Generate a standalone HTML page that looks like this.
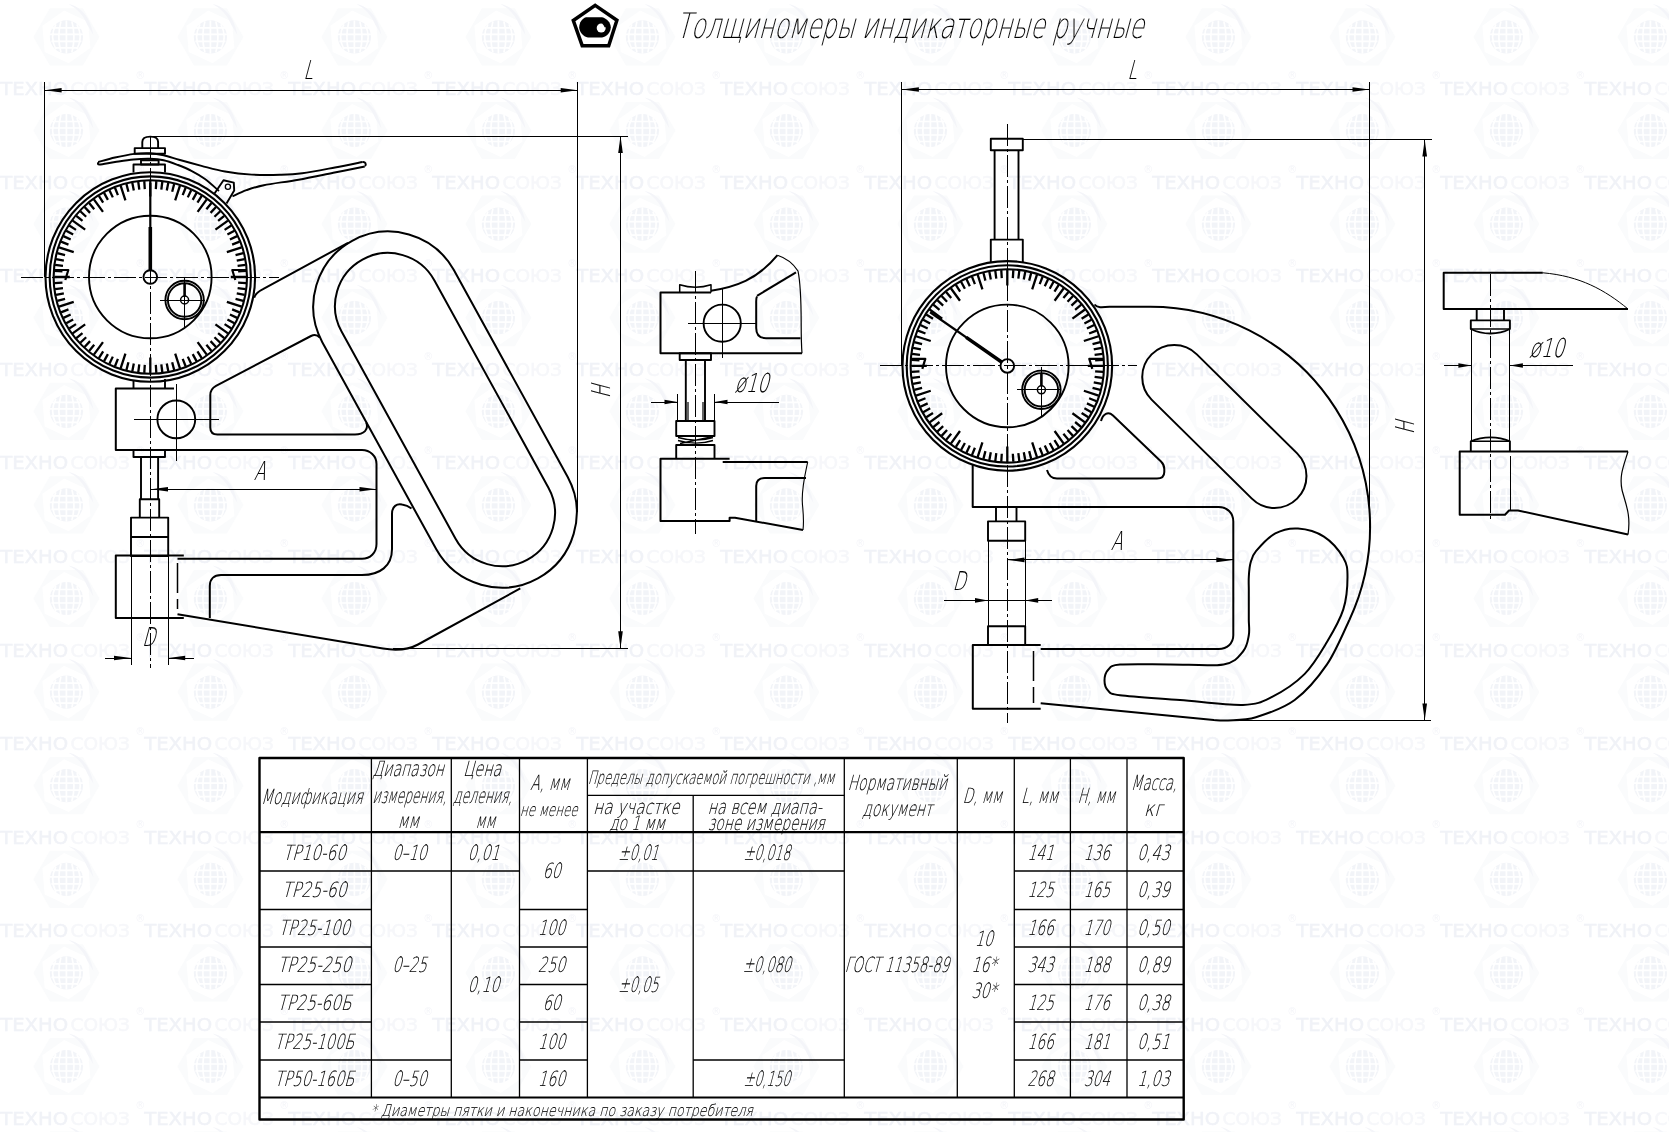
<!DOCTYPE html>
<html lang="ru"><head><meta charset="utf-8"><title>Толщиномеры индикаторные ручные</title>
<style>
html,body{margin:0;padding:0;background:#fff}
body{width:1669px;height:1132px;overflow:hidden}
svg{display:block;will-change:transform}
.dr{fill:none;stroke:#000;stroke-linecap:butt;stroke-linejoin:round}
.dr text{fill:#000;font-family:"DejaVu Sans Light","DejaVu Sans","Liberation Sans",sans-serif;font-weight:200}
.wm text{font-family:"DejaVu Sans","Liberation Sans",sans-serif;font-size:18.2px;font-weight:normal}
.wm .w1{fill:#f0f2f7;stroke:#f0f2f7;stroke-width:0.5px}
.wm .w2{fill:#f6f7fa;stroke:#f6f7fa;stroke-width:0.5px}
.wm .w3{fill:#f4f5f9;font-size:10px;font-weight:normal}
</style></head><body>
<svg width="1669" height="1132" viewBox="0 0 1669 1132">
<rect width="1669" height="1132" fill="#fff"/>
<g class="wm">
<text x="0.2" y="94.9"><tspan class="w1" textLength="68" lengthAdjust="spacingAndGlyphs">ТЕХНО</tspan><tspan class="w2" x="70.5" textLength="59.5" lengthAdjust="spacingAndGlyphs">СОЮЗ</tspan></text>
<text x="144.2" y="94.9"><tspan class="w1" textLength="68" lengthAdjust="spacingAndGlyphs">ТЕХНО</tspan><tspan class="w2" x="214.5" textLength="59.5" lengthAdjust="spacingAndGlyphs">СОЮЗ</tspan></text><text x="135.2" y="79.4" class="w3">®</text>
<text x="288.2" y="94.9"><tspan class="w1" textLength="68" lengthAdjust="spacingAndGlyphs">ТЕХНО</tspan><tspan class="w2" x="358.5" textLength="59.5" lengthAdjust="spacingAndGlyphs">СОЮЗ</tspan></text><text x="279.2" y="79.4" class="w3">®</text>
<text x="432.2" y="94.9"><tspan class="w1" textLength="68" lengthAdjust="spacingAndGlyphs">ТЕХНО</tspan><tspan class="w2" x="502.5" textLength="59.5" lengthAdjust="spacingAndGlyphs">СОЮЗ</tspan></text><text x="423.2" y="79.4" class="w3">®</text>
<text x="576.2" y="94.9"><tspan class="w1" textLength="68" lengthAdjust="spacingAndGlyphs">ТЕХНО</tspan><tspan class="w2" x="646.5" textLength="59.5" lengthAdjust="spacingAndGlyphs">СОЮЗ</tspan></text><text x="567.2" y="79.4" class="w3">®</text>
<text x="720.2" y="94.9"><tspan class="w1" textLength="68" lengthAdjust="spacingAndGlyphs">ТЕХНО</tspan><tspan class="w2" x="790.5" textLength="59.5" lengthAdjust="spacingAndGlyphs">СОЮЗ</tspan></text><text x="711.2" y="79.4" class="w3">®</text>
<text x="864.2" y="94.9"><tspan class="w1" textLength="68" lengthAdjust="spacingAndGlyphs">ТЕХНО</tspan><tspan class="w2" x="934.5" textLength="59.5" lengthAdjust="spacingAndGlyphs">СОЮЗ</tspan></text><text x="855.2" y="79.4" class="w3">®</text>
<text x="1008.2" y="94.9"><tspan class="w1" textLength="68" lengthAdjust="spacingAndGlyphs">ТЕХНО</tspan><tspan class="w2" x="1078.5" textLength="59.5" lengthAdjust="spacingAndGlyphs">СОЮЗ</tspan></text><text x="999.2" y="79.4" class="w3">®</text>
<text x="1152.2" y="94.9"><tspan class="w1" textLength="68" lengthAdjust="spacingAndGlyphs">ТЕХНО</tspan><tspan class="w2" x="1222.5" textLength="59.5" lengthAdjust="spacingAndGlyphs">СОЮЗ</tspan></text><text x="1143.2" y="79.4" class="w3">®</text>
<text x="1296.2" y="94.9"><tspan class="w1" textLength="68" lengthAdjust="spacingAndGlyphs">ТЕХНО</tspan><tspan class="w2" x="1366.5" textLength="59.5" lengthAdjust="spacingAndGlyphs">СОЮЗ</tspan></text><text x="1287.2" y="79.4" class="w3">®</text>
<text x="1440.2" y="94.9"><tspan class="w1" textLength="68" lengthAdjust="spacingAndGlyphs">ТЕХНО</tspan><tspan class="w2" x="1510.5" textLength="59.5" lengthAdjust="spacingAndGlyphs">СОЮЗ</tspan></text><text x="1431.2" y="79.4" class="w3">®</text>
<text x="1584.2" y="94.9"><tspan class="w1" textLength="68" lengthAdjust="spacingAndGlyphs">ТЕХНО</tspan><tspan class="w2" x="1654.5" textLength="59.5" lengthAdjust="spacingAndGlyphs">СОЮЗ</tspan></text><text x="1575.2" y="79.4" class="w3">®</text>
<text x="0.2" y="188.5"><tspan class="w1" textLength="68" lengthAdjust="spacingAndGlyphs">ТЕХНО</tspan><tspan class="w2" x="70.5" textLength="59.5" lengthAdjust="spacingAndGlyphs">СОЮЗ</tspan></text>
<text x="144.2" y="188.5"><tspan class="w1" textLength="68" lengthAdjust="spacingAndGlyphs">ТЕХНО</tspan><tspan class="w2" x="214.5" textLength="59.5" lengthAdjust="spacingAndGlyphs">СОЮЗ</tspan></text><text x="135.2" y="173" class="w3">®</text>
<text x="288.2" y="188.5"><tspan class="w1" textLength="68" lengthAdjust="spacingAndGlyphs">ТЕХНО</tspan><tspan class="w2" x="358.5" textLength="59.5" lengthAdjust="spacingAndGlyphs">СОЮЗ</tspan></text><text x="279.2" y="173" class="w3">®</text>
<text x="432.2" y="188.5"><tspan class="w1" textLength="68" lengthAdjust="spacingAndGlyphs">ТЕХНО</tspan><tspan class="w2" x="502.5" textLength="59.5" lengthAdjust="spacingAndGlyphs">СОЮЗ</tspan></text><text x="423.2" y="173" class="w3">®</text>
<text x="576.2" y="188.5"><tspan class="w1" textLength="68" lengthAdjust="spacingAndGlyphs">ТЕХНО</tspan><tspan class="w2" x="646.5" textLength="59.5" lengthAdjust="spacingAndGlyphs">СОЮЗ</tspan></text><text x="567.2" y="173" class="w3">®</text>
<text x="720.2" y="188.5"><tspan class="w1" textLength="68" lengthAdjust="spacingAndGlyphs">ТЕХНО</tspan><tspan class="w2" x="790.5" textLength="59.5" lengthAdjust="spacingAndGlyphs">СОЮЗ</tspan></text><text x="711.2" y="173" class="w3">®</text>
<text x="864.2" y="188.5"><tspan class="w1" textLength="68" lengthAdjust="spacingAndGlyphs">ТЕХНО</tspan><tspan class="w2" x="934.5" textLength="59.5" lengthAdjust="spacingAndGlyphs">СОЮЗ</tspan></text><text x="855.2" y="173" class="w3">®</text>
<text x="1008.2" y="188.5"><tspan class="w1" textLength="68" lengthAdjust="spacingAndGlyphs">ТЕХНО</tspan><tspan class="w2" x="1078.5" textLength="59.5" lengthAdjust="spacingAndGlyphs">СОЮЗ</tspan></text><text x="999.2" y="173" class="w3">®</text>
<text x="1152.2" y="188.5"><tspan class="w1" textLength="68" lengthAdjust="spacingAndGlyphs">ТЕХНО</tspan><tspan class="w2" x="1222.5" textLength="59.5" lengthAdjust="spacingAndGlyphs">СОЮЗ</tspan></text><text x="1143.2" y="173" class="w3">®</text>
<text x="1296.2" y="188.5"><tspan class="w1" textLength="68" lengthAdjust="spacingAndGlyphs">ТЕХНО</tspan><tspan class="w2" x="1366.5" textLength="59.5" lengthAdjust="spacingAndGlyphs">СОЮЗ</tspan></text><text x="1287.2" y="173" class="w3">®</text>
<text x="1440.2" y="188.5"><tspan class="w1" textLength="68" lengthAdjust="spacingAndGlyphs">ТЕХНО</tspan><tspan class="w2" x="1510.5" textLength="59.5" lengthAdjust="spacingAndGlyphs">СОЮЗ</tspan></text><text x="1431.2" y="173" class="w3">®</text>
<text x="1584.2" y="188.5"><tspan class="w1" textLength="68" lengthAdjust="spacingAndGlyphs">ТЕХНО</tspan><tspan class="w2" x="1654.5" textLength="59.5" lengthAdjust="spacingAndGlyphs">СОЮЗ</tspan></text><text x="1575.2" y="173" class="w3">®</text>
<text x="0.2" y="282.1"><tspan class="w1" textLength="68" lengthAdjust="spacingAndGlyphs">ТЕХНО</tspan><tspan class="w2" x="70.5" textLength="59.5" lengthAdjust="spacingAndGlyphs">СОЮЗ</tspan></text>
<text x="144.2" y="282.1"><tspan class="w1" textLength="68" lengthAdjust="spacingAndGlyphs">ТЕХНО</tspan><tspan class="w2" x="214.5" textLength="59.5" lengthAdjust="spacingAndGlyphs">СОЮЗ</tspan></text><text x="135.2" y="266.6" class="w3">®</text>
<text x="288.2" y="282.1"><tspan class="w1" textLength="68" lengthAdjust="spacingAndGlyphs">ТЕХНО</tspan><tspan class="w2" x="358.5" textLength="59.5" lengthAdjust="spacingAndGlyphs">СОЮЗ</tspan></text><text x="279.2" y="266.6" class="w3">®</text>
<text x="432.2" y="282.1"><tspan class="w1" textLength="68" lengthAdjust="spacingAndGlyphs">ТЕХНО</tspan><tspan class="w2" x="502.5" textLength="59.5" lengthAdjust="spacingAndGlyphs">СОЮЗ</tspan></text><text x="423.2" y="266.6" class="w3">®</text>
<text x="576.2" y="282.1"><tspan class="w1" textLength="68" lengthAdjust="spacingAndGlyphs">ТЕХНО</tspan><tspan class="w2" x="646.5" textLength="59.5" lengthAdjust="spacingAndGlyphs">СОЮЗ</tspan></text><text x="567.2" y="266.6" class="w3">®</text>
<text x="720.2" y="282.1"><tspan class="w1" textLength="68" lengthAdjust="spacingAndGlyphs">ТЕХНО</tspan><tspan class="w2" x="790.5" textLength="59.5" lengthAdjust="spacingAndGlyphs">СОЮЗ</tspan></text><text x="711.2" y="266.6" class="w3">®</text>
<text x="864.2" y="282.1"><tspan class="w1" textLength="68" lengthAdjust="spacingAndGlyphs">ТЕХНО</tspan><tspan class="w2" x="934.5" textLength="59.5" lengthAdjust="spacingAndGlyphs">СОЮЗ</tspan></text><text x="855.2" y="266.6" class="w3">®</text>
<text x="1008.2" y="282.1"><tspan class="w1" textLength="68" lengthAdjust="spacingAndGlyphs">ТЕХНО</tspan><tspan class="w2" x="1078.5" textLength="59.5" lengthAdjust="spacingAndGlyphs">СОЮЗ</tspan></text><text x="999.2" y="266.6" class="w3">®</text>
<text x="1152.2" y="282.1"><tspan class="w1" textLength="68" lengthAdjust="spacingAndGlyphs">ТЕХНО</tspan><tspan class="w2" x="1222.5" textLength="59.5" lengthAdjust="spacingAndGlyphs">СОЮЗ</tspan></text><text x="1143.2" y="266.6" class="w3">®</text>
<text x="1296.2" y="282.1"><tspan class="w1" textLength="68" lengthAdjust="spacingAndGlyphs">ТЕХНО</tspan><tspan class="w2" x="1366.5" textLength="59.5" lengthAdjust="spacingAndGlyphs">СОЮЗ</tspan></text><text x="1287.2" y="266.6" class="w3">®</text>
<text x="1440.2" y="282.1"><tspan class="w1" textLength="68" lengthAdjust="spacingAndGlyphs">ТЕХНО</tspan><tspan class="w2" x="1510.5" textLength="59.5" lengthAdjust="spacingAndGlyphs">СОЮЗ</tspan></text><text x="1431.2" y="266.6" class="w3">®</text>
<text x="1584.2" y="282.1"><tspan class="w1" textLength="68" lengthAdjust="spacingAndGlyphs">ТЕХНО</tspan><tspan class="w2" x="1654.5" textLength="59.5" lengthAdjust="spacingAndGlyphs">СОЮЗ</tspan></text><text x="1575.2" y="266.6" class="w3">®</text>
<text x="0.2" y="375.7"><tspan class="w1" textLength="68" lengthAdjust="spacingAndGlyphs">ТЕХНО</tspan><tspan class="w2" x="70.5" textLength="59.5" lengthAdjust="spacingAndGlyphs">СОЮЗ</tspan></text>
<text x="144.2" y="375.7"><tspan class="w1" textLength="68" lengthAdjust="spacingAndGlyphs">ТЕХНО</tspan><tspan class="w2" x="214.5" textLength="59.5" lengthAdjust="spacingAndGlyphs">СОЮЗ</tspan></text><text x="135.2" y="360.2" class="w3">®</text>
<text x="288.2" y="375.7"><tspan class="w1" textLength="68" lengthAdjust="spacingAndGlyphs">ТЕХНО</tspan><tspan class="w2" x="358.5" textLength="59.5" lengthAdjust="spacingAndGlyphs">СОЮЗ</tspan></text><text x="279.2" y="360.2" class="w3">®</text>
<text x="432.2" y="375.7"><tspan class="w1" textLength="68" lengthAdjust="spacingAndGlyphs">ТЕХНО</tspan><tspan class="w2" x="502.5" textLength="59.5" lengthAdjust="spacingAndGlyphs">СОЮЗ</tspan></text><text x="423.2" y="360.2" class="w3">®</text>
<text x="576.2" y="375.7"><tspan class="w1" textLength="68" lengthAdjust="spacingAndGlyphs">ТЕХНО</tspan><tspan class="w2" x="646.5" textLength="59.5" lengthAdjust="spacingAndGlyphs">СОЮЗ</tspan></text><text x="567.2" y="360.2" class="w3">®</text>
<text x="720.2" y="375.7"><tspan class="w1" textLength="68" lengthAdjust="spacingAndGlyphs">ТЕХНО</tspan><tspan class="w2" x="790.5" textLength="59.5" lengthAdjust="spacingAndGlyphs">СОЮЗ</tspan></text><text x="711.2" y="360.2" class="w3">®</text>
<text x="864.2" y="375.7"><tspan class="w1" textLength="68" lengthAdjust="spacingAndGlyphs">ТЕХНО</tspan><tspan class="w2" x="934.5" textLength="59.5" lengthAdjust="spacingAndGlyphs">СОЮЗ</tspan></text><text x="855.2" y="360.2" class="w3">®</text>
<text x="1008.2" y="375.7"><tspan class="w1" textLength="68" lengthAdjust="spacingAndGlyphs">ТЕХНО</tspan><tspan class="w2" x="1078.5" textLength="59.5" lengthAdjust="spacingAndGlyphs">СОЮЗ</tspan></text><text x="999.2" y="360.2" class="w3">®</text>
<text x="1152.2" y="375.7"><tspan class="w1" textLength="68" lengthAdjust="spacingAndGlyphs">ТЕХНО</tspan><tspan class="w2" x="1222.5" textLength="59.5" lengthAdjust="spacingAndGlyphs">СОЮЗ</tspan></text><text x="1143.2" y="360.2" class="w3">®</text>
<text x="1296.2" y="375.7"><tspan class="w1" textLength="68" lengthAdjust="spacingAndGlyphs">ТЕХНО</tspan><tspan class="w2" x="1366.5" textLength="59.5" lengthAdjust="spacingAndGlyphs">СОЮЗ</tspan></text><text x="1287.2" y="360.2" class="w3">®</text>
<text x="1440.2" y="375.7"><tspan class="w1" textLength="68" lengthAdjust="spacingAndGlyphs">ТЕХНО</tspan><tspan class="w2" x="1510.5" textLength="59.5" lengthAdjust="spacingAndGlyphs">СОЮЗ</tspan></text><text x="1431.2" y="360.2" class="w3">®</text>
<text x="1584.2" y="375.7"><tspan class="w1" textLength="68" lengthAdjust="spacingAndGlyphs">ТЕХНО</tspan><tspan class="w2" x="1654.5" textLength="59.5" lengthAdjust="spacingAndGlyphs">СОЮЗ</tspan></text><text x="1575.2" y="360.2" class="w3">®</text>
<text x="0.2" y="469.3"><tspan class="w1" textLength="68" lengthAdjust="spacingAndGlyphs">ТЕХНО</tspan><tspan class="w2" x="70.5" textLength="59.5" lengthAdjust="spacingAndGlyphs">СОЮЗ</tspan></text>
<text x="144.2" y="469.3"><tspan class="w1" textLength="68" lengthAdjust="spacingAndGlyphs">ТЕХНО</tspan><tspan class="w2" x="214.5" textLength="59.5" lengthAdjust="spacingAndGlyphs">СОЮЗ</tspan></text><text x="135.2" y="453.8" class="w3">®</text>
<text x="288.2" y="469.3"><tspan class="w1" textLength="68" lengthAdjust="spacingAndGlyphs">ТЕХНО</tspan><tspan class="w2" x="358.5" textLength="59.5" lengthAdjust="spacingAndGlyphs">СОЮЗ</tspan></text><text x="279.2" y="453.8" class="w3">®</text>
<text x="432.2" y="469.3"><tspan class="w1" textLength="68" lengthAdjust="spacingAndGlyphs">ТЕХНО</tspan><tspan class="w2" x="502.5" textLength="59.5" lengthAdjust="spacingAndGlyphs">СОЮЗ</tspan></text><text x="423.2" y="453.8" class="w3">®</text>
<text x="576.2" y="469.3"><tspan class="w1" textLength="68" lengthAdjust="spacingAndGlyphs">ТЕХНО</tspan><tspan class="w2" x="646.5" textLength="59.5" lengthAdjust="spacingAndGlyphs">СОЮЗ</tspan></text><text x="567.2" y="453.8" class="w3">®</text>
<text x="720.2" y="469.3"><tspan class="w1" textLength="68" lengthAdjust="spacingAndGlyphs">ТЕХНО</tspan><tspan class="w2" x="790.5" textLength="59.5" lengthAdjust="spacingAndGlyphs">СОЮЗ</tspan></text><text x="711.2" y="453.8" class="w3">®</text>
<text x="864.2" y="469.3"><tspan class="w1" textLength="68" lengthAdjust="spacingAndGlyphs">ТЕХНО</tspan><tspan class="w2" x="934.5" textLength="59.5" lengthAdjust="spacingAndGlyphs">СОЮЗ</tspan></text><text x="855.2" y="453.8" class="w3">®</text>
<text x="1008.2" y="469.3"><tspan class="w1" textLength="68" lengthAdjust="spacingAndGlyphs">ТЕХНО</tspan><tspan class="w2" x="1078.5" textLength="59.5" lengthAdjust="spacingAndGlyphs">СОЮЗ</tspan></text><text x="999.2" y="453.8" class="w3">®</text>
<text x="1152.2" y="469.3"><tspan class="w1" textLength="68" lengthAdjust="spacingAndGlyphs">ТЕХНО</tspan><tspan class="w2" x="1222.5" textLength="59.5" lengthAdjust="spacingAndGlyphs">СОЮЗ</tspan></text><text x="1143.2" y="453.8" class="w3">®</text>
<text x="1296.2" y="469.3"><tspan class="w1" textLength="68" lengthAdjust="spacingAndGlyphs">ТЕХНО</tspan><tspan class="w2" x="1366.5" textLength="59.5" lengthAdjust="spacingAndGlyphs">СОЮЗ</tspan></text><text x="1287.2" y="453.8" class="w3">®</text>
<text x="1440.2" y="469.3"><tspan class="w1" textLength="68" lengthAdjust="spacingAndGlyphs">ТЕХНО</tspan><tspan class="w2" x="1510.5" textLength="59.5" lengthAdjust="spacingAndGlyphs">СОЮЗ</tspan></text><text x="1431.2" y="453.8" class="w3">®</text>
<text x="1584.2" y="469.3"><tspan class="w1" textLength="68" lengthAdjust="spacingAndGlyphs">ТЕХНО</tspan><tspan class="w2" x="1654.5" textLength="59.5" lengthAdjust="spacingAndGlyphs">СОЮЗ</tspan></text><text x="1575.2" y="453.8" class="w3">®</text>
<text x="0.2" y="562.9"><tspan class="w1" textLength="68" lengthAdjust="spacingAndGlyphs">ТЕХНО</tspan><tspan class="w2" x="70.5" textLength="59.5" lengthAdjust="spacingAndGlyphs">СОЮЗ</tspan></text>
<text x="144.2" y="562.9"><tspan class="w1" textLength="68" lengthAdjust="spacingAndGlyphs">ТЕХНО</tspan><tspan class="w2" x="214.5" textLength="59.5" lengthAdjust="spacingAndGlyphs">СОЮЗ</tspan></text><text x="135.2" y="547.4" class="w3">®</text>
<text x="288.2" y="562.9"><tspan class="w1" textLength="68" lengthAdjust="spacingAndGlyphs">ТЕХНО</tspan><tspan class="w2" x="358.5" textLength="59.5" lengthAdjust="spacingAndGlyphs">СОЮЗ</tspan></text><text x="279.2" y="547.4" class="w3">®</text>
<text x="432.2" y="562.9"><tspan class="w1" textLength="68" lengthAdjust="spacingAndGlyphs">ТЕХНО</tspan><tspan class="w2" x="502.5" textLength="59.5" lengthAdjust="spacingAndGlyphs">СОЮЗ</tspan></text><text x="423.2" y="547.4" class="w3">®</text>
<text x="576.2" y="562.9"><tspan class="w1" textLength="68" lengthAdjust="spacingAndGlyphs">ТЕХНО</tspan><tspan class="w2" x="646.5" textLength="59.5" lengthAdjust="spacingAndGlyphs">СОЮЗ</tspan></text><text x="567.2" y="547.4" class="w3">®</text>
<text x="720.2" y="562.9"><tspan class="w1" textLength="68" lengthAdjust="spacingAndGlyphs">ТЕХНО</tspan><tspan class="w2" x="790.5" textLength="59.5" lengthAdjust="spacingAndGlyphs">СОЮЗ</tspan></text><text x="711.2" y="547.4" class="w3">®</text>
<text x="864.2" y="562.9"><tspan class="w1" textLength="68" lengthAdjust="spacingAndGlyphs">ТЕХНО</tspan><tspan class="w2" x="934.5" textLength="59.5" lengthAdjust="spacingAndGlyphs">СОЮЗ</tspan></text><text x="855.2" y="547.4" class="w3">®</text>
<text x="1008.2" y="562.9"><tspan class="w1" textLength="68" lengthAdjust="spacingAndGlyphs">ТЕХНО</tspan><tspan class="w2" x="1078.5" textLength="59.5" lengthAdjust="spacingAndGlyphs">СОЮЗ</tspan></text><text x="999.2" y="547.4" class="w3">®</text>
<text x="1152.2" y="562.9"><tspan class="w1" textLength="68" lengthAdjust="spacingAndGlyphs">ТЕХНО</tspan><tspan class="w2" x="1222.5" textLength="59.5" lengthAdjust="spacingAndGlyphs">СОЮЗ</tspan></text><text x="1143.2" y="547.4" class="w3">®</text>
<text x="1296.2" y="562.9"><tspan class="w1" textLength="68" lengthAdjust="spacingAndGlyphs">ТЕХНО</tspan><tspan class="w2" x="1366.5" textLength="59.5" lengthAdjust="spacingAndGlyphs">СОЮЗ</tspan></text><text x="1287.2" y="547.4" class="w3">®</text>
<text x="1440.2" y="562.9"><tspan class="w1" textLength="68" lengthAdjust="spacingAndGlyphs">ТЕХНО</tspan><tspan class="w2" x="1510.5" textLength="59.5" lengthAdjust="spacingAndGlyphs">СОЮЗ</tspan></text><text x="1431.2" y="547.4" class="w3">®</text>
<text x="1584.2" y="562.9"><tspan class="w1" textLength="68" lengthAdjust="spacingAndGlyphs">ТЕХНО</tspan><tspan class="w2" x="1654.5" textLength="59.5" lengthAdjust="spacingAndGlyphs">СОЮЗ</tspan></text><text x="1575.2" y="547.4" class="w3">®</text>
<text x="0.2" y="656.5"><tspan class="w1" textLength="68" lengthAdjust="spacingAndGlyphs">ТЕХНО</tspan><tspan class="w2" x="70.5" textLength="59.5" lengthAdjust="spacingAndGlyphs">СОЮЗ</tspan></text>
<text x="144.2" y="656.5"><tspan class="w1" textLength="68" lengthAdjust="spacingAndGlyphs">ТЕХНО</tspan><tspan class="w2" x="214.5" textLength="59.5" lengthAdjust="spacingAndGlyphs">СОЮЗ</tspan></text><text x="135.2" y="641" class="w3">®</text>
<text x="288.2" y="656.5"><tspan class="w1" textLength="68" lengthAdjust="spacingAndGlyphs">ТЕХНО</tspan><tspan class="w2" x="358.5" textLength="59.5" lengthAdjust="spacingAndGlyphs">СОЮЗ</tspan></text><text x="279.2" y="641" class="w3">®</text>
<text x="432.2" y="656.5"><tspan class="w1" textLength="68" lengthAdjust="spacingAndGlyphs">ТЕХНО</tspan><tspan class="w2" x="502.5" textLength="59.5" lengthAdjust="spacingAndGlyphs">СОЮЗ</tspan></text><text x="423.2" y="641" class="w3">®</text>
<text x="576.2" y="656.5"><tspan class="w1" textLength="68" lengthAdjust="spacingAndGlyphs">ТЕХНО</tspan><tspan class="w2" x="646.5" textLength="59.5" lengthAdjust="spacingAndGlyphs">СОЮЗ</tspan></text><text x="567.2" y="641" class="w3">®</text>
<text x="720.2" y="656.5"><tspan class="w1" textLength="68" lengthAdjust="spacingAndGlyphs">ТЕХНО</tspan><tspan class="w2" x="790.5" textLength="59.5" lengthAdjust="spacingAndGlyphs">СОЮЗ</tspan></text><text x="711.2" y="641" class="w3">®</text>
<text x="864.2" y="656.5"><tspan class="w1" textLength="68" lengthAdjust="spacingAndGlyphs">ТЕХНО</tspan><tspan class="w2" x="934.5" textLength="59.5" lengthAdjust="spacingAndGlyphs">СОЮЗ</tspan></text><text x="855.2" y="641" class="w3">®</text>
<text x="1008.2" y="656.5"><tspan class="w1" textLength="68" lengthAdjust="spacingAndGlyphs">ТЕХНО</tspan><tspan class="w2" x="1078.5" textLength="59.5" lengthAdjust="spacingAndGlyphs">СОЮЗ</tspan></text><text x="999.2" y="641" class="w3">®</text>
<text x="1152.2" y="656.5"><tspan class="w1" textLength="68" lengthAdjust="spacingAndGlyphs">ТЕХНО</tspan><tspan class="w2" x="1222.5" textLength="59.5" lengthAdjust="spacingAndGlyphs">СОЮЗ</tspan></text><text x="1143.2" y="641" class="w3">®</text>
<text x="1296.2" y="656.5"><tspan class="w1" textLength="68" lengthAdjust="spacingAndGlyphs">ТЕХНО</tspan><tspan class="w2" x="1366.5" textLength="59.5" lengthAdjust="spacingAndGlyphs">СОЮЗ</tspan></text><text x="1287.2" y="641" class="w3">®</text>
<text x="1440.2" y="656.5"><tspan class="w1" textLength="68" lengthAdjust="spacingAndGlyphs">ТЕХНО</tspan><tspan class="w2" x="1510.5" textLength="59.5" lengthAdjust="spacingAndGlyphs">СОЮЗ</tspan></text><text x="1431.2" y="641" class="w3">®</text>
<text x="1584.2" y="656.5"><tspan class="w1" textLength="68" lengthAdjust="spacingAndGlyphs">ТЕХНО</tspan><tspan class="w2" x="1654.5" textLength="59.5" lengthAdjust="spacingAndGlyphs">СОЮЗ</tspan></text><text x="1575.2" y="641" class="w3">®</text>
<text x="0.2" y="750.1"><tspan class="w1" textLength="68" lengthAdjust="spacingAndGlyphs">ТЕХНО</tspan><tspan class="w2" x="70.5" textLength="59.5" lengthAdjust="spacingAndGlyphs">СОЮЗ</tspan></text>
<text x="144.2" y="750.1"><tspan class="w1" textLength="68" lengthAdjust="spacingAndGlyphs">ТЕХНО</tspan><tspan class="w2" x="214.5" textLength="59.5" lengthAdjust="spacingAndGlyphs">СОЮЗ</tspan></text><text x="135.2" y="734.6" class="w3">®</text>
<text x="288.2" y="750.1"><tspan class="w1" textLength="68" lengthAdjust="spacingAndGlyphs">ТЕХНО</tspan><tspan class="w2" x="358.5" textLength="59.5" lengthAdjust="spacingAndGlyphs">СОЮЗ</tspan></text><text x="279.2" y="734.6" class="w3">®</text>
<text x="432.2" y="750.1"><tspan class="w1" textLength="68" lengthAdjust="spacingAndGlyphs">ТЕХНО</tspan><tspan class="w2" x="502.5" textLength="59.5" lengthAdjust="spacingAndGlyphs">СОЮЗ</tspan></text><text x="423.2" y="734.6" class="w3">®</text>
<text x="576.2" y="750.1"><tspan class="w1" textLength="68" lengthAdjust="spacingAndGlyphs">ТЕХНО</tspan><tspan class="w2" x="646.5" textLength="59.5" lengthAdjust="spacingAndGlyphs">СОЮЗ</tspan></text><text x="567.2" y="734.6" class="w3">®</text>
<text x="720.2" y="750.1"><tspan class="w1" textLength="68" lengthAdjust="spacingAndGlyphs">ТЕХНО</tspan><tspan class="w2" x="790.5" textLength="59.5" lengthAdjust="spacingAndGlyphs">СОЮЗ</tspan></text><text x="711.2" y="734.6" class="w3">®</text>
<text x="864.2" y="750.1"><tspan class="w1" textLength="68" lengthAdjust="spacingAndGlyphs">ТЕХНО</tspan><tspan class="w2" x="934.5" textLength="59.5" lengthAdjust="spacingAndGlyphs">СОЮЗ</tspan></text><text x="855.2" y="734.6" class="w3">®</text>
<text x="1008.2" y="750.1"><tspan class="w1" textLength="68" lengthAdjust="spacingAndGlyphs">ТЕХНО</tspan><tspan class="w2" x="1078.5" textLength="59.5" lengthAdjust="spacingAndGlyphs">СОЮЗ</tspan></text><text x="999.2" y="734.6" class="w3">®</text>
<text x="1152.2" y="750.1"><tspan class="w1" textLength="68" lengthAdjust="spacingAndGlyphs">ТЕХНО</tspan><tspan class="w2" x="1222.5" textLength="59.5" lengthAdjust="spacingAndGlyphs">СОЮЗ</tspan></text><text x="1143.2" y="734.6" class="w3">®</text>
<text x="1296.2" y="750.1"><tspan class="w1" textLength="68" lengthAdjust="spacingAndGlyphs">ТЕХНО</tspan><tspan class="w2" x="1366.5" textLength="59.5" lengthAdjust="spacingAndGlyphs">СОЮЗ</tspan></text><text x="1287.2" y="734.6" class="w3">®</text>
<text x="1440.2" y="750.1"><tspan class="w1" textLength="68" lengthAdjust="spacingAndGlyphs">ТЕХНО</tspan><tspan class="w2" x="1510.5" textLength="59.5" lengthAdjust="spacingAndGlyphs">СОЮЗ</tspan></text><text x="1431.2" y="734.6" class="w3">®</text>
<text x="1584.2" y="750.1"><tspan class="w1" textLength="68" lengthAdjust="spacingAndGlyphs">ТЕХНО</tspan><tspan class="w2" x="1654.5" textLength="59.5" lengthAdjust="spacingAndGlyphs">СОЮЗ</tspan></text><text x="1575.2" y="734.6" class="w3">®</text>
<text x="0.2" y="843.7"><tspan class="w1" textLength="68" lengthAdjust="spacingAndGlyphs">ТЕХНО</tspan><tspan class="w2" x="70.5" textLength="59.5" lengthAdjust="spacingAndGlyphs">СОЮЗ</tspan></text>
<text x="144.2" y="843.7"><tspan class="w1" textLength="68" lengthAdjust="spacingAndGlyphs">ТЕХНО</tspan><tspan class="w2" x="214.5" textLength="59.5" lengthAdjust="spacingAndGlyphs">СОЮЗ</tspan></text><text x="135.2" y="828.2" class="w3">®</text>
<text x="288.2" y="843.7"><tspan class="w1" textLength="68" lengthAdjust="spacingAndGlyphs">ТЕХНО</tspan><tspan class="w2" x="358.5" textLength="59.5" lengthAdjust="spacingAndGlyphs">СОЮЗ</tspan></text><text x="279.2" y="828.2" class="w3">®</text>
<text x="432.2" y="843.7"><tspan class="w1" textLength="68" lengthAdjust="spacingAndGlyphs">ТЕХНО</tspan><tspan class="w2" x="502.5" textLength="59.5" lengthAdjust="spacingAndGlyphs">СОЮЗ</tspan></text><text x="423.2" y="828.2" class="w3">®</text>
<text x="576.2" y="843.7"><tspan class="w1" textLength="68" lengthAdjust="spacingAndGlyphs">ТЕХНО</tspan><tspan class="w2" x="646.5" textLength="59.5" lengthAdjust="spacingAndGlyphs">СОЮЗ</tspan></text><text x="567.2" y="828.2" class="w3">®</text>
<text x="720.2" y="843.7"><tspan class="w1" textLength="68" lengthAdjust="spacingAndGlyphs">ТЕХНО</tspan><tspan class="w2" x="790.5" textLength="59.5" lengthAdjust="spacingAndGlyphs">СОЮЗ</tspan></text><text x="711.2" y="828.2" class="w3">®</text>
<text x="864.2" y="843.7"><tspan class="w1" textLength="68" lengthAdjust="spacingAndGlyphs">ТЕХНО</tspan><tspan class="w2" x="934.5" textLength="59.5" lengthAdjust="spacingAndGlyphs">СОЮЗ</tspan></text><text x="855.2" y="828.2" class="w3">®</text>
<text x="1008.2" y="843.7"><tspan class="w1" textLength="68" lengthAdjust="spacingAndGlyphs">ТЕХНО</tspan><tspan class="w2" x="1078.5" textLength="59.5" lengthAdjust="spacingAndGlyphs">СОЮЗ</tspan></text><text x="999.2" y="828.2" class="w3">®</text>
<text x="1152.2" y="843.7"><tspan class="w1" textLength="68" lengthAdjust="spacingAndGlyphs">ТЕХНО</tspan><tspan class="w2" x="1222.5" textLength="59.5" lengthAdjust="spacingAndGlyphs">СОЮЗ</tspan></text><text x="1143.2" y="828.2" class="w3">®</text>
<text x="1296.2" y="843.7"><tspan class="w1" textLength="68" lengthAdjust="spacingAndGlyphs">ТЕХНО</tspan><tspan class="w2" x="1366.5" textLength="59.5" lengthAdjust="spacingAndGlyphs">СОЮЗ</tspan></text><text x="1287.2" y="828.2" class="w3">®</text>
<text x="1440.2" y="843.7"><tspan class="w1" textLength="68" lengthAdjust="spacingAndGlyphs">ТЕХНО</tspan><tspan class="w2" x="1510.5" textLength="59.5" lengthAdjust="spacingAndGlyphs">СОЮЗ</tspan></text><text x="1431.2" y="828.2" class="w3">®</text>
<text x="1584.2" y="843.7"><tspan class="w1" textLength="68" lengthAdjust="spacingAndGlyphs">ТЕХНО</tspan><tspan class="w2" x="1654.5" textLength="59.5" lengthAdjust="spacingAndGlyphs">СОЮЗ</tspan></text><text x="1575.2" y="828.2" class="w3">®</text>
<text x="0.2" y="937.3"><tspan class="w1" textLength="68" lengthAdjust="spacingAndGlyphs">ТЕХНО</tspan><tspan class="w2" x="70.5" textLength="59.5" lengthAdjust="spacingAndGlyphs">СОЮЗ</tspan></text>
<text x="144.2" y="937.3"><tspan class="w1" textLength="68" lengthAdjust="spacingAndGlyphs">ТЕХНО</tspan><tspan class="w2" x="214.5" textLength="59.5" lengthAdjust="spacingAndGlyphs">СОЮЗ</tspan></text><text x="135.2" y="921.8" class="w3">®</text>
<text x="288.2" y="937.3"><tspan class="w1" textLength="68" lengthAdjust="spacingAndGlyphs">ТЕХНО</tspan><tspan class="w2" x="358.5" textLength="59.5" lengthAdjust="spacingAndGlyphs">СОЮЗ</tspan></text><text x="279.2" y="921.8" class="w3">®</text>
<text x="432.2" y="937.3"><tspan class="w1" textLength="68" lengthAdjust="spacingAndGlyphs">ТЕХНО</tspan><tspan class="w2" x="502.5" textLength="59.5" lengthAdjust="spacingAndGlyphs">СОЮЗ</tspan></text><text x="423.2" y="921.8" class="w3">®</text>
<text x="576.2" y="937.3"><tspan class="w1" textLength="68" lengthAdjust="spacingAndGlyphs">ТЕХНО</tspan><tspan class="w2" x="646.5" textLength="59.5" lengthAdjust="spacingAndGlyphs">СОЮЗ</tspan></text><text x="567.2" y="921.8" class="w3">®</text>
<text x="720.2" y="937.3"><tspan class="w1" textLength="68" lengthAdjust="spacingAndGlyphs">ТЕХНО</tspan><tspan class="w2" x="790.5" textLength="59.5" lengthAdjust="spacingAndGlyphs">СОЮЗ</tspan></text><text x="711.2" y="921.8" class="w3">®</text>
<text x="864.2" y="937.3"><tspan class="w1" textLength="68" lengthAdjust="spacingAndGlyphs">ТЕХНО</tspan><tspan class="w2" x="934.5" textLength="59.5" lengthAdjust="spacingAndGlyphs">СОЮЗ</tspan></text><text x="855.2" y="921.8" class="w3">®</text>
<text x="1008.2" y="937.3"><tspan class="w1" textLength="68" lengthAdjust="spacingAndGlyphs">ТЕХНО</tspan><tspan class="w2" x="1078.5" textLength="59.5" lengthAdjust="spacingAndGlyphs">СОЮЗ</tspan></text><text x="999.2" y="921.8" class="w3">®</text>
<text x="1152.2" y="937.3"><tspan class="w1" textLength="68" lengthAdjust="spacingAndGlyphs">ТЕХНО</tspan><tspan class="w2" x="1222.5" textLength="59.5" lengthAdjust="spacingAndGlyphs">СОЮЗ</tspan></text><text x="1143.2" y="921.8" class="w3">®</text>
<text x="1296.2" y="937.3"><tspan class="w1" textLength="68" lengthAdjust="spacingAndGlyphs">ТЕХНО</tspan><tspan class="w2" x="1366.5" textLength="59.5" lengthAdjust="spacingAndGlyphs">СОЮЗ</tspan></text><text x="1287.2" y="921.8" class="w3">®</text>
<text x="1440.2" y="937.3"><tspan class="w1" textLength="68" lengthAdjust="spacingAndGlyphs">ТЕХНО</tspan><tspan class="w2" x="1510.5" textLength="59.5" lengthAdjust="spacingAndGlyphs">СОЮЗ</tspan></text><text x="1431.2" y="921.8" class="w3">®</text>
<text x="1584.2" y="937.3"><tspan class="w1" textLength="68" lengthAdjust="spacingAndGlyphs">ТЕХНО</tspan><tspan class="w2" x="1654.5" textLength="59.5" lengthAdjust="spacingAndGlyphs">СОЮЗ</tspan></text><text x="1575.2" y="921.8" class="w3">®</text>
<text x="0.2" y="1030.9"><tspan class="w1" textLength="68" lengthAdjust="spacingAndGlyphs">ТЕХНО</tspan><tspan class="w2" x="70.5" textLength="59.5" lengthAdjust="spacingAndGlyphs">СОЮЗ</tspan></text>
<text x="144.2" y="1030.9"><tspan class="w1" textLength="68" lengthAdjust="spacingAndGlyphs">ТЕХНО</tspan><tspan class="w2" x="214.5" textLength="59.5" lengthAdjust="spacingAndGlyphs">СОЮЗ</tspan></text><text x="135.2" y="1015.4" class="w3">®</text>
<text x="288.2" y="1030.9"><tspan class="w1" textLength="68" lengthAdjust="spacingAndGlyphs">ТЕХНО</tspan><tspan class="w2" x="358.5" textLength="59.5" lengthAdjust="spacingAndGlyphs">СОЮЗ</tspan></text><text x="279.2" y="1015.4" class="w3">®</text>
<text x="432.2" y="1030.9"><tspan class="w1" textLength="68" lengthAdjust="spacingAndGlyphs">ТЕХНО</tspan><tspan class="w2" x="502.5" textLength="59.5" lengthAdjust="spacingAndGlyphs">СОЮЗ</tspan></text><text x="423.2" y="1015.4" class="w3">®</text>
<text x="576.2" y="1030.9"><tspan class="w1" textLength="68" lengthAdjust="spacingAndGlyphs">ТЕХНО</tspan><tspan class="w2" x="646.5" textLength="59.5" lengthAdjust="spacingAndGlyphs">СОЮЗ</tspan></text><text x="567.2" y="1015.4" class="w3">®</text>
<text x="720.2" y="1030.9"><tspan class="w1" textLength="68" lengthAdjust="spacingAndGlyphs">ТЕХНО</tspan><tspan class="w2" x="790.5" textLength="59.5" lengthAdjust="spacingAndGlyphs">СОЮЗ</tspan></text><text x="711.2" y="1015.4" class="w3">®</text>
<text x="864.2" y="1030.9"><tspan class="w1" textLength="68" lengthAdjust="spacingAndGlyphs">ТЕХНО</tspan><tspan class="w2" x="934.5" textLength="59.5" lengthAdjust="spacingAndGlyphs">СОЮЗ</tspan></text><text x="855.2" y="1015.4" class="w3">®</text>
<text x="1008.2" y="1030.9"><tspan class="w1" textLength="68" lengthAdjust="spacingAndGlyphs">ТЕХНО</tspan><tspan class="w2" x="1078.5" textLength="59.5" lengthAdjust="spacingAndGlyphs">СОЮЗ</tspan></text><text x="999.2" y="1015.4" class="w3">®</text>
<text x="1152.2" y="1030.9"><tspan class="w1" textLength="68" lengthAdjust="spacingAndGlyphs">ТЕХНО</tspan><tspan class="w2" x="1222.5" textLength="59.5" lengthAdjust="spacingAndGlyphs">СОЮЗ</tspan></text><text x="1143.2" y="1015.4" class="w3">®</text>
<text x="1296.2" y="1030.9"><tspan class="w1" textLength="68" lengthAdjust="spacingAndGlyphs">ТЕХНО</tspan><tspan class="w2" x="1366.5" textLength="59.5" lengthAdjust="spacingAndGlyphs">СОЮЗ</tspan></text><text x="1287.2" y="1015.4" class="w3">®</text>
<text x="1440.2" y="1030.9"><tspan class="w1" textLength="68" lengthAdjust="spacingAndGlyphs">ТЕХНО</tspan><tspan class="w2" x="1510.5" textLength="59.5" lengthAdjust="spacingAndGlyphs">СОЮЗ</tspan></text><text x="1431.2" y="1015.4" class="w3">®</text>
<text x="1584.2" y="1030.9"><tspan class="w1" textLength="68" lengthAdjust="spacingAndGlyphs">ТЕХНО</tspan><tspan class="w2" x="1654.5" textLength="59.5" lengthAdjust="spacingAndGlyphs">СОЮЗ</tspan></text><text x="1575.2" y="1015.4" class="w3">®</text>
<text x="0.2" y="1124.5"><tspan class="w1" textLength="68" lengthAdjust="spacingAndGlyphs">ТЕХНО</tspan><tspan class="w2" x="70.5" textLength="59.5" lengthAdjust="spacingAndGlyphs">СОЮЗ</tspan></text>
<text x="144.2" y="1124.5"><tspan class="w1" textLength="68" lengthAdjust="spacingAndGlyphs">ТЕХНО</tspan><tspan class="w2" x="214.5" textLength="59.5" lengthAdjust="spacingAndGlyphs">СОЮЗ</tspan></text><text x="135.2" y="1109" class="w3">®</text>
<text x="288.2" y="1124.5"><tspan class="w1" textLength="68" lengthAdjust="spacingAndGlyphs">ТЕХНО</tspan><tspan class="w2" x="358.5" textLength="59.5" lengthAdjust="spacingAndGlyphs">СОЮЗ</tspan></text><text x="279.2" y="1109" class="w3">®</text>
<text x="432.2" y="1124.5"><tspan class="w1" textLength="68" lengthAdjust="spacingAndGlyphs">ТЕХНО</tspan><tspan class="w2" x="502.5" textLength="59.5" lengthAdjust="spacingAndGlyphs">СОЮЗ</tspan></text><text x="423.2" y="1109" class="w3">®</text>
<text x="576.2" y="1124.5"><tspan class="w1" textLength="68" lengthAdjust="spacingAndGlyphs">ТЕХНО</tspan><tspan class="w2" x="646.5" textLength="59.5" lengthAdjust="spacingAndGlyphs">СОЮЗ</tspan></text><text x="567.2" y="1109" class="w3">®</text>
<text x="720.2" y="1124.5"><tspan class="w1" textLength="68" lengthAdjust="spacingAndGlyphs">ТЕХНО</tspan><tspan class="w2" x="790.5" textLength="59.5" lengthAdjust="spacingAndGlyphs">СОЮЗ</tspan></text><text x="711.2" y="1109" class="w3">®</text>
<text x="864.2" y="1124.5"><tspan class="w1" textLength="68" lengthAdjust="spacingAndGlyphs">ТЕХНО</tspan><tspan class="w2" x="934.5" textLength="59.5" lengthAdjust="spacingAndGlyphs">СОЮЗ</tspan></text><text x="855.2" y="1109" class="w3">®</text>
<text x="1008.2" y="1124.5"><tspan class="w1" textLength="68" lengthAdjust="spacingAndGlyphs">ТЕХНО</tspan><tspan class="w2" x="1078.5" textLength="59.5" lengthAdjust="spacingAndGlyphs">СОЮЗ</tspan></text><text x="999.2" y="1109" class="w3">®</text>
<text x="1152.2" y="1124.5"><tspan class="w1" textLength="68" lengthAdjust="spacingAndGlyphs">ТЕХНО</tspan><tspan class="w2" x="1222.5" textLength="59.5" lengthAdjust="spacingAndGlyphs">СОЮЗ</tspan></text><text x="1143.2" y="1109" class="w3">®</text>
<text x="1296.2" y="1124.5"><tspan class="w1" textLength="68" lengthAdjust="spacingAndGlyphs">ТЕХНО</tspan><tspan class="w2" x="1366.5" textLength="59.5" lengthAdjust="spacingAndGlyphs">СОЮЗ</tspan></text><text x="1287.2" y="1109" class="w3">®</text>
<text x="1440.2" y="1124.5"><tspan class="w1" textLength="68" lengthAdjust="spacingAndGlyphs">ТЕХНО</tspan><tspan class="w2" x="1510.5" textLength="59.5" lengthAdjust="spacingAndGlyphs">СОЮЗ</tspan></text><text x="1431.2" y="1109" class="w3">®</text>
<text x="1584.2" y="1124.5"><tspan class="w1" textLength="68" lengthAdjust="spacingAndGlyphs">ТЕХНО</tspan><tspan class="w2" x="1654.5" textLength="59.5" lengthAdjust="spacingAndGlyphs">СОЮЗ</tspan></text><text x="1575.2" y="1109" class="w3">®</text>
<g transform="translate(66.4 36.9)"><path d="M33 0L16.5 28.58L-16.5 28.58L-33 0L-16.5 -28.58L16.5 -28.58ZM24.02 11.2L2.31 26.4L-21.71 15.2L-24.02 -11.2L-2.31 -26.4L21.71 -15.2Z" fill="#fafbfc" fill-rule="evenodd" stroke="none"/><path d="M2 -33C14 -31 24 -20 27 -2L21 -12C17 -22 10 -29 2 -33Z" fill="#f4f5f9" stroke="none"/><circle r="16.6" fill="#f2f4f8" stroke="none"/><path d="M-16.5 -2.5H16.5M-15 -9H15M-15 4.5H15M-11 11H11M0 -16.5V16.5M-5.5 -15.5C-8 -6 -8 6 -5.5 15.5M5.5 -15.5C8 -6 8 6 5.5 15.5M-10.5 -12.5C-15 -4 -15 4 -10.5 12.5M10.5 -12.5C15 -4 15 4 10.5 12.5" stroke="#fff" stroke-width="1.7" fill="none"/></g>
<g transform="translate(210.4 36.9)"><path d="M33 0L16.5 28.58L-16.5 28.58L-33 0L-16.5 -28.58L16.5 -28.58ZM24.02 11.2L2.31 26.4L-21.71 15.2L-24.02 -11.2L-2.31 -26.4L21.71 -15.2Z" fill="#fafbfc" fill-rule="evenodd" stroke="none"/><path d="M2 -33C14 -31 24 -20 27 -2L21 -12C17 -22 10 -29 2 -33Z" fill="#f4f5f9" stroke="none"/><circle r="16.6" fill="#f2f4f8" stroke="none"/><path d="M-16.5 -2.5H16.5M-15 -9H15M-15 4.5H15M-11 11H11M0 -16.5V16.5M-5.5 -15.5C-8 -6 -8 6 -5.5 15.5M5.5 -15.5C8 -6 8 6 5.5 15.5M-10.5 -12.5C-15 -4 -15 4 -10.5 12.5M10.5 -12.5C15 -4 15 4 10.5 12.5" stroke="#fff" stroke-width="1.7" fill="none"/></g>
<g transform="translate(354.4 36.9)"><path d="M33 0L16.5 28.58L-16.5 28.58L-33 0L-16.5 -28.58L16.5 -28.58ZM24.02 11.2L2.31 26.4L-21.71 15.2L-24.02 -11.2L-2.31 -26.4L21.71 -15.2Z" fill="#fafbfc" fill-rule="evenodd" stroke="none"/><path d="M2 -33C14 -31 24 -20 27 -2L21 -12C17 -22 10 -29 2 -33Z" fill="#f4f5f9" stroke="none"/><circle r="16.6" fill="#f2f4f8" stroke="none"/><path d="M-16.5 -2.5H16.5M-15 -9H15M-15 4.5H15M-11 11H11M0 -16.5V16.5M-5.5 -15.5C-8 -6 -8 6 -5.5 15.5M5.5 -15.5C8 -6 8 6 5.5 15.5M-10.5 -12.5C-15 -4 -15 4 -10.5 12.5M10.5 -12.5C15 -4 15 4 10.5 12.5" stroke="#fff" stroke-width="1.7" fill="none"/></g>
<g transform="translate(498.4 36.9)"><path d="M33 0L16.5 28.58L-16.5 28.58L-33 0L-16.5 -28.58L16.5 -28.58ZM24.02 11.2L2.31 26.4L-21.71 15.2L-24.02 -11.2L-2.31 -26.4L21.71 -15.2Z" fill="#fafbfc" fill-rule="evenodd" stroke="none"/><path d="M2 -33C14 -31 24 -20 27 -2L21 -12C17 -22 10 -29 2 -33Z" fill="#f4f5f9" stroke="none"/><circle r="16.6" fill="#f2f4f8" stroke="none"/><path d="M-16.5 -2.5H16.5M-15 -9H15M-15 4.5H15M-11 11H11M0 -16.5V16.5M-5.5 -15.5C-8 -6 -8 6 -5.5 15.5M5.5 -15.5C8 -6 8 6 5.5 15.5M-10.5 -12.5C-15 -4 -15 4 -10.5 12.5M10.5 -12.5C15 -4 15 4 10.5 12.5" stroke="#fff" stroke-width="1.7" fill="none"/></g>
<g transform="translate(642.4 36.9)"><path d="M33 0L16.5 28.58L-16.5 28.58L-33 0L-16.5 -28.58L16.5 -28.58ZM24.02 11.2L2.31 26.4L-21.71 15.2L-24.02 -11.2L-2.31 -26.4L21.71 -15.2Z" fill="#fafbfc" fill-rule="evenodd" stroke="none"/><path d="M2 -33C14 -31 24 -20 27 -2L21 -12C17 -22 10 -29 2 -33Z" fill="#f4f5f9" stroke="none"/><circle r="16.6" fill="#f2f4f8" stroke="none"/><path d="M-16.5 -2.5H16.5M-15 -9H15M-15 4.5H15M-11 11H11M0 -16.5V16.5M-5.5 -15.5C-8 -6 -8 6 -5.5 15.5M5.5 -15.5C8 -6 8 6 5.5 15.5M-10.5 -12.5C-15 -4 -15 4 -10.5 12.5M10.5 -12.5C15 -4 15 4 10.5 12.5" stroke="#fff" stroke-width="1.7" fill="none"/></g>
<g transform="translate(786.4 36.9)"><path d="M33 0L16.5 28.58L-16.5 28.58L-33 0L-16.5 -28.58L16.5 -28.58ZM24.02 11.2L2.31 26.4L-21.71 15.2L-24.02 -11.2L-2.31 -26.4L21.71 -15.2Z" fill="#fafbfc" fill-rule="evenodd" stroke="none"/><path d="M2 -33C14 -31 24 -20 27 -2L21 -12C17 -22 10 -29 2 -33Z" fill="#f4f5f9" stroke="none"/><circle r="16.6" fill="#f2f4f8" stroke="none"/><path d="M-16.5 -2.5H16.5M-15 -9H15M-15 4.5H15M-11 11H11M0 -16.5V16.5M-5.5 -15.5C-8 -6 -8 6 -5.5 15.5M5.5 -15.5C8 -6 8 6 5.5 15.5M-10.5 -12.5C-15 -4 -15 4 -10.5 12.5M10.5 -12.5C15 -4 15 4 10.5 12.5" stroke="#fff" stroke-width="1.7" fill="none"/></g>
<g transform="translate(930.4 36.9)"><path d="M33 0L16.5 28.58L-16.5 28.58L-33 0L-16.5 -28.58L16.5 -28.58ZM24.02 11.2L2.31 26.4L-21.71 15.2L-24.02 -11.2L-2.31 -26.4L21.71 -15.2Z" fill="#fafbfc" fill-rule="evenodd" stroke="none"/><path d="M2 -33C14 -31 24 -20 27 -2L21 -12C17 -22 10 -29 2 -33Z" fill="#f4f5f9" stroke="none"/><circle r="16.6" fill="#f2f4f8" stroke="none"/><path d="M-16.5 -2.5H16.5M-15 -9H15M-15 4.5H15M-11 11H11M0 -16.5V16.5M-5.5 -15.5C-8 -6 -8 6 -5.5 15.5M5.5 -15.5C8 -6 8 6 5.5 15.5M-10.5 -12.5C-15 -4 -15 4 -10.5 12.5M10.5 -12.5C15 -4 15 4 10.5 12.5" stroke="#fff" stroke-width="1.7" fill="none"/></g>
<g transform="translate(1074.4 36.9)"><path d="M33 0L16.5 28.58L-16.5 28.58L-33 0L-16.5 -28.58L16.5 -28.58ZM24.02 11.2L2.31 26.4L-21.71 15.2L-24.02 -11.2L-2.31 -26.4L21.71 -15.2Z" fill="#fafbfc" fill-rule="evenodd" stroke="none"/><path d="M2 -33C14 -31 24 -20 27 -2L21 -12C17 -22 10 -29 2 -33Z" fill="#f4f5f9" stroke="none"/><circle r="16.6" fill="#f2f4f8" stroke="none"/><path d="M-16.5 -2.5H16.5M-15 -9H15M-15 4.5H15M-11 11H11M0 -16.5V16.5M-5.5 -15.5C-8 -6 -8 6 -5.5 15.5M5.5 -15.5C8 -6 8 6 5.5 15.5M-10.5 -12.5C-15 -4 -15 4 -10.5 12.5M10.5 -12.5C15 -4 15 4 10.5 12.5" stroke="#fff" stroke-width="1.7" fill="none"/></g>
<g transform="translate(1218.4 36.9)"><path d="M33 0L16.5 28.58L-16.5 28.58L-33 0L-16.5 -28.58L16.5 -28.58ZM24.02 11.2L2.31 26.4L-21.71 15.2L-24.02 -11.2L-2.31 -26.4L21.71 -15.2Z" fill="#fafbfc" fill-rule="evenodd" stroke="none"/><path d="M2 -33C14 -31 24 -20 27 -2L21 -12C17 -22 10 -29 2 -33Z" fill="#f4f5f9" stroke="none"/><circle r="16.6" fill="#f2f4f8" stroke="none"/><path d="M-16.5 -2.5H16.5M-15 -9H15M-15 4.5H15M-11 11H11M0 -16.5V16.5M-5.5 -15.5C-8 -6 -8 6 -5.5 15.5M5.5 -15.5C8 -6 8 6 5.5 15.5M-10.5 -12.5C-15 -4 -15 4 -10.5 12.5M10.5 -12.5C15 -4 15 4 10.5 12.5" stroke="#fff" stroke-width="1.7" fill="none"/></g>
<g transform="translate(1362.4 36.9)"><path d="M33 0L16.5 28.58L-16.5 28.58L-33 0L-16.5 -28.58L16.5 -28.58ZM24.02 11.2L2.31 26.4L-21.71 15.2L-24.02 -11.2L-2.31 -26.4L21.71 -15.2Z" fill="#fafbfc" fill-rule="evenodd" stroke="none"/><path d="M2 -33C14 -31 24 -20 27 -2L21 -12C17 -22 10 -29 2 -33Z" fill="#f4f5f9" stroke="none"/><circle r="16.6" fill="#f2f4f8" stroke="none"/><path d="M-16.5 -2.5H16.5M-15 -9H15M-15 4.5H15M-11 11H11M0 -16.5V16.5M-5.5 -15.5C-8 -6 -8 6 -5.5 15.5M5.5 -15.5C8 -6 8 6 5.5 15.5M-10.5 -12.5C-15 -4 -15 4 -10.5 12.5M10.5 -12.5C15 -4 15 4 10.5 12.5" stroke="#fff" stroke-width="1.7" fill="none"/></g>
<g transform="translate(1506.4 36.9)"><path d="M33 0L16.5 28.58L-16.5 28.58L-33 0L-16.5 -28.58L16.5 -28.58ZM24.02 11.2L2.31 26.4L-21.71 15.2L-24.02 -11.2L-2.31 -26.4L21.71 -15.2Z" fill="#fafbfc" fill-rule="evenodd" stroke="none"/><path d="M2 -33C14 -31 24 -20 27 -2L21 -12C17 -22 10 -29 2 -33Z" fill="#f4f5f9" stroke="none"/><circle r="16.6" fill="#f2f4f8" stroke="none"/><path d="M-16.5 -2.5H16.5M-15 -9H15M-15 4.5H15M-11 11H11M0 -16.5V16.5M-5.5 -15.5C-8 -6 -8 6 -5.5 15.5M5.5 -15.5C8 -6 8 6 5.5 15.5M-10.5 -12.5C-15 -4 -15 4 -10.5 12.5M10.5 -12.5C15 -4 15 4 10.5 12.5" stroke="#fff" stroke-width="1.7" fill="none"/></g>
<g transform="translate(1650.4 36.9)"><path d="M33 0L16.5 28.58L-16.5 28.58L-33 0L-16.5 -28.58L16.5 -28.58ZM24.02 11.2L2.31 26.4L-21.71 15.2L-24.02 -11.2L-2.31 -26.4L21.71 -15.2Z" fill="#fafbfc" fill-rule="evenodd" stroke="none"/><path d="M2 -33C14 -31 24 -20 27 -2L21 -12C17 -22 10 -29 2 -33Z" fill="#f4f5f9" stroke="none"/><circle r="16.6" fill="#f2f4f8" stroke="none"/><path d="M-16.5 -2.5H16.5M-15 -9H15M-15 4.5H15M-11 11H11M0 -16.5V16.5M-5.5 -15.5C-8 -6 -8 6 -5.5 15.5M5.5 -15.5C8 -6 8 6 5.5 15.5M-10.5 -12.5C-15 -4 -15 4 -10.5 12.5M10.5 -12.5C15 -4 15 4 10.5 12.5" stroke="#fff" stroke-width="1.7" fill="none"/></g>
<g transform="translate(66.4 130.5)"><path d="M33 0L16.5 28.58L-16.5 28.58L-33 0L-16.5 -28.58L16.5 -28.58ZM24.02 11.2L2.31 26.4L-21.71 15.2L-24.02 -11.2L-2.31 -26.4L21.71 -15.2Z" fill="#fafbfc" fill-rule="evenodd" stroke="none"/><path d="M2 -33C14 -31 24 -20 27 -2L21 -12C17 -22 10 -29 2 -33Z" fill="#f4f5f9" stroke="none"/><circle r="16.6" fill="#f2f4f8" stroke="none"/><path d="M-16.5 -2.5H16.5M-15 -9H15M-15 4.5H15M-11 11H11M0 -16.5V16.5M-5.5 -15.5C-8 -6 -8 6 -5.5 15.5M5.5 -15.5C8 -6 8 6 5.5 15.5M-10.5 -12.5C-15 -4 -15 4 -10.5 12.5M10.5 -12.5C15 -4 15 4 10.5 12.5" stroke="#fff" stroke-width="1.7" fill="none"/></g>
<g transform="translate(210.4 130.5)"><path d="M33 0L16.5 28.58L-16.5 28.58L-33 0L-16.5 -28.58L16.5 -28.58ZM24.02 11.2L2.31 26.4L-21.71 15.2L-24.02 -11.2L-2.31 -26.4L21.71 -15.2Z" fill="#fafbfc" fill-rule="evenodd" stroke="none"/><path d="M2 -33C14 -31 24 -20 27 -2L21 -12C17 -22 10 -29 2 -33Z" fill="#f4f5f9" stroke="none"/><circle r="16.6" fill="#f2f4f8" stroke="none"/><path d="M-16.5 -2.5H16.5M-15 -9H15M-15 4.5H15M-11 11H11M0 -16.5V16.5M-5.5 -15.5C-8 -6 -8 6 -5.5 15.5M5.5 -15.5C8 -6 8 6 5.5 15.5M-10.5 -12.5C-15 -4 -15 4 -10.5 12.5M10.5 -12.5C15 -4 15 4 10.5 12.5" stroke="#fff" stroke-width="1.7" fill="none"/></g>
<g transform="translate(354.4 130.5)"><path d="M33 0L16.5 28.58L-16.5 28.58L-33 0L-16.5 -28.58L16.5 -28.58ZM24.02 11.2L2.31 26.4L-21.71 15.2L-24.02 -11.2L-2.31 -26.4L21.71 -15.2Z" fill="#fafbfc" fill-rule="evenodd" stroke="none"/><path d="M2 -33C14 -31 24 -20 27 -2L21 -12C17 -22 10 -29 2 -33Z" fill="#f4f5f9" stroke="none"/><circle r="16.6" fill="#f2f4f8" stroke="none"/><path d="M-16.5 -2.5H16.5M-15 -9H15M-15 4.5H15M-11 11H11M0 -16.5V16.5M-5.5 -15.5C-8 -6 -8 6 -5.5 15.5M5.5 -15.5C8 -6 8 6 5.5 15.5M-10.5 -12.5C-15 -4 -15 4 -10.5 12.5M10.5 -12.5C15 -4 15 4 10.5 12.5" stroke="#fff" stroke-width="1.7" fill="none"/></g>
<g transform="translate(498.4 130.5)"><path d="M33 0L16.5 28.58L-16.5 28.58L-33 0L-16.5 -28.58L16.5 -28.58ZM24.02 11.2L2.31 26.4L-21.71 15.2L-24.02 -11.2L-2.31 -26.4L21.71 -15.2Z" fill="#fafbfc" fill-rule="evenodd" stroke="none"/><path d="M2 -33C14 -31 24 -20 27 -2L21 -12C17 -22 10 -29 2 -33Z" fill="#f4f5f9" stroke="none"/><circle r="16.6" fill="#f2f4f8" stroke="none"/><path d="M-16.5 -2.5H16.5M-15 -9H15M-15 4.5H15M-11 11H11M0 -16.5V16.5M-5.5 -15.5C-8 -6 -8 6 -5.5 15.5M5.5 -15.5C8 -6 8 6 5.5 15.5M-10.5 -12.5C-15 -4 -15 4 -10.5 12.5M10.5 -12.5C15 -4 15 4 10.5 12.5" stroke="#fff" stroke-width="1.7" fill="none"/></g>
<g transform="translate(642.4 130.5)"><path d="M33 0L16.5 28.58L-16.5 28.58L-33 0L-16.5 -28.58L16.5 -28.58ZM24.02 11.2L2.31 26.4L-21.71 15.2L-24.02 -11.2L-2.31 -26.4L21.71 -15.2Z" fill="#fafbfc" fill-rule="evenodd" stroke="none"/><path d="M2 -33C14 -31 24 -20 27 -2L21 -12C17 -22 10 -29 2 -33Z" fill="#f4f5f9" stroke="none"/><circle r="16.6" fill="#f2f4f8" stroke="none"/><path d="M-16.5 -2.5H16.5M-15 -9H15M-15 4.5H15M-11 11H11M0 -16.5V16.5M-5.5 -15.5C-8 -6 -8 6 -5.5 15.5M5.5 -15.5C8 -6 8 6 5.5 15.5M-10.5 -12.5C-15 -4 -15 4 -10.5 12.5M10.5 -12.5C15 -4 15 4 10.5 12.5" stroke="#fff" stroke-width="1.7" fill="none"/></g>
<g transform="translate(786.4 130.5)"><path d="M33 0L16.5 28.58L-16.5 28.58L-33 0L-16.5 -28.58L16.5 -28.58ZM24.02 11.2L2.31 26.4L-21.71 15.2L-24.02 -11.2L-2.31 -26.4L21.71 -15.2Z" fill="#fafbfc" fill-rule="evenodd" stroke="none"/><path d="M2 -33C14 -31 24 -20 27 -2L21 -12C17 -22 10 -29 2 -33Z" fill="#f4f5f9" stroke="none"/><circle r="16.6" fill="#f2f4f8" stroke="none"/><path d="M-16.5 -2.5H16.5M-15 -9H15M-15 4.5H15M-11 11H11M0 -16.5V16.5M-5.5 -15.5C-8 -6 -8 6 -5.5 15.5M5.5 -15.5C8 -6 8 6 5.5 15.5M-10.5 -12.5C-15 -4 -15 4 -10.5 12.5M10.5 -12.5C15 -4 15 4 10.5 12.5" stroke="#fff" stroke-width="1.7" fill="none"/></g>
<g transform="translate(930.4 130.5)"><path d="M33 0L16.5 28.58L-16.5 28.58L-33 0L-16.5 -28.58L16.5 -28.58ZM24.02 11.2L2.31 26.4L-21.71 15.2L-24.02 -11.2L-2.31 -26.4L21.71 -15.2Z" fill="#fafbfc" fill-rule="evenodd" stroke="none"/><path d="M2 -33C14 -31 24 -20 27 -2L21 -12C17 -22 10 -29 2 -33Z" fill="#f4f5f9" stroke="none"/><circle r="16.6" fill="#f2f4f8" stroke="none"/><path d="M-16.5 -2.5H16.5M-15 -9H15M-15 4.5H15M-11 11H11M0 -16.5V16.5M-5.5 -15.5C-8 -6 -8 6 -5.5 15.5M5.5 -15.5C8 -6 8 6 5.5 15.5M-10.5 -12.5C-15 -4 -15 4 -10.5 12.5M10.5 -12.5C15 -4 15 4 10.5 12.5" stroke="#fff" stroke-width="1.7" fill="none"/></g>
<g transform="translate(1074.4 130.5)"><path d="M33 0L16.5 28.58L-16.5 28.58L-33 0L-16.5 -28.58L16.5 -28.58ZM24.02 11.2L2.31 26.4L-21.71 15.2L-24.02 -11.2L-2.31 -26.4L21.71 -15.2Z" fill="#fafbfc" fill-rule="evenodd" stroke="none"/><path d="M2 -33C14 -31 24 -20 27 -2L21 -12C17 -22 10 -29 2 -33Z" fill="#f4f5f9" stroke="none"/><circle r="16.6" fill="#f2f4f8" stroke="none"/><path d="M-16.5 -2.5H16.5M-15 -9H15M-15 4.5H15M-11 11H11M0 -16.5V16.5M-5.5 -15.5C-8 -6 -8 6 -5.5 15.5M5.5 -15.5C8 -6 8 6 5.5 15.5M-10.5 -12.5C-15 -4 -15 4 -10.5 12.5M10.5 -12.5C15 -4 15 4 10.5 12.5" stroke="#fff" stroke-width="1.7" fill="none"/></g>
<g transform="translate(1218.4 130.5)"><path d="M33 0L16.5 28.58L-16.5 28.58L-33 0L-16.5 -28.58L16.5 -28.58ZM24.02 11.2L2.31 26.4L-21.71 15.2L-24.02 -11.2L-2.31 -26.4L21.71 -15.2Z" fill="#fafbfc" fill-rule="evenodd" stroke="none"/><path d="M2 -33C14 -31 24 -20 27 -2L21 -12C17 -22 10 -29 2 -33Z" fill="#f4f5f9" stroke="none"/><circle r="16.6" fill="#f2f4f8" stroke="none"/><path d="M-16.5 -2.5H16.5M-15 -9H15M-15 4.5H15M-11 11H11M0 -16.5V16.5M-5.5 -15.5C-8 -6 -8 6 -5.5 15.5M5.5 -15.5C8 -6 8 6 5.5 15.5M-10.5 -12.5C-15 -4 -15 4 -10.5 12.5M10.5 -12.5C15 -4 15 4 10.5 12.5" stroke="#fff" stroke-width="1.7" fill="none"/></g>
<g transform="translate(1362.4 130.5)"><path d="M33 0L16.5 28.58L-16.5 28.58L-33 0L-16.5 -28.58L16.5 -28.58ZM24.02 11.2L2.31 26.4L-21.71 15.2L-24.02 -11.2L-2.31 -26.4L21.71 -15.2Z" fill="#fafbfc" fill-rule="evenodd" stroke="none"/><path d="M2 -33C14 -31 24 -20 27 -2L21 -12C17 -22 10 -29 2 -33Z" fill="#f4f5f9" stroke="none"/><circle r="16.6" fill="#f2f4f8" stroke="none"/><path d="M-16.5 -2.5H16.5M-15 -9H15M-15 4.5H15M-11 11H11M0 -16.5V16.5M-5.5 -15.5C-8 -6 -8 6 -5.5 15.5M5.5 -15.5C8 -6 8 6 5.5 15.5M-10.5 -12.5C-15 -4 -15 4 -10.5 12.5M10.5 -12.5C15 -4 15 4 10.5 12.5" stroke="#fff" stroke-width="1.7" fill="none"/></g>
<g transform="translate(1506.4 130.5)"><path d="M33 0L16.5 28.58L-16.5 28.58L-33 0L-16.5 -28.58L16.5 -28.58ZM24.02 11.2L2.31 26.4L-21.71 15.2L-24.02 -11.2L-2.31 -26.4L21.71 -15.2Z" fill="#fafbfc" fill-rule="evenodd" stroke="none"/><path d="M2 -33C14 -31 24 -20 27 -2L21 -12C17 -22 10 -29 2 -33Z" fill="#f4f5f9" stroke="none"/><circle r="16.6" fill="#f2f4f8" stroke="none"/><path d="M-16.5 -2.5H16.5M-15 -9H15M-15 4.5H15M-11 11H11M0 -16.5V16.5M-5.5 -15.5C-8 -6 -8 6 -5.5 15.5M5.5 -15.5C8 -6 8 6 5.5 15.5M-10.5 -12.5C-15 -4 -15 4 -10.5 12.5M10.5 -12.5C15 -4 15 4 10.5 12.5" stroke="#fff" stroke-width="1.7" fill="none"/></g>
<g transform="translate(1650.4 130.5)"><path d="M33 0L16.5 28.58L-16.5 28.58L-33 0L-16.5 -28.58L16.5 -28.58ZM24.02 11.2L2.31 26.4L-21.71 15.2L-24.02 -11.2L-2.31 -26.4L21.71 -15.2Z" fill="#fafbfc" fill-rule="evenodd" stroke="none"/><path d="M2 -33C14 -31 24 -20 27 -2L21 -12C17 -22 10 -29 2 -33Z" fill="#f4f5f9" stroke="none"/><circle r="16.6" fill="#f2f4f8" stroke="none"/><path d="M-16.5 -2.5H16.5M-15 -9H15M-15 4.5H15M-11 11H11M0 -16.5V16.5M-5.5 -15.5C-8 -6 -8 6 -5.5 15.5M5.5 -15.5C8 -6 8 6 5.5 15.5M-10.5 -12.5C-15 -4 -15 4 -10.5 12.5M10.5 -12.5C15 -4 15 4 10.5 12.5" stroke="#fff" stroke-width="1.7" fill="none"/></g>
<g transform="translate(66.4 224.1)"><path d="M33 0L16.5 28.58L-16.5 28.58L-33 0L-16.5 -28.58L16.5 -28.58ZM24.02 11.2L2.31 26.4L-21.71 15.2L-24.02 -11.2L-2.31 -26.4L21.71 -15.2Z" fill="#fafbfc" fill-rule="evenodd" stroke="none"/><path d="M2 -33C14 -31 24 -20 27 -2L21 -12C17 -22 10 -29 2 -33Z" fill="#f4f5f9" stroke="none"/><circle r="16.6" fill="#f2f4f8" stroke="none"/><path d="M-16.5 -2.5H16.5M-15 -9H15M-15 4.5H15M-11 11H11M0 -16.5V16.5M-5.5 -15.5C-8 -6 -8 6 -5.5 15.5M5.5 -15.5C8 -6 8 6 5.5 15.5M-10.5 -12.5C-15 -4 -15 4 -10.5 12.5M10.5 -12.5C15 -4 15 4 10.5 12.5" stroke="#fff" stroke-width="1.7" fill="none"/></g>
<g transform="translate(210.4 224.1)"><path d="M33 0L16.5 28.58L-16.5 28.58L-33 0L-16.5 -28.58L16.5 -28.58ZM24.02 11.2L2.31 26.4L-21.71 15.2L-24.02 -11.2L-2.31 -26.4L21.71 -15.2Z" fill="#fafbfc" fill-rule="evenodd" stroke="none"/><path d="M2 -33C14 -31 24 -20 27 -2L21 -12C17 -22 10 -29 2 -33Z" fill="#f4f5f9" stroke="none"/><circle r="16.6" fill="#f2f4f8" stroke="none"/><path d="M-16.5 -2.5H16.5M-15 -9H15M-15 4.5H15M-11 11H11M0 -16.5V16.5M-5.5 -15.5C-8 -6 -8 6 -5.5 15.5M5.5 -15.5C8 -6 8 6 5.5 15.5M-10.5 -12.5C-15 -4 -15 4 -10.5 12.5M10.5 -12.5C15 -4 15 4 10.5 12.5" stroke="#fff" stroke-width="1.7" fill="none"/></g>
<g transform="translate(354.4 224.1)"><path d="M33 0L16.5 28.58L-16.5 28.58L-33 0L-16.5 -28.58L16.5 -28.58ZM24.02 11.2L2.31 26.4L-21.71 15.2L-24.02 -11.2L-2.31 -26.4L21.71 -15.2Z" fill="#fafbfc" fill-rule="evenodd" stroke="none"/><path d="M2 -33C14 -31 24 -20 27 -2L21 -12C17 -22 10 -29 2 -33Z" fill="#f4f5f9" stroke="none"/><circle r="16.6" fill="#f2f4f8" stroke="none"/><path d="M-16.5 -2.5H16.5M-15 -9H15M-15 4.5H15M-11 11H11M0 -16.5V16.5M-5.5 -15.5C-8 -6 -8 6 -5.5 15.5M5.5 -15.5C8 -6 8 6 5.5 15.5M-10.5 -12.5C-15 -4 -15 4 -10.5 12.5M10.5 -12.5C15 -4 15 4 10.5 12.5" stroke="#fff" stroke-width="1.7" fill="none"/></g>
<g transform="translate(498.4 224.1)"><path d="M33 0L16.5 28.58L-16.5 28.58L-33 0L-16.5 -28.58L16.5 -28.58ZM24.02 11.2L2.31 26.4L-21.71 15.2L-24.02 -11.2L-2.31 -26.4L21.71 -15.2Z" fill="#fafbfc" fill-rule="evenodd" stroke="none"/><path d="M2 -33C14 -31 24 -20 27 -2L21 -12C17 -22 10 -29 2 -33Z" fill="#f4f5f9" stroke="none"/><circle r="16.6" fill="#f2f4f8" stroke="none"/><path d="M-16.5 -2.5H16.5M-15 -9H15M-15 4.5H15M-11 11H11M0 -16.5V16.5M-5.5 -15.5C-8 -6 -8 6 -5.5 15.5M5.5 -15.5C8 -6 8 6 5.5 15.5M-10.5 -12.5C-15 -4 -15 4 -10.5 12.5M10.5 -12.5C15 -4 15 4 10.5 12.5" stroke="#fff" stroke-width="1.7" fill="none"/></g>
<g transform="translate(642.4 224.1)"><path d="M33 0L16.5 28.58L-16.5 28.58L-33 0L-16.5 -28.58L16.5 -28.58ZM24.02 11.2L2.31 26.4L-21.71 15.2L-24.02 -11.2L-2.31 -26.4L21.71 -15.2Z" fill="#fafbfc" fill-rule="evenodd" stroke="none"/><path d="M2 -33C14 -31 24 -20 27 -2L21 -12C17 -22 10 -29 2 -33Z" fill="#f4f5f9" stroke="none"/><circle r="16.6" fill="#f2f4f8" stroke="none"/><path d="M-16.5 -2.5H16.5M-15 -9H15M-15 4.5H15M-11 11H11M0 -16.5V16.5M-5.5 -15.5C-8 -6 -8 6 -5.5 15.5M5.5 -15.5C8 -6 8 6 5.5 15.5M-10.5 -12.5C-15 -4 -15 4 -10.5 12.5M10.5 -12.5C15 -4 15 4 10.5 12.5" stroke="#fff" stroke-width="1.7" fill="none"/></g>
<g transform="translate(786.4 224.1)"><path d="M33 0L16.5 28.58L-16.5 28.58L-33 0L-16.5 -28.58L16.5 -28.58ZM24.02 11.2L2.31 26.4L-21.71 15.2L-24.02 -11.2L-2.31 -26.4L21.71 -15.2Z" fill="#fafbfc" fill-rule="evenodd" stroke="none"/><path d="M2 -33C14 -31 24 -20 27 -2L21 -12C17 -22 10 -29 2 -33Z" fill="#f4f5f9" stroke="none"/><circle r="16.6" fill="#f2f4f8" stroke="none"/><path d="M-16.5 -2.5H16.5M-15 -9H15M-15 4.5H15M-11 11H11M0 -16.5V16.5M-5.5 -15.5C-8 -6 -8 6 -5.5 15.5M5.5 -15.5C8 -6 8 6 5.5 15.5M-10.5 -12.5C-15 -4 -15 4 -10.5 12.5M10.5 -12.5C15 -4 15 4 10.5 12.5" stroke="#fff" stroke-width="1.7" fill="none"/></g>
<g transform="translate(930.4 224.1)"><path d="M33 0L16.5 28.58L-16.5 28.58L-33 0L-16.5 -28.58L16.5 -28.58ZM24.02 11.2L2.31 26.4L-21.71 15.2L-24.02 -11.2L-2.31 -26.4L21.71 -15.2Z" fill="#fafbfc" fill-rule="evenodd" stroke="none"/><path d="M2 -33C14 -31 24 -20 27 -2L21 -12C17 -22 10 -29 2 -33Z" fill="#f4f5f9" stroke="none"/><circle r="16.6" fill="#f2f4f8" stroke="none"/><path d="M-16.5 -2.5H16.5M-15 -9H15M-15 4.5H15M-11 11H11M0 -16.5V16.5M-5.5 -15.5C-8 -6 -8 6 -5.5 15.5M5.5 -15.5C8 -6 8 6 5.5 15.5M-10.5 -12.5C-15 -4 -15 4 -10.5 12.5M10.5 -12.5C15 -4 15 4 10.5 12.5" stroke="#fff" stroke-width="1.7" fill="none"/></g>
<g transform="translate(1074.4 224.1)"><path d="M33 0L16.5 28.58L-16.5 28.58L-33 0L-16.5 -28.58L16.5 -28.58ZM24.02 11.2L2.31 26.4L-21.71 15.2L-24.02 -11.2L-2.31 -26.4L21.71 -15.2Z" fill="#fafbfc" fill-rule="evenodd" stroke="none"/><path d="M2 -33C14 -31 24 -20 27 -2L21 -12C17 -22 10 -29 2 -33Z" fill="#f4f5f9" stroke="none"/><circle r="16.6" fill="#f2f4f8" stroke="none"/><path d="M-16.5 -2.5H16.5M-15 -9H15M-15 4.5H15M-11 11H11M0 -16.5V16.5M-5.5 -15.5C-8 -6 -8 6 -5.5 15.5M5.5 -15.5C8 -6 8 6 5.5 15.5M-10.5 -12.5C-15 -4 -15 4 -10.5 12.5M10.5 -12.5C15 -4 15 4 10.5 12.5" stroke="#fff" stroke-width="1.7" fill="none"/></g>
<g transform="translate(1218.4 224.1)"><path d="M33 0L16.5 28.58L-16.5 28.58L-33 0L-16.5 -28.58L16.5 -28.58ZM24.02 11.2L2.31 26.4L-21.71 15.2L-24.02 -11.2L-2.31 -26.4L21.71 -15.2Z" fill="#fafbfc" fill-rule="evenodd" stroke="none"/><path d="M2 -33C14 -31 24 -20 27 -2L21 -12C17 -22 10 -29 2 -33Z" fill="#f4f5f9" stroke="none"/><circle r="16.6" fill="#f2f4f8" stroke="none"/><path d="M-16.5 -2.5H16.5M-15 -9H15M-15 4.5H15M-11 11H11M0 -16.5V16.5M-5.5 -15.5C-8 -6 -8 6 -5.5 15.5M5.5 -15.5C8 -6 8 6 5.5 15.5M-10.5 -12.5C-15 -4 -15 4 -10.5 12.5M10.5 -12.5C15 -4 15 4 10.5 12.5" stroke="#fff" stroke-width="1.7" fill="none"/></g>
<g transform="translate(1362.4 224.1)"><path d="M33 0L16.5 28.58L-16.5 28.58L-33 0L-16.5 -28.58L16.5 -28.58ZM24.02 11.2L2.31 26.4L-21.71 15.2L-24.02 -11.2L-2.31 -26.4L21.71 -15.2Z" fill="#fafbfc" fill-rule="evenodd" stroke="none"/><path d="M2 -33C14 -31 24 -20 27 -2L21 -12C17 -22 10 -29 2 -33Z" fill="#f4f5f9" stroke="none"/><circle r="16.6" fill="#f2f4f8" stroke="none"/><path d="M-16.5 -2.5H16.5M-15 -9H15M-15 4.5H15M-11 11H11M0 -16.5V16.5M-5.5 -15.5C-8 -6 -8 6 -5.5 15.5M5.5 -15.5C8 -6 8 6 5.5 15.5M-10.5 -12.5C-15 -4 -15 4 -10.5 12.5M10.5 -12.5C15 -4 15 4 10.5 12.5" stroke="#fff" stroke-width="1.7" fill="none"/></g>
<g transform="translate(1506.4 224.1)"><path d="M33 0L16.5 28.58L-16.5 28.58L-33 0L-16.5 -28.58L16.5 -28.58ZM24.02 11.2L2.31 26.4L-21.71 15.2L-24.02 -11.2L-2.31 -26.4L21.71 -15.2Z" fill="#fafbfc" fill-rule="evenodd" stroke="none"/><path d="M2 -33C14 -31 24 -20 27 -2L21 -12C17 -22 10 -29 2 -33Z" fill="#f4f5f9" stroke="none"/><circle r="16.6" fill="#f2f4f8" stroke="none"/><path d="M-16.5 -2.5H16.5M-15 -9H15M-15 4.5H15M-11 11H11M0 -16.5V16.5M-5.5 -15.5C-8 -6 -8 6 -5.5 15.5M5.5 -15.5C8 -6 8 6 5.5 15.5M-10.5 -12.5C-15 -4 -15 4 -10.5 12.5M10.5 -12.5C15 -4 15 4 10.5 12.5" stroke="#fff" stroke-width="1.7" fill="none"/></g>
<g transform="translate(1650.4 224.1)"><path d="M33 0L16.5 28.58L-16.5 28.58L-33 0L-16.5 -28.58L16.5 -28.58ZM24.02 11.2L2.31 26.4L-21.71 15.2L-24.02 -11.2L-2.31 -26.4L21.71 -15.2Z" fill="#fafbfc" fill-rule="evenodd" stroke="none"/><path d="M2 -33C14 -31 24 -20 27 -2L21 -12C17 -22 10 -29 2 -33Z" fill="#f4f5f9" stroke="none"/><circle r="16.6" fill="#f2f4f8" stroke="none"/><path d="M-16.5 -2.5H16.5M-15 -9H15M-15 4.5H15M-11 11H11M0 -16.5V16.5M-5.5 -15.5C-8 -6 -8 6 -5.5 15.5M5.5 -15.5C8 -6 8 6 5.5 15.5M-10.5 -12.5C-15 -4 -15 4 -10.5 12.5M10.5 -12.5C15 -4 15 4 10.5 12.5" stroke="#fff" stroke-width="1.7" fill="none"/></g>
<g transform="translate(66.4 317.7)"><path d="M33 0L16.5 28.58L-16.5 28.58L-33 0L-16.5 -28.58L16.5 -28.58ZM24.02 11.2L2.31 26.4L-21.71 15.2L-24.02 -11.2L-2.31 -26.4L21.71 -15.2Z" fill="#fafbfc" fill-rule="evenodd" stroke="none"/><path d="M2 -33C14 -31 24 -20 27 -2L21 -12C17 -22 10 -29 2 -33Z" fill="#f4f5f9" stroke="none"/><circle r="16.6" fill="#f2f4f8" stroke="none"/><path d="M-16.5 -2.5H16.5M-15 -9H15M-15 4.5H15M-11 11H11M0 -16.5V16.5M-5.5 -15.5C-8 -6 -8 6 -5.5 15.5M5.5 -15.5C8 -6 8 6 5.5 15.5M-10.5 -12.5C-15 -4 -15 4 -10.5 12.5M10.5 -12.5C15 -4 15 4 10.5 12.5" stroke="#fff" stroke-width="1.7" fill="none"/></g>
<g transform="translate(210.4 317.7)"><path d="M33 0L16.5 28.58L-16.5 28.58L-33 0L-16.5 -28.58L16.5 -28.58ZM24.02 11.2L2.31 26.4L-21.71 15.2L-24.02 -11.2L-2.31 -26.4L21.71 -15.2Z" fill="#fafbfc" fill-rule="evenodd" stroke="none"/><path d="M2 -33C14 -31 24 -20 27 -2L21 -12C17 -22 10 -29 2 -33Z" fill="#f4f5f9" stroke="none"/><circle r="16.6" fill="#f2f4f8" stroke="none"/><path d="M-16.5 -2.5H16.5M-15 -9H15M-15 4.5H15M-11 11H11M0 -16.5V16.5M-5.5 -15.5C-8 -6 -8 6 -5.5 15.5M5.5 -15.5C8 -6 8 6 5.5 15.5M-10.5 -12.5C-15 -4 -15 4 -10.5 12.5M10.5 -12.5C15 -4 15 4 10.5 12.5" stroke="#fff" stroke-width="1.7" fill="none"/></g>
<g transform="translate(354.4 317.7)"><path d="M33 0L16.5 28.58L-16.5 28.58L-33 0L-16.5 -28.58L16.5 -28.58ZM24.02 11.2L2.31 26.4L-21.71 15.2L-24.02 -11.2L-2.31 -26.4L21.71 -15.2Z" fill="#fafbfc" fill-rule="evenodd" stroke="none"/><path d="M2 -33C14 -31 24 -20 27 -2L21 -12C17 -22 10 -29 2 -33Z" fill="#f4f5f9" stroke="none"/><circle r="16.6" fill="#f2f4f8" stroke="none"/><path d="M-16.5 -2.5H16.5M-15 -9H15M-15 4.5H15M-11 11H11M0 -16.5V16.5M-5.5 -15.5C-8 -6 -8 6 -5.5 15.5M5.5 -15.5C8 -6 8 6 5.5 15.5M-10.5 -12.5C-15 -4 -15 4 -10.5 12.5M10.5 -12.5C15 -4 15 4 10.5 12.5" stroke="#fff" stroke-width="1.7" fill="none"/></g>
<g transform="translate(498.4 317.7)"><path d="M33 0L16.5 28.58L-16.5 28.58L-33 0L-16.5 -28.58L16.5 -28.58ZM24.02 11.2L2.31 26.4L-21.71 15.2L-24.02 -11.2L-2.31 -26.4L21.71 -15.2Z" fill="#fafbfc" fill-rule="evenodd" stroke="none"/><path d="M2 -33C14 -31 24 -20 27 -2L21 -12C17 -22 10 -29 2 -33Z" fill="#f4f5f9" stroke="none"/><circle r="16.6" fill="#f2f4f8" stroke="none"/><path d="M-16.5 -2.5H16.5M-15 -9H15M-15 4.5H15M-11 11H11M0 -16.5V16.5M-5.5 -15.5C-8 -6 -8 6 -5.5 15.5M5.5 -15.5C8 -6 8 6 5.5 15.5M-10.5 -12.5C-15 -4 -15 4 -10.5 12.5M10.5 -12.5C15 -4 15 4 10.5 12.5" stroke="#fff" stroke-width="1.7" fill="none"/></g>
<g transform="translate(642.4 317.7)"><path d="M33 0L16.5 28.58L-16.5 28.58L-33 0L-16.5 -28.58L16.5 -28.58ZM24.02 11.2L2.31 26.4L-21.71 15.2L-24.02 -11.2L-2.31 -26.4L21.71 -15.2Z" fill="#fafbfc" fill-rule="evenodd" stroke="none"/><path d="M2 -33C14 -31 24 -20 27 -2L21 -12C17 -22 10 -29 2 -33Z" fill="#f4f5f9" stroke="none"/><circle r="16.6" fill="#f2f4f8" stroke="none"/><path d="M-16.5 -2.5H16.5M-15 -9H15M-15 4.5H15M-11 11H11M0 -16.5V16.5M-5.5 -15.5C-8 -6 -8 6 -5.5 15.5M5.5 -15.5C8 -6 8 6 5.5 15.5M-10.5 -12.5C-15 -4 -15 4 -10.5 12.5M10.5 -12.5C15 -4 15 4 10.5 12.5" stroke="#fff" stroke-width="1.7" fill="none"/></g>
<g transform="translate(786.4 317.7)"><path d="M33 0L16.5 28.58L-16.5 28.58L-33 0L-16.5 -28.58L16.5 -28.58ZM24.02 11.2L2.31 26.4L-21.71 15.2L-24.02 -11.2L-2.31 -26.4L21.71 -15.2Z" fill="#fafbfc" fill-rule="evenodd" stroke="none"/><path d="M2 -33C14 -31 24 -20 27 -2L21 -12C17 -22 10 -29 2 -33Z" fill="#f4f5f9" stroke="none"/><circle r="16.6" fill="#f2f4f8" stroke="none"/><path d="M-16.5 -2.5H16.5M-15 -9H15M-15 4.5H15M-11 11H11M0 -16.5V16.5M-5.5 -15.5C-8 -6 -8 6 -5.5 15.5M5.5 -15.5C8 -6 8 6 5.5 15.5M-10.5 -12.5C-15 -4 -15 4 -10.5 12.5M10.5 -12.5C15 -4 15 4 10.5 12.5" stroke="#fff" stroke-width="1.7" fill="none"/></g>
<g transform="translate(930.4 317.7)"><path d="M33 0L16.5 28.58L-16.5 28.58L-33 0L-16.5 -28.58L16.5 -28.58ZM24.02 11.2L2.31 26.4L-21.71 15.2L-24.02 -11.2L-2.31 -26.4L21.71 -15.2Z" fill="#fafbfc" fill-rule="evenodd" stroke="none"/><path d="M2 -33C14 -31 24 -20 27 -2L21 -12C17 -22 10 -29 2 -33Z" fill="#f4f5f9" stroke="none"/><circle r="16.6" fill="#f2f4f8" stroke="none"/><path d="M-16.5 -2.5H16.5M-15 -9H15M-15 4.5H15M-11 11H11M0 -16.5V16.5M-5.5 -15.5C-8 -6 -8 6 -5.5 15.5M5.5 -15.5C8 -6 8 6 5.5 15.5M-10.5 -12.5C-15 -4 -15 4 -10.5 12.5M10.5 -12.5C15 -4 15 4 10.5 12.5" stroke="#fff" stroke-width="1.7" fill="none"/></g>
<g transform="translate(1074.4 317.7)"><path d="M33 0L16.5 28.58L-16.5 28.58L-33 0L-16.5 -28.58L16.5 -28.58ZM24.02 11.2L2.31 26.4L-21.71 15.2L-24.02 -11.2L-2.31 -26.4L21.71 -15.2Z" fill="#fafbfc" fill-rule="evenodd" stroke="none"/><path d="M2 -33C14 -31 24 -20 27 -2L21 -12C17 -22 10 -29 2 -33Z" fill="#f4f5f9" stroke="none"/><circle r="16.6" fill="#f2f4f8" stroke="none"/><path d="M-16.5 -2.5H16.5M-15 -9H15M-15 4.5H15M-11 11H11M0 -16.5V16.5M-5.5 -15.5C-8 -6 -8 6 -5.5 15.5M5.5 -15.5C8 -6 8 6 5.5 15.5M-10.5 -12.5C-15 -4 -15 4 -10.5 12.5M10.5 -12.5C15 -4 15 4 10.5 12.5" stroke="#fff" stroke-width="1.7" fill="none"/></g>
<g transform="translate(1218.4 317.7)"><path d="M33 0L16.5 28.58L-16.5 28.58L-33 0L-16.5 -28.58L16.5 -28.58ZM24.02 11.2L2.31 26.4L-21.71 15.2L-24.02 -11.2L-2.31 -26.4L21.71 -15.2Z" fill="#fafbfc" fill-rule="evenodd" stroke="none"/><path d="M2 -33C14 -31 24 -20 27 -2L21 -12C17 -22 10 -29 2 -33Z" fill="#f4f5f9" stroke="none"/><circle r="16.6" fill="#f2f4f8" stroke="none"/><path d="M-16.5 -2.5H16.5M-15 -9H15M-15 4.5H15M-11 11H11M0 -16.5V16.5M-5.5 -15.5C-8 -6 -8 6 -5.5 15.5M5.5 -15.5C8 -6 8 6 5.5 15.5M-10.5 -12.5C-15 -4 -15 4 -10.5 12.5M10.5 -12.5C15 -4 15 4 10.5 12.5" stroke="#fff" stroke-width="1.7" fill="none"/></g>
<g transform="translate(1362.4 317.7)"><path d="M33 0L16.5 28.58L-16.5 28.58L-33 0L-16.5 -28.58L16.5 -28.58ZM24.02 11.2L2.31 26.4L-21.71 15.2L-24.02 -11.2L-2.31 -26.4L21.71 -15.2Z" fill="#fafbfc" fill-rule="evenodd" stroke="none"/><path d="M2 -33C14 -31 24 -20 27 -2L21 -12C17 -22 10 -29 2 -33Z" fill="#f4f5f9" stroke="none"/><circle r="16.6" fill="#f2f4f8" stroke="none"/><path d="M-16.5 -2.5H16.5M-15 -9H15M-15 4.5H15M-11 11H11M0 -16.5V16.5M-5.5 -15.5C-8 -6 -8 6 -5.5 15.5M5.5 -15.5C8 -6 8 6 5.5 15.5M-10.5 -12.5C-15 -4 -15 4 -10.5 12.5M10.5 -12.5C15 -4 15 4 10.5 12.5" stroke="#fff" stroke-width="1.7" fill="none"/></g>
<g transform="translate(1506.4 317.7)"><path d="M33 0L16.5 28.58L-16.5 28.58L-33 0L-16.5 -28.58L16.5 -28.58ZM24.02 11.2L2.31 26.4L-21.71 15.2L-24.02 -11.2L-2.31 -26.4L21.71 -15.2Z" fill="#fafbfc" fill-rule="evenodd" stroke="none"/><path d="M2 -33C14 -31 24 -20 27 -2L21 -12C17 -22 10 -29 2 -33Z" fill="#f4f5f9" stroke="none"/><circle r="16.6" fill="#f2f4f8" stroke="none"/><path d="M-16.5 -2.5H16.5M-15 -9H15M-15 4.5H15M-11 11H11M0 -16.5V16.5M-5.5 -15.5C-8 -6 -8 6 -5.5 15.5M5.5 -15.5C8 -6 8 6 5.5 15.5M-10.5 -12.5C-15 -4 -15 4 -10.5 12.5M10.5 -12.5C15 -4 15 4 10.5 12.5" stroke="#fff" stroke-width="1.7" fill="none"/></g>
<g transform="translate(1650.4 317.7)"><path d="M33 0L16.5 28.58L-16.5 28.58L-33 0L-16.5 -28.58L16.5 -28.58ZM24.02 11.2L2.31 26.4L-21.71 15.2L-24.02 -11.2L-2.31 -26.4L21.71 -15.2Z" fill="#fafbfc" fill-rule="evenodd" stroke="none"/><path d="M2 -33C14 -31 24 -20 27 -2L21 -12C17 -22 10 -29 2 -33Z" fill="#f4f5f9" stroke="none"/><circle r="16.6" fill="#f2f4f8" stroke="none"/><path d="M-16.5 -2.5H16.5M-15 -9H15M-15 4.5H15M-11 11H11M0 -16.5V16.5M-5.5 -15.5C-8 -6 -8 6 -5.5 15.5M5.5 -15.5C8 -6 8 6 5.5 15.5M-10.5 -12.5C-15 -4 -15 4 -10.5 12.5M10.5 -12.5C15 -4 15 4 10.5 12.5" stroke="#fff" stroke-width="1.7" fill="none"/></g>
<g transform="translate(66.4 411.3)"><path d="M33 0L16.5 28.58L-16.5 28.58L-33 0L-16.5 -28.58L16.5 -28.58ZM24.02 11.2L2.31 26.4L-21.71 15.2L-24.02 -11.2L-2.31 -26.4L21.71 -15.2Z" fill="#fafbfc" fill-rule="evenodd" stroke="none"/><path d="M2 -33C14 -31 24 -20 27 -2L21 -12C17 -22 10 -29 2 -33Z" fill="#f4f5f9" stroke="none"/><circle r="16.6" fill="#f2f4f8" stroke="none"/><path d="M-16.5 -2.5H16.5M-15 -9H15M-15 4.5H15M-11 11H11M0 -16.5V16.5M-5.5 -15.5C-8 -6 -8 6 -5.5 15.5M5.5 -15.5C8 -6 8 6 5.5 15.5M-10.5 -12.5C-15 -4 -15 4 -10.5 12.5M10.5 -12.5C15 -4 15 4 10.5 12.5" stroke="#fff" stroke-width="1.7" fill="none"/></g>
<g transform="translate(210.4 411.3)"><path d="M33 0L16.5 28.58L-16.5 28.58L-33 0L-16.5 -28.58L16.5 -28.58ZM24.02 11.2L2.31 26.4L-21.71 15.2L-24.02 -11.2L-2.31 -26.4L21.71 -15.2Z" fill="#fafbfc" fill-rule="evenodd" stroke="none"/><path d="M2 -33C14 -31 24 -20 27 -2L21 -12C17 -22 10 -29 2 -33Z" fill="#f4f5f9" stroke="none"/><circle r="16.6" fill="#f2f4f8" stroke="none"/><path d="M-16.5 -2.5H16.5M-15 -9H15M-15 4.5H15M-11 11H11M0 -16.5V16.5M-5.5 -15.5C-8 -6 -8 6 -5.5 15.5M5.5 -15.5C8 -6 8 6 5.5 15.5M-10.5 -12.5C-15 -4 -15 4 -10.5 12.5M10.5 -12.5C15 -4 15 4 10.5 12.5" stroke="#fff" stroke-width="1.7" fill="none"/></g>
<g transform="translate(354.4 411.3)"><path d="M33 0L16.5 28.58L-16.5 28.58L-33 0L-16.5 -28.58L16.5 -28.58ZM24.02 11.2L2.31 26.4L-21.71 15.2L-24.02 -11.2L-2.31 -26.4L21.71 -15.2Z" fill="#fafbfc" fill-rule="evenodd" stroke="none"/><path d="M2 -33C14 -31 24 -20 27 -2L21 -12C17 -22 10 -29 2 -33Z" fill="#f4f5f9" stroke="none"/><circle r="16.6" fill="#f2f4f8" stroke="none"/><path d="M-16.5 -2.5H16.5M-15 -9H15M-15 4.5H15M-11 11H11M0 -16.5V16.5M-5.5 -15.5C-8 -6 -8 6 -5.5 15.5M5.5 -15.5C8 -6 8 6 5.5 15.5M-10.5 -12.5C-15 -4 -15 4 -10.5 12.5M10.5 -12.5C15 -4 15 4 10.5 12.5" stroke="#fff" stroke-width="1.7" fill="none"/></g>
<g transform="translate(498.4 411.3)"><path d="M33 0L16.5 28.58L-16.5 28.58L-33 0L-16.5 -28.58L16.5 -28.58ZM24.02 11.2L2.31 26.4L-21.71 15.2L-24.02 -11.2L-2.31 -26.4L21.71 -15.2Z" fill="#fafbfc" fill-rule="evenodd" stroke="none"/><path d="M2 -33C14 -31 24 -20 27 -2L21 -12C17 -22 10 -29 2 -33Z" fill="#f4f5f9" stroke="none"/><circle r="16.6" fill="#f2f4f8" stroke="none"/><path d="M-16.5 -2.5H16.5M-15 -9H15M-15 4.5H15M-11 11H11M0 -16.5V16.5M-5.5 -15.5C-8 -6 -8 6 -5.5 15.5M5.5 -15.5C8 -6 8 6 5.5 15.5M-10.5 -12.5C-15 -4 -15 4 -10.5 12.5M10.5 -12.5C15 -4 15 4 10.5 12.5" stroke="#fff" stroke-width="1.7" fill="none"/></g>
<g transform="translate(642.4 411.3)"><path d="M33 0L16.5 28.58L-16.5 28.58L-33 0L-16.5 -28.58L16.5 -28.58ZM24.02 11.2L2.31 26.4L-21.71 15.2L-24.02 -11.2L-2.31 -26.4L21.71 -15.2Z" fill="#fafbfc" fill-rule="evenodd" stroke="none"/><path d="M2 -33C14 -31 24 -20 27 -2L21 -12C17 -22 10 -29 2 -33Z" fill="#f4f5f9" stroke="none"/><circle r="16.6" fill="#f2f4f8" stroke="none"/><path d="M-16.5 -2.5H16.5M-15 -9H15M-15 4.5H15M-11 11H11M0 -16.5V16.5M-5.5 -15.5C-8 -6 -8 6 -5.5 15.5M5.5 -15.5C8 -6 8 6 5.5 15.5M-10.5 -12.5C-15 -4 -15 4 -10.5 12.5M10.5 -12.5C15 -4 15 4 10.5 12.5" stroke="#fff" stroke-width="1.7" fill="none"/></g>
<g transform="translate(786.4 411.3)"><path d="M33 0L16.5 28.58L-16.5 28.58L-33 0L-16.5 -28.58L16.5 -28.58ZM24.02 11.2L2.31 26.4L-21.71 15.2L-24.02 -11.2L-2.31 -26.4L21.71 -15.2Z" fill="#fafbfc" fill-rule="evenodd" stroke="none"/><path d="M2 -33C14 -31 24 -20 27 -2L21 -12C17 -22 10 -29 2 -33Z" fill="#f4f5f9" stroke="none"/><circle r="16.6" fill="#f2f4f8" stroke="none"/><path d="M-16.5 -2.5H16.5M-15 -9H15M-15 4.5H15M-11 11H11M0 -16.5V16.5M-5.5 -15.5C-8 -6 -8 6 -5.5 15.5M5.5 -15.5C8 -6 8 6 5.5 15.5M-10.5 -12.5C-15 -4 -15 4 -10.5 12.5M10.5 -12.5C15 -4 15 4 10.5 12.5" stroke="#fff" stroke-width="1.7" fill="none"/></g>
<g transform="translate(930.4 411.3)"><path d="M33 0L16.5 28.58L-16.5 28.58L-33 0L-16.5 -28.58L16.5 -28.58ZM24.02 11.2L2.31 26.4L-21.71 15.2L-24.02 -11.2L-2.31 -26.4L21.71 -15.2Z" fill="#fafbfc" fill-rule="evenodd" stroke="none"/><path d="M2 -33C14 -31 24 -20 27 -2L21 -12C17 -22 10 -29 2 -33Z" fill="#f4f5f9" stroke="none"/><circle r="16.6" fill="#f2f4f8" stroke="none"/><path d="M-16.5 -2.5H16.5M-15 -9H15M-15 4.5H15M-11 11H11M0 -16.5V16.5M-5.5 -15.5C-8 -6 -8 6 -5.5 15.5M5.5 -15.5C8 -6 8 6 5.5 15.5M-10.5 -12.5C-15 -4 -15 4 -10.5 12.5M10.5 -12.5C15 -4 15 4 10.5 12.5" stroke="#fff" stroke-width="1.7" fill="none"/></g>
<g transform="translate(1074.4 411.3)"><path d="M33 0L16.5 28.58L-16.5 28.58L-33 0L-16.5 -28.58L16.5 -28.58ZM24.02 11.2L2.31 26.4L-21.71 15.2L-24.02 -11.2L-2.31 -26.4L21.71 -15.2Z" fill="#fafbfc" fill-rule="evenodd" stroke="none"/><path d="M2 -33C14 -31 24 -20 27 -2L21 -12C17 -22 10 -29 2 -33Z" fill="#f4f5f9" stroke="none"/><circle r="16.6" fill="#f2f4f8" stroke="none"/><path d="M-16.5 -2.5H16.5M-15 -9H15M-15 4.5H15M-11 11H11M0 -16.5V16.5M-5.5 -15.5C-8 -6 -8 6 -5.5 15.5M5.5 -15.5C8 -6 8 6 5.5 15.5M-10.5 -12.5C-15 -4 -15 4 -10.5 12.5M10.5 -12.5C15 -4 15 4 10.5 12.5" stroke="#fff" stroke-width="1.7" fill="none"/></g>
<g transform="translate(1218.4 411.3)"><path d="M33 0L16.5 28.58L-16.5 28.58L-33 0L-16.5 -28.58L16.5 -28.58ZM24.02 11.2L2.31 26.4L-21.71 15.2L-24.02 -11.2L-2.31 -26.4L21.71 -15.2Z" fill="#fafbfc" fill-rule="evenodd" stroke="none"/><path d="M2 -33C14 -31 24 -20 27 -2L21 -12C17 -22 10 -29 2 -33Z" fill="#f4f5f9" stroke="none"/><circle r="16.6" fill="#f2f4f8" stroke="none"/><path d="M-16.5 -2.5H16.5M-15 -9H15M-15 4.5H15M-11 11H11M0 -16.5V16.5M-5.5 -15.5C-8 -6 -8 6 -5.5 15.5M5.5 -15.5C8 -6 8 6 5.5 15.5M-10.5 -12.5C-15 -4 -15 4 -10.5 12.5M10.5 -12.5C15 -4 15 4 10.5 12.5" stroke="#fff" stroke-width="1.7" fill="none"/></g>
<g transform="translate(1362.4 411.3)"><path d="M33 0L16.5 28.58L-16.5 28.58L-33 0L-16.5 -28.58L16.5 -28.58ZM24.02 11.2L2.31 26.4L-21.71 15.2L-24.02 -11.2L-2.31 -26.4L21.71 -15.2Z" fill="#fafbfc" fill-rule="evenodd" stroke="none"/><path d="M2 -33C14 -31 24 -20 27 -2L21 -12C17 -22 10 -29 2 -33Z" fill="#f4f5f9" stroke="none"/><circle r="16.6" fill="#f2f4f8" stroke="none"/><path d="M-16.5 -2.5H16.5M-15 -9H15M-15 4.5H15M-11 11H11M0 -16.5V16.5M-5.5 -15.5C-8 -6 -8 6 -5.5 15.5M5.5 -15.5C8 -6 8 6 5.5 15.5M-10.5 -12.5C-15 -4 -15 4 -10.5 12.5M10.5 -12.5C15 -4 15 4 10.5 12.5" stroke="#fff" stroke-width="1.7" fill="none"/></g>
<g transform="translate(1506.4 411.3)"><path d="M33 0L16.5 28.58L-16.5 28.58L-33 0L-16.5 -28.58L16.5 -28.58ZM24.02 11.2L2.31 26.4L-21.71 15.2L-24.02 -11.2L-2.31 -26.4L21.71 -15.2Z" fill="#fafbfc" fill-rule="evenodd" stroke="none"/><path d="M2 -33C14 -31 24 -20 27 -2L21 -12C17 -22 10 -29 2 -33Z" fill="#f4f5f9" stroke="none"/><circle r="16.6" fill="#f2f4f8" stroke="none"/><path d="M-16.5 -2.5H16.5M-15 -9H15M-15 4.5H15M-11 11H11M0 -16.5V16.5M-5.5 -15.5C-8 -6 -8 6 -5.5 15.5M5.5 -15.5C8 -6 8 6 5.5 15.5M-10.5 -12.5C-15 -4 -15 4 -10.5 12.5M10.5 -12.5C15 -4 15 4 10.5 12.5" stroke="#fff" stroke-width="1.7" fill="none"/></g>
<g transform="translate(1650.4 411.3)"><path d="M33 0L16.5 28.58L-16.5 28.58L-33 0L-16.5 -28.58L16.5 -28.58ZM24.02 11.2L2.31 26.4L-21.71 15.2L-24.02 -11.2L-2.31 -26.4L21.71 -15.2Z" fill="#fafbfc" fill-rule="evenodd" stroke="none"/><path d="M2 -33C14 -31 24 -20 27 -2L21 -12C17 -22 10 -29 2 -33Z" fill="#f4f5f9" stroke="none"/><circle r="16.6" fill="#f2f4f8" stroke="none"/><path d="M-16.5 -2.5H16.5M-15 -9H15M-15 4.5H15M-11 11H11M0 -16.5V16.5M-5.5 -15.5C-8 -6 -8 6 -5.5 15.5M5.5 -15.5C8 -6 8 6 5.5 15.5M-10.5 -12.5C-15 -4 -15 4 -10.5 12.5M10.5 -12.5C15 -4 15 4 10.5 12.5" stroke="#fff" stroke-width="1.7" fill="none"/></g>
<g transform="translate(66.4 504.9)"><path d="M33 0L16.5 28.58L-16.5 28.58L-33 0L-16.5 -28.58L16.5 -28.58ZM24.02 11.2L2.31 26.4L-21.71 15.2L-24.02 -11.2L-2.31 -26.4L21.71 -15.2Z" fill="#fafbfc" fill-rule="evenodd" stroke="none"/><path d="M2 -33C14 -31 24 -20 27 -2L21 -12C17 -22 10 -29 2 -33Z" fill="#f4f5f9" stroke="none"/><circle r="16.6" fill="#f2f4f8" stroke="none"/><path d="M-16.5 -2.5H16.5M-15 -9H15M-15 4.5H15M-11 11H11M0 -16.5V16.5M-5.5 -15.5C-8 -6 -8 6 -5.5 15.5M5.5 -15.5C8 -6 8 6 5.5 15.5M-10.5 -12.5C-15 -4 -15 4 -10.5 12.5M10.5 -12.5C15 -4 15 4 10.5 12.5" stroke="#fff" stroke-width="1.7" fill="none"/></g>
<g transform="translate(210.4 504.9)"><path d="M33 0L16.5 28.58L-16.5 28.58L-33 0L-16.5 -28.58L16.5 -28.58ZM24.02 11.2L2.31 26.4L-21.71 15.2L-24.02 -11.2L-2.31 -26.4L21.71 -15.2Z" fill="#fafbfc" fill-rule="evenodd" stroke="none"/><path d="M2 -33C14 -31 24 -20 27 -2L21 -12C17 -22 10 -29 2 -33Z" fill="#f4f5f9" stroke="none"/><circle r="16.6" fill="#f2f4f8" stroke="none"/><path d="M-16.5 -2.5H16.5M-15 -9H15M-15 4.5H15M-11 11H11M0 -16.5V16.5M-5.5 -15.5C-8 -6 -8 6 -5.5 15.5M5.5 -15.5C8 -6 8 6 5.5 15.5M-10.5 -12.5C-15 -4 -15 4 -10.5 12.5M10.5 -12.5C15 -4 15 4 10.5 12.5" stroke="#fff" stroke-width="1.7" fill="none"/></g>
<g transform="translate(354.4 504.9)"><path d="M33 0L16.5 28.58L-16.5 28.58L-33 0L-16.5 -28.58L16.5 -28.58ZM24.02 11.2L2.31 26.4L-21.71 15.2L-24.02 -11.2L-2.31 -26.4L21.71 -15.2Z" fill="#fafbfc" fill-rule="evenodd" stroke="none"/><path d="M2 -33C14 -31 24 -20 27 -2L21 -12C17 -22 10 -29 2 -33Z" fill="#f4f5f9" stroke="none"/><circle r="16.6" fill="#f2f4f8" stroke="none"/><path d="M-16.5 -2.5H16.5M-15 -9H15M-15 4.5H15M-11 11H11M0 -16.5V16.5M-5.5 -15.5C-8 -6 -8 6 -5.5 15.5M5.5 -15.5C8 -6 8 6 5.5 15.5M-10.5 -12.5C-15 -4 -15 4 -10.5 12.5M10.5 -12.5C15 -4 15 4 10.5 12.5" stroke="#fff" stroke-width="1.7" fill="none"/></g>
<g transform="translate(498.4 504.9)"><path d="M33 0L16.5 28.58L-16.5 28.58L-33 0L-16.5 -28.58L16.5 -28.58ZM24.02 11.2L2.31 26.4L-21.71 15.2L-24.02 -11.2L-2.31 -26.4L21.71 -15.2Z" fill="#fafbfc" fill-rule="evenodd" stroke="none"/><path d="M2 -33C14 -31 24 -20 27 -2L21 -12C17 -22 10 -29 2 -33Z" fill="#f4f5f9" stroke="none"/><circle r="16.6" fill="#f2f4f8" stroke="none"/><path d="M-16.5 -2.5H16.5M-15 -9H15M-15 4.5H15M-11 11H11M0 -16.5V16.5M-5.5 -15.5C-8 -6 -8 6 -5.5 15.5M5.5 -15.5C8 -6 8 6 5.5 15.5M-10.5 -12.5C-15 -4 -15 4 -10.5 12.5M10.5 -12.5C15 -4 15 4 10.5 12.5" stroke="#fff" stroke-width="1.7" fill="none"/></g>
<g transform="translate(642.4 504.9)"><path d="M33 0L16.5 28.58L-16.5 28.58L-33 0L-16.5 -28.58L16.5 -28.58ZM24.02 11.2L2.31 26.4L-21.71 15.2L-24.02 -11.2L-2.31 -26.4L21.71 -15.2Z" fill="#fafbfc" fill-rule="evenodd" stroke="none"/><path d="M2 -33C14 -31 24 -20 27 -2L21 -12C17 -22 10 -29 2 -33Z" fill="#f4f5f9" stroke="none"/><circle r="16.6" fill="#f2f4f8" stroke="none"/><path d="M-16.5 -2.5H16.5M-15 -9H15M-15 4.5H15M-11 11H11M0 -16.5V16.5M-5.5 -15.5C-8 -6 -8 6 -5.5 15.5M5.5 -15.5C8 -6 8 6 5.5 15.5M-10.5 -12.5C-15 -4 -15 4 -10.5 12.5M10.5 -12.5C15 -4 15 4 10.5 12.5" stroke="#fff" stroke-width="1.7" fill="none"/></g>
<g transform="translate(786.4 504.9)"><path d="M33 0L16.5 28.58L-16.5 28.58L-33 0L-16.5 -28.58L16.5 -28.58ZM24.02 11.2L2.31 26.4L-21.71 15.2L-24.02 -11.2L-2.31 -26.4L21.71 -15.2Z" fill="#fafbfc" fill-rule="evenodd" stroke="none"/><path d="M2 -33C14 -31 24 -20 27 -2L21 -12C17 -22 10 -29 2 -33Z" fill="#f4f5f9" stroke="none"/><circle r="16.6" fill="#f2f4f8" stroke="none"/><path d="M-16.5 -2.5H16.5M-15 -9H15M-15 4.5H15M-11 11H11M0 -16.5V16.5M-5.5 -15.5C-8 -6 -8 6 -5.5 15.5M5.5 -15.5C8 -6 8 6 5.5 15.5M-10.5 -12.5C-15 -4 -15 4 -10.5 12.5M10.5 -12.5C15 -4 15 4 10.5 12.5" stroke="#fff" stroke-width="1.7" fill="none"/></g>
<g transform="translate(930.4 504.9)"><path d="M33 0L16.5 28.58L-16.5 28.58L-33 0L-16.5 -28.58L16.5 -28.58ZM24.02 11.2L2.31 26.4L-21.71 15.2L-24.02 -11.2L-2.31 -26.4L21.71 -15.2Z" fill="#fafbfc" fill-rule="evenodd" stroke="none"/><path d="M2 -33C14 -31 24 -20 27 -2L21 -12C17 -22 10 -29 2 -33Z" fill="#f4f5f9" stroke="none"/><circle r="16.6" fill="#f2f4f8" stroke="none"/><path d="M-16.5 -2.5H16.5M-15 -9H15M-15 4.5H15M-11 11H11M0 -16.5V16.5M-5.5 -15.5C-8 -6 -8 6 -5.5 15.5M5.5 -15.5C8 -6 8 6 5.5 15.5M-10.5 -12.5C-15 -4 -15 4 -10.5 12.5M10.5 -12.5C15 -4 15 4 10.5 12.5" stroke="#fff" stroke-width="1.7" fill="none"/></g>
<g transform="translate(1074.4 504.9)"><path d="M33 0L16.5 28.58L-16.5 28.58L-33 0L-16.5 -28.58L16.5 -28.58ZM24.02 11.2L2.31 26.4L-21.71 15.2L-24.02 -11.2L-2.31 -26.4L21.71 -15.2Z" fill="#fafbfc" fill-rule="evenodd" stroke="none"/><path d="M2 -33C14 -31 24 -20 27 -2L21 -12C17 -22 10 -29 2 -33Z" fill="#f4f5f9" stroke="none"/><circle r="16.6" fill="#f2f4f8" stroke="none"/><path d="M-16.5 -2.5H16.5M-15 -9H15M-15 4.5H15M-11 11H11M0 -16.5V16.5M-5.5 -15.5C-8 -6 -8 6 -5.5 15.5M5.5 -15.5C8 -6 8 6 5.5 15.5M-10.5 -12.5C-15 -4 -15 4 -10.5 12.5M10.5 -12.5C15 -4 15 4 10.5 12.5" stroke="#fff" stroke-width="1.7" fill="none"/></g>
<g transform="translate(1218.4 504.9)"><path d="M33 0L16.5 28.58L-16.5 28.58L-33 0L-16.5 -28.58L16.5 -28.58ZM24.02 11.2L2.31 26.4L-21.71 15.2L-24.02 -11.2L-2.31 -26.4L21.71 -15.2Z" fill="#fafbfc" fill-rule="evenodd" stroke="none"/><path d="M2 -33C14 -31 24 -20 27 -2L21 -12C17 -22 10 -29 2 -33Z" fill="#f4f5f9" stroke="none"/><circle r="16.6" fill="#f2f4f8" stroke="none"/><path d="M-16.5 -2.5H16.5M-15 -9H15M-15 4.5H15M-11 11H11M0 -16.5V16.5M-5.5 -15.5C-8 -6 -8 6 -5.5 15.5M5.5 -15.5C8 -6 8 6 5.5 15.5M-10.5 -12.5C-15 -4 -15 4 -10.5 12.5M10.5 -12.5C15 -4 15 4 10.5 12.5" stroke="#fff" stroke-width="1.7" fill="none"/></g>
<g transform="translate(1362.4 504.9)"><path d="M33 0L16.5 28.58L-16.5 28.58L-33 0L-16.5 -28.58L16.5 -28.58ZM24.02 11.2L2.31 26.4L-21.71 15.2L-24.02 -11.2L-2.31 -26.4L21.71 -15.2Z" fill="#fafbfc" fill-rule="evenodd" stroke="none"/><path d="M2 -33C14 -31 24 -20 27 -2L21 -12C17 -22 10 -29 2 -33Z" fill="#f4f5f9" stroke="none"/><circle r="16.6" fill="#f2f4f8" stroke="none"/><path d="M-16.5 -2.5H16.5M-15 -9H15M-15 4.5H15M-11 11H11M0 -16.5V16.5M-5.5 -15.5C-8 -6 -8 6 -5.5 15.5M5.5 -15.5C8 -6 8 6 5.5 15.5M-10.5 -12.5C-15 -4 -15 4 -10.5 12.5M10.5 -12.5C15 -4 15 4 10.5 12.5" stroke="#fff" stroke-width="1.7" fill="none"/></g>
<g transform="translate(1506.4 504.9)"><path d="M33 0L16.5 28.58L-16.5 28.58L-33 0L-16.5 -28.58L16.5 -28.58ZM24.02 11.2L2.31 26.4L-21.71 15.2L-24.02 -11.2L-2.31 -26.4L21.71 -15.2Z" fill="#fafbfc" fill-rule="evenodd" stroke="none"/><path d="M2 -33C14 -31 24 -20 27 -2L21 -12C17 -22 10 -29 2 -33Z" fill="#f4f5f9" stroke="none"/><circle r="16.6" fill="#f2f4f8" stroke="none"/><path d="M-16.5 -2.5H16.5M-15 -9H15M-15 4.5H15M-11 11H11M0 -16.5V16.5M-5.5 -15.5C-8 -6 -8 6 -5.5 15.5M5.5 -15.5C8 -6 8 6 5.5 15.5M-10.5 -12.5C-15 -4 -15 4 -10.5 12.5M10.5 -12.5C15 -4 15 4 10.5 12.5" stroke="#fff" stroke-width="1.7" fill="none"/></g>
<g transform="translate(1650.4 504.9)"><path d="M33 0L16.5 28.58L-16.5 28.58L-33 0L-16.5 -28.58L16.5 -28.58ZM24.02 11.2L2.31 26.4L-21.71 15.2L-24.02 -11.2L-2.31 -26.4L21.71 -15.2Z" fill="#fafbfc" fill-rule="evenodd" stroke="none"/><path d="M2 -33C14 -31 24 -20 27 -2L21 -12C17 -22 10 -29 2 -33Z" fill="#f4f5f9" stroke="none"/><circle r="16.6" fill="#f2f4f8" stroke="none"/><path d="M-16.5 -2.5H16.5M-15 -9H15M-15 4.5H15M-11 11H11M0 -16.5V16.5M-5.5 -15.5C-8 -6 -8 6 -5.5 15.5M5.5 -15.5C8 -6 8 6 5.5 15.5M-10.5 -12.5C-15 -4 -15 4 -10.5 12.5M10.5 -12.5C15 -4 15 4 10.5 12.5" stroke="#fff" stroke-width="1.7" fill="none"/></g>
<g transform="translate(66.4 598.5)"><path d="M33 0L16.5 28.58L-16.5 28.58L-33 0L-16.5 -28.58L16.5 -28.58ZM24.02 11.2L2.31 26.4L-21.71 15.2L-24.02 -11.2L-2.31 -26.4L21.71 -15.2Z" fill="#fafbfc" fill-rule="evenodd" stroke="none"/><path d="M2 -33C14 -31 24 -20 27 -2L21 -12C17 -22 10 -29 2 -33Z" fill="#f4f5f9" stroke="none"/><circle r="16.6" fill="#f2f4f8" stroke="none"/><path d="M-16.5 -2.5H16.5M-15 -9H15M-15 4.5H15M-11 11H11M0 -16.5V16.5M-5.5 -15.5C-8 -6 -8 6 -5.5 15.5M5.5 -15.5C8 -6 8 6 5.5 15.5M-10.5 -12.5C-15 -4 -15 4 -10.5 12.5M10.5 -12.5C15 -4 15 4 10.5 12.5" stroke="#fff" stroke-width="1.7" fill="none"/></g>
<g transform="translate(210.4 598.5)"><path d="M33 0L16.5 28.58L-16.5 28.58L-33 0L-16.5 -28.58L16.5 -28.58ZM24.02 11.2L2.31 26.4L-21.71 15.2L-24.02 -11.2L-2.31 -26.4L21.71 -15.2Z" fill="#fafbfc" fill-rule="evenodd" stroke="none"/><path d="M2 -33C14 -31 24 -20 27 -2L21 -12C17 -22 10 -29 2 -33Z" fill="#f4f5f9" stroke="none"/><circle r="16.6" fill="#f2f4f8" stroke="none"/><path d="M-16.5 -2.5H16.5M-15 -9H15M-15 4.5H15M-11 11H11M0 -16.5V16.5M-5.5 -15.5C-8 -6 -8 6 -5.5 15.5M5.5 -15.5C8 -6 8 6 5.5 15.5M-10.5 -12.5C-15 -4 -15 4 -10.5 12.5M10.5 -12.5C15 -4 15 4 10.5 12.5" stroke="#fff" stroke-width="1.7" fill="none"/></g>
<g transform="translate(354.4 598.5)"><path d="M33 0L16.5 28.58L-16.5 28.58L-33 0L-16.5 -28.58L16.5 -28.58ZM24.02 11.2L2.31 26.4L-21.71 15.2L-24.02 -11.2L-2.31 -26.4L21.71 -15.2Z" fill="#fafbfc" fill-rule="evenodd" stroke="none"/><path d="M2 -33C14 -31 24 -20 27 -2L21 -12C17 -22 10 -29 2 -33Z" fill="#f4f5f9" stroke="none"/><circle r="16.6" fill="#f2f4f8" stroke="none"/><path d="M-16.5 -2.5H16.5M-15 -9H15M-15 4.5H15M-11 11H11M0 -16.5V16.5M-5.5 -15.5C-8 -6 -8 6 -5.5 15.5M5.5 -15.5C8 -6 8 6 5.5 15.5M-10.5 -12.5C-15 -4 -15 4 -10.5 12.5M10.5 -12.5C15 -4 15 4 10.5 12.5" stroke="#fff" stroke-width="1.7" fill="none"/></g>
<g transform="translate(498.4 598.5)"><path d="M33 0L16.5 28.58L-16.5 28.58L-33 0L-16.5 -28.58L16.5 -28.58ZM24.02 11.2L2.31 26.4L-21.71 15.2L-24.02 -11.2L-2.31 -26.4L21.71 -15.2Z" fill="#fafbfc" fill-rule="evenodd" stroke="none"/><path d="M2 -33C14 -31 24 -20 27 -2L21 -12C17 -22 10 -29 2 -33Z" fill="#f4f5f9" stroke="none"/><circle r="16.6" fill="#f2f4f8" stroke="none"/><path d="M-16.5 -2.5H16.5M-15 -9H15M-15 4.5H15M-11 11H11M0 -16.5V16.5M-5.5 -15.5C-8 -6 -8 6 -5.5 15.5M5.5 -15.5C8 -6 8 6 5.5 15.5M-10.5 -12.5C-15 -4 -15 4 -10.5 12.5M10.5 -12.5C15 -4 15 4 10.5 12.5" stroke="#fff" stroke-width="1.7" fill="none"/></g>
<g transform="translate(642.4 598.5)"><path d="M33 0L16.5 28.58L-16.5 28.58L-33 0L-16.5 -28.58L16.5 -28.58ZM24.02 11.2L2.31 26.4L-21.71 15.2L-24.02 -11.2L-2.31 -26.4L21.71 -15.2Z" fill="#fafbfc" fill-rule="evenodd" stroke="none"/><path d="M2 -33C14 -31 24 -20 27 -2L21 -12C17 -22 10 -29 2 -33Z" fill="#f4f5f9" stroke="none"/><circle r="16.6" fill="#f2f4f8" stroke="none"/><path d="M-16.5 -2.5H16.5M-15 -9H15M-15 4.5H15M-11 11H11M0 -16.5V16.5M-5.5 -15.5C-8 -6 -8 6 -5.5 15.5M5.5 -15.5C8 -6 8 6 5.5 15.5M-10.5 -12.5C-15 -4 -15 4 -10.5 12.5M10.5 -12.5C15 -4 15 4 10.5 12.5" stroke="#fff" stroke-width="1.7" fill="none"/></g>
<g transform="translate(786.4 598.5)"><path d="M33 0L16.5 28.58L-16.5 28.58L-33 0L-16.5 -28.58L16.5 -28.58ZM24.02 11.2L2.31 26.4L-21.71 15.2L-24.02 -11.2L-2.31 -26.4L21.71 -15.2Z" fill="#fafbfc" fill-rule="evenodd" stroke="none"/><path d="M2 -33C14 -31 24 -20 27 -2L21 -12C17 -22 10 -29 2 -33Z" fill="#f4f5f9" stroke="none"/><circle r="16.6" fill="#f2f4f8" stroke="none"/><path d="M-16.5 -2.5H16.5M-15 -9H15M-15 4.5H15M-11 11H11M0 -16.5V16.5M-5.5 -15.5C-8 -6 -8 6 -5.5 15.5M5.5 -15.5C8 -6 8 6 5.5 15.5M-10.5 -12.5C-15 -4 -15 4 -10.5 12.5M10.5 -12.5C15 -4 15 4 10.5 12.5" stroke="#fff" stroke-width="1.7" fill="none"/></g>
<g transform="translate(930.4 598.5)"><path d="M33 0L16.5 28.58L-16.5 28.58L-33 0L-16.5 -28.58L16.5 -28.58ZM24.02 11.2L2.31 26.4L-21.71 15.2L-24.02 -11.2L-2.31 -26.4L21.71 -15.2Z" fill="#fafbfc" fill-rule="evenodd" stroke="none"/><path d="M2 -33C14 -31 24 -20 27 -2L21 -12C17 -22 10 -29 2 -33Z" fill="#f4f5f9" stroke="none"/><circle r="16.6" fill="#f2f4f8" stroke="none"/><path d="M-16.5 -2.5H16.5M-15 -9H15M-15 4.5H15M-11 11H11M0 -16.5V16.5M-5.5 -15.5C-8 -6 -8 6 -5.5 15.5M5.5 -15.5C8 -6 8 6 5.5 15.5M-10.5 -12.5C-15 -4 -15 4 -10.5 12.5M10.5 -12.5C15 -4 15 4 10.5 12.5" stroke="#fff" stroke-width="1.7" fill="none"/></g>
<g transform="translate(1074.4 598.5)"><path d="M33 0L16.5 28.58L-16.5 28.58L-33 0L-16.5 -28.58L16.5 -28.58ZM24.02 11.2L2.31 26.4L-21.71 15.2L-24.02 -11.2L-2.31 -26.4L21.71 -15.2Z" fill="#fafbfc" fill-rule="evenodd" stroke="none"/><path d="M2 -33C14 -31 24 -20 27 -2L21 -12C17 -22 10 -29 2 -33Z" fill="#f4f5f9" stroke="none"/><circle r="16.6" fill="#f2f4f8" stroke="none"/><path d="M-16.5 -2.5H16.5M-15 -9H15M-15 4.5H15M-11 11H11M0 -16.5V16.5M-5.5 -15.5C-8 -6 -8 6 -5.5 15.5M5.5 -15.5C8 -6 8 6 5.5 15.5M-10.5 -12.5C-15 -4 -15 4 -10.5 12.5M10.5 -12.5C15 -4 15 4 10.5 12.5" stroke="#fff" stroke-width="1.7" fill="none"/></g>
<g transform="translate(1218.4 598.5)"><path d="M33 0L16.5 28.58L-16.5 28.58L-33 0L-16.5 -28.58L16.5 -28.58ZM24.02 11.2L2.31 26.4L-21.71 15.2L-24.02 -11.2L-2.31 -26.4L21.71 -15.2Z" fill="#fafbfc" fill-rule="evenodd" stroke="none"/><path d="M2 -33C14 -31 24 -20 27 -2L21 -12C17 -22 10 -29 2 -33Z" fill="#f4f5f9" stroke="none"/><circle r="16.6" fill="#f2f4f8" stroke="none"/><path d="M-16.5 -2.5H16.5M-15 -9H15M-15 4.5H15M-11 11H11M0 -16.5V16.5M-5.5 -15.5C-8 -6 -8 6 -5.5 15.5M5.5 -15.5C8 -6 8 6 5.5 15.5M-10.5 -12.5C-15 -4 -15 4 -10.5 12.5M10.5 -12.5C15 -4 15 4 10.5 12.5" stroke="#fff" stroke-width="1.7" fill="none"/></g>
<g transform="translate(1362.4 598.5)"><path d="M33 0L16.5 28.58L-16.5 28.58L-33 0L-16.5 -28.58L16.5 -28.58ZM24.02 11.2L2.31 26.4L-21.71 15.2L-24.02 -11.2L-2.31 -26.4L21.71 -15.2Z" fill="#fafbfc" fill-rule="evenodd" stroke="none"/><path d="M2 -33C14 -31 24 -20 27 -2L21 -12C17 -22 10 -29 2 -33Z" fill="#f4f5f9" stroke="none"/><circle r="16.6" fill="#f2f4f8" stroke="none"/><path d="M-16.5 -2.5H16.5M-15 -9H15M-15 4.5H15M-11 11H11M0 -16.5V16.5M-5.5 -15.5C-8 -6 -8 6 -5.5 15.5M5.5 -15.5C8 -6 8 6 5.5 15.5M-10.5 -12.5C-15 -4 -15 4 -10.5 12.5M10.5 -12.5C15 -4 15 4 10.5 12.5" stroke="#fff" stroke-width="1.7" fill="none"/></g>
<g transform="translate(1506.4 598.5)"><path d="M33 0L16.5 28.58L-16.5 28.58L-33 0L-16.5 -28.58L16.5 -28.58ZM24.02 11.2L2.31 26.4L-21.71 15.2L-24.02 -11.2L-2.31 -26.4L21.71 -15.2Z" fill="#fafbfc" fill-rule="evenodd" stroke="none"/><path d="M2 -33C14 -31 24 -20 27 -2L21 -12C17 -22 10 -29 2 -33Z" fill="#f4f5f9" stroke="none"/><circle r="16.6" fill="#f2f4f8" stroke="none"/><path d="M-16.5 -2.5H16.5M-15 -9H15M-15 4.5H15M-11 11H11M0 -16.5V16.5M-5.5 -15.5C-8 -6 -8 6 -5.5 15.5M5.5 -15.5C8 -6 8 6 5.5 15.5M-10.5 -12.5C-15 -4 -15 4 -10.5 12.5M10.5 -12.5C15 -4 15 4 10.5 12.5" stroke="#fff" stroke-width="1.7" fill="none"/></g>
<g transform="translate(1650.4 598.5)"><path d="M33 0L16.5 28.58L-16.5 28.58L-33 0L-16.5 -28.58L16.5 -28.58ZM24.02 11.2L2.31 26.4L-21.71 15.2L-24.02 -11.2L-2.31 -26.4L21.71 -15.2Z" fill="#fafbfc" fill-rule="evenodd" stroke="none"/><path d="M2 -33C14 -31 24 -20 27 -2L21 -12C17 -22 10 -29 2 -33Z" fill="#f4f5f9" stroke="none"/><circle r="16.6" fill="#f2f4f8" stroke="none"/><path d="M-16.5 -2.5H16.5M-15 -9H15M-15 4.5H15M-11 11H11M0 -16.5V16.5M-5.5 -15.5C-8 -6 -8 6 -5.5 15.5M5.5 -15.5C8 -6 8 6 5.5 15.5M-10.5 -12.5C-15 -4 -15 4 -10.5 12.5M10.5 -12.5C15 -4 15 4 10.5 12.5" stroke="#fff" stroke-width="1.7" fill="none"/></g>
<g transform="translate(66.4 692.1)"><path d="M33 0L16.5 28.58L-16.5 28.58L-33 0L-16.5 -28.58L16.5 -28.58ZM24.02 11.2L2.31 26.4L-21.71 15.2L-24.02 -11.2L-2.31 -26.4L21.71 -15.2Z" fill="#fafbfc" fill-rule="evenodd" stroke="none"/><path d="M2 -33C14 -31 24 -20 27 -2L21 -12C17 -22 10 -29 2 -33Z" fill="#f4f5f9" stroke="none"/><circle r="16.6" fill="#f2f4f8" stroke="none"/><path d="M-16.5 -2.5H16.5M-15 -9H15M-15 4.5H15M-11 11H11M0 -16.5V16.5M-5.5 -15.5C-8 -6 -8 6 -5.5 15.5M5.5 -15.5C8 -6 8 6 5.5 15.5M-10.5 -12.5C-15 -4 -15 4 -10.5 12.5M10.5 -12.5C15 -4 15 4 10.5 12.5" stroke="#fff" stroke-width="1.7" fill="none"/></g>
<g transform="translate(210.4 692.1)"><path d="M33 0L16.5 28.58L-16.5 28.58L-33 0L-16.5 -28.58L16.5 -28.58ZM24.02 11.2L2.31 26.4L-21.71 15.2L-24.02 -11.2L-2.31 -26.4L21.71 -15.2Z" fill="#fafbfc" fill-rule="evenodd" stroke="none"/><path d="M2 -33C14 -31 24 -20 27 -2L21 -12C17 -22 10 -29 2 -33Z" fill="#f4f5f9" stroke="none"/><circle r="16.6" fill="#f2f4f8" stroke="none"/><path d="M-16.5 -2.5H16.5M-15 -9H15M-15 4.5H15M-11 11H11M0 -16.5V16.5M-5.5 -15.5C-8 -6 -8 6 -5.5 15.5M5.5 -15.5C8 -6 8 6 5.5 15.5M-10.5 -12.5C-15 -4 -15 4 -10.5 12.5M10.5 -12.5C15 -4 15 4 10.5 12.5" stroke="#fff" stroke-width="1.7" fill="none"/></g>
<g transform="translate(354.4 692.1)"><path d="M33 0L16.5 28.58L-16.5 28.58L-33 0L-16.5 -28.58L16.5 -28.58ZM24.02 11.2L2.31 26.4L-21.71 15.2L-24.02 -11.2L-2.31 -26.4L21.71 -15.2Z" fill="#fafbfc" fill-rule="evenodd" stroke="none"/><path d="M2 -33C14 -31 24 -20 27 -2L21 -12C17 -22 10 -29 2 -33Z" fill="#f4f5f9" stroke="none"/><circle r="16.6" fill="#f2f4f8" stroke="none"/><path d="M-16.5 -2.5H16.5M-15 -9H15M-15 4.5H15M-11 11H11M0 -16.5V16.5M-5.5 -15.5C-8 -6 -8 6 -5.5 15.5M5.5 -15.5C8 -6 8 6 5.5 15.5M-10.5 -12.5C-15 -4 -15 4 -10.5 12.5M10.5 -12.5C15 -4 15 4 10.5 12.5" stroke="#fff" stroke-width="1.7" fill="none"/></g>
<g transform="translate(498.4 692.1)"><path d="M33 0L16.5 28.58L-16.5 28.58L-33 0L-16.5 -28.58L16.5 -28.58ZM24.02 11.2L2.31 26.4L-21.71 15.2L-24.02 -11.2L-2.31 -26.4L21.71 -15.2Z" fill="#fafbfc" fill-rule="evenodd" stroke="none"/><path d="M2 -33C14 -31 24 -20 27 -2L21 -12C17 -22 10 -29 2 -33Z" fill="#f4f5f9" stroke="none"/><circle r="16.6" fill="#f2f4f8" stroke="none"/><path d="M-16.5 -2.5H16.5M-15 -9H15M-15 4.5H15M-11 11H11M0 -16.5V16.5M-5.5 -15.5C-8 -6 -8 6 -5.5 15.5M5.5 -15.5C8 -6 8 6 5.5 15.5M-10.5 -12.5C-15 -4 -15 4 -10.5 12.5M10.5 -12.5C15 -4 15 4 10.5 12.5" stroke="#fff" stroke-width="1.7" fill="none"/></g>
<g transform="translate(642.4 692.1)"><path d="M33 0L16.5 28.58L-16.5 28.58L-33 0L-16.5 -28.58L16.5 -28.58ZM24.02 11.2L2.31 26.4L-21.71 15.2L-24.02 -11.2L-2.31 -26.4L21.71 -15.2Z" fill="#fafbfc" fill-rule="evenodd" stroke="none"/><path d="M2 -33C14 -31 24 -20 27 -2L21 -12C17 -22 10 -29 2 -33Z" fill="#f4f5f9" stroke="none"/><circle r="16.6" fill="#f2f4f8" stroke="none"/><path d="M-16.5 -2.5H16.5M-15 -9H15M-15 4.5H15M-11 11H11M0 -16.5V16.5M-5.5 -15.5C-8 -6 -8 6 -5.5 15.5M5.5 -15.5C8 -6 8 6 5.5 15.5M-10.5 -12.5C-15 -4 -15 4 -10.5 12.5M10.5 -12.5C15 -4 15 4 10.5 12.5" stroke="#fff" stroke-width="1.7" fill="none"/></g>
<g transform="translate(786.4 692.1)"><path d="M33 0L16.5 28.58L-16.5 28.58L-33 0L-16.5 -28.58L16.5 -28.58ZM24.02 11.2L2.31 26.4L-21.71 15.2L-24.02 -11.2L-2.31 -26.4L21.71 -15.2Z" fill="#fafbfc" fill-rule="evenodd" stroke="none"/><path d="M2 -33C14 -31 24 -20 27 -2L21 -12C17 -22 10 -29 2 -33Z" fill="#f4f5f9" stroke="none"/><circle r="16.6" fill="#f2f4f8" stroke="none"/><path d="M-16.5 -2.5H16.5M-15 -9H15M-15 4.5H15M-11 11H11M0 -16.5V16.5M-5.5 -15.5C-8 -6 -8 6 -5.5 15.5M5.5 -15.5C8 -6 8 6 5.5 15.5M-10.5 -12.5C-15 -4 -15 4 -10.5 12.5M10.5 -12.5C15 -4 15 4 10.5 12.5" stroke="#fff" stroke-width="1.7" fill="none"/></g>
<g transform="translate(930.4 692.1)"><path d="M33 0L16.5 28.58L-16.5 28.58L-33 0L-16.5 -28.58L16.5 -28.58ZM24.02 11.2L2.31 26.4L-21.71 15.2L-24.02 -11.2L-2.31 -26.4L21.71 -15.2Z" fill="#fafbfc" fill-rule="evenodd" stroke="none"/><path d="M2 -33C14 -31 24 -20 27 -2L21 -12C17 -22 10 -29 2 -33Z" fill="#f4f5f9" stroke="none"/><circle r="16.6" fill="#f2f4f8" stroke="none"/><path d="M-16.5 -2.5H16.5M-15 -9H15M-15 4.5H15M-11 11H11M0 -16.5V16.5M-5.5 -15.5C-8 -6 -8 6 -5.5 15.5M5.5 -15.5C8 -6 8 6 5.5 15.5M-10.5 -12.5C-15 -4 -15 4 -10.5 12.5M10.5 -12.5C15 -4 15 4 10.5 12.5" stroke="#fff" stroke-width="1.7" fill="none"/></g>
<g transform="translate(1074.4 692.1)"><path d="M33 0L16.5 28.58L-16.5 28.58L-33 0L-16.5 -28.58L16.5 -28.58ZM24.02 11.2L2.31 26.4L-21.71 15.2L-24.02 -11.2L-2.31 -26.4L21.71 -15.2Z" fill="#fafbfc" fill-rule="evenodd" stroke="none"/><path d="M2 -33C14 -31 24 -20 27 -2L21 -12C17 -22 10 -29 2 -33Z" fill="#f4f5f9" stroke="none"/><circle r="16.6" fill="#f2f4f8" stroke="none"/><path d="M-16.5 -2.5H16.5M-15 -9H15M-15 4.5H15M-11 11H11M0 -16.5V16.5M-5.5 -15.5C-8 -6 -8 6 -5.5 15.5M5.5 -15.5C8 -6 8 6 5.5 15.5M-10.5 -12.5C-15 -4 -15 4 -10.5 12.5M10.5 -12.5C15 -4 15 4 10.5 12.5" stroke="#fff" stroke-width="1.7" fill="none"/></g>
<g transform="translate(1218.4 692.1)"><path d="M33 0L16.5 28.58L-16.5 28.58L-33 0L-16.5 -28.58L16.5 -28.58ZM24.02 11.2L2.31 26.4L-21.71 15.2L-24.02 -11.2L-2.31 -26.4L21.71 -15.2Z" fill="#fafbfc" fill-rule="evenodd" stroke="none"/><path d="M2 -33C14 -31 24 -20 27 -2L21 -12C17 -22 10 -29 2 -33Z" fill="#f4f5f9" stroke="none"/><circle r="16.6" fill="#f2f4f8" stroke="none"/><path d="M-16.5 -2.5H16.5M-15 -9H15M-15 4.5H15M-11 11H11M0 -16.5V16.5M-5.5 -15.5C-8 -6 -8 6 -5.5 15.5M5.5 -15.5C8 -6 8 6 5.5 15.5M-10.5 -12.5C-15 -4 -15 4 -10.5 12.5M10.5 -12.5C15 -4 15 4 10.5 12.5" stroke="#fff" stroke-width="1.7" fill="none"/></g>
<g transform="translate(1362.4 692.1)"><path d="M33 0L16.5 28.58L-16.5 28.58L-33 0L-16.5 -28.58L16.5 -28.58ZM24.02 11.2L2.31 26.4L-21.71 15.2L-24.02 -11.2L-2.31 -26.4L21.71 -15.2Z" fill="#fafbfc" fill-rule="evenodd" stroke="none"/><path d="M2 -33C14 -31 24 -20 27 -2L21 -12C17 -22 10 -29 2 -33Z" fill="#f4f5f9" stroke="none"/><circle r="16.6" fill="#f2f4f8" stroke="none"/><path d="M-16.5 -2.5H16.5M-15 -9H15M-15 4.5H15M-11 11H11M0 -16.5V16.5M-5.5 -15.5C-8 -6 -8 6 -5.5 15.5M5.5 -15.5C8 -6 8 6 5.5 15.5M-10.5 -12.5C-15 -4 -15 4 -10.5 12.5M10.5 -12.5C15 -4 15 4 10.5 12.5" stroke="#fff" stroke-width="1.7" fill="none"/></g>
<g transform="translate(1506.4 692.1)"><path d="M33 0L16.5 28.58L-16.5 28.58L-33 0L-16.5 -28.58L16.5 -28.58ZM24.02 11.2L2.31 26.4L-21.71 15.2L-24.02 -11.2L-2.31 -26.4L21.71 -15.2Z" fill="#fafbfc" fill-rule="evenodd" stroke="none"/><path d="M2 -33C14 -31 24 -20 27 -2L21 -12C17 -22 10 -29 2 -33Z" fill="#f4f5f9" stroke="none"/><circle r="16.6" fill="#f2f4f8" stroke="none"/><path d="M-16.5 -2.5H16.5M-15 -9H15M-15 4.5H15M-11 11H11M0 -16.5V16.5M-5.5 -15.5C-8 -6 -8 6 -5.5 15.5M5.5 -15.5C8 -6 8 6 5.5 15.5M-10.5 -12.5C-15 -4 -15 4 -10.5 12.5M10.5 -12.5C15 -4 15 4 10.5 12.5" stroke="#fff" stroke-width="1.7" fill="none"/></g>
<g transform="translate(1650.4 692.1)"><path d="M33 0L16.5 28.58L-16.5 28.58L-33 0L-16.5 -28.58L16.5 -28.58ZM24.02 11.2L2.31 26.4L-21.71 15.2L-24.02 -11.2L-2.31 -26.4L21.71 -15.2Z" fill="#fafbfc" fill-rule="evenodd" stroke="none"/><path d="M2 -33C14 -31 24 -20 27 -2L21 -12C17 -22 10 -29 2 -33Z" fill="#f4f5f9" stroke="none"/><circle r="16.6" fill="#f2f4f8" stroke="none"/><path d="M-16.5 -2.5H16.5M-15 -9H15M-15 4.5H15M-11 11H11M0 -16.5V16.5M-5.5 -15.5C-8 -6 -8 6 -5.5 15.5M5.5 -15.5C8 -6 8 6 5.5 15.5M-10.5 -12.5C-15 -4 -15 4 -10.5 12.5M10.5 -12.5C15 -4 15 4 10.5 12.5" stroke="#fff" stroke-width="1.7" fill="none"/></g>
<g transform="translate(66.4 785.7)"><path d="M33 0L16.5 28.58L-16.5 28.58L-33 0L-16.5 -28.58L16.5 -28.58ZM24.02 11.2L2.31 26.4L-21.71 15.2L-24.02 -11.2L-2.31 -26.4L21.71 -15.2Z" fill="#fafbfc" fill-rule="evenodd" stroke="none"/><path d="M2 -33C14 -31 24 -20 27 -2L21 -12C17 -22 10 -29 2 -33Z" fill="#f4f5f9" stroke="none"/><circle r="16.6" fill="#f2f4f8" stroke="none"/><path d="M-16.5 -2.5H16.5M-15 -9H15M-15 4.5H15M-11 11H11M0 -16.5V16.5M-5.5 -15.5C-8 -6 -8 6 -5.5 15.5M5.5 -15.5C8 -6 8 6 5.5 15.5M-10.5 -12.5C-15 -4 -15 4 -10.5 12.5M10.5 -12.5C15 -4 15 4 10.5 12.5" stroke="#fff" stroke-width="1.7" fill="none"/></g>
<g transform="translate(210.4 785.7)"><path d="M33 0L16.5 28.58L-16.5 28.58L-33 0L-16.5 -28.58L16.5 -28.58ZM24.02 11.2L2.31 26.4L-21.71 15.2L-24.02 -11.2L-2.31 -26.4L21.71 -15.2Z" fill="#fafbfc" fill-rule="evenodd" stroke="none"/><path d="M2 -33C14 -31 24 -20 27 -2L21 -12C17 -22 10 -29 2 -33Z" fill="#f4f5f9" stroke="none"/><circle r="16.6" fill="#f2f4f8" stroke="none"/><path d="M-16.5 -2.5H16.5M-15 -9H15M-15 4.5H15M-11 11H11M0 -16.5V16.5M-5.5 -15.5C-8 -6 -8 6 -5.5 15.5M5.5 -15.5C8 -6 8 6 5.5 15.5M-10.5 -12.5C-15 -4 -15 4 -10.5 12.5M10.5 -12.5C15 -4 15 4 10.5 12.5" stroke="#fff" stroke-width="1.7" fill="none"/></g>
<g transform="translate(354.4 785.7)"><path d="M33 0L16.5 28.58L-16.5 28.58L-33 0L-16.5 -28.58L16.5 -28.58ZM24.02 11.2L2.31 26.4L-21.71 15.2L-24.02 -11.2L-2.31 -26.4L21.71 -15.2Z" fill="#fafbfc" fill-rule="evenodd" stroke="none"/><path d="M2 -33C14 -31 24 -20 27 -2L21 -12C17 -22 10 -29 2 -33Z" fill="#f4f5f9" stroke="none"/><circle r="16.6" fill="#f2f4f8" stroke="none"/><path d="M-16.5 -2.5H16.5M-15 -9H15M-15 4.5H15M-11 11H11M0 -16.5V16.5M-5.5 -15.5C-8 -6 -8 6 -5.5 15.5M5.5 -15.5C8 -6 8 6 5.5 15.5M-10.5 -12.5C-15 -4 -15 4 -10.5 12.5M10.5 -12.5C15 -4 15 4 10.5 12.5" stroke="#fff" stroke-width="1.7" fill="none"/></g>
<g transform="translate(498.4 785.7)"><path d="M33 0L16.5 28.58L-16.5 28.58L-33 0L-16.5 -28.58L16.5 -28.58ZM24.02 11.2L2.31 26.4L-21.71 15.2L-24.02 -11.2L-2.31 -26.4L21.71 -15.2Z" fill="#fafbfc" fill-rule="evenodd" stroke="none"/><path d="M2 -33C14 -31 24 -20 27 -2L21 -12C17 -22 10 -29 2 -33Z" fill="#f4f5f9" stroke="none"/><circle r="16.6" fill="#f2f4f8" stroke="none"/><path d="M-16.5 -2.5H16.5M-15 -9H15M-15 4.5H15M-11 11H11M0 -16.5V16.5M-5.5 -15.5C-8 -6 -8 6 -5.5 15.5M5.5 -15.5C8 -6 8 6 5.5 15.5M-10.5 -12.5C-15 -4 -15 4 -10.5 12.5M10.5 -12.5C15 -4 15 4 10.5 12.5" stroke="#fff" stroke-width="1.7" fill="none"/></g>
<g transform="translate(642.4 785.7)"><path d="M33 0L16.5 28.58L-16.5 28.58L-33 0L-16.5 -28.58L16.5 -28.58ZM24.02 11.2L2.31 26.4L-21.71 15.2L-24.02 -11.2L-2.31 -26.4L21.71 -15.2Z" fill="#fafbfc" fill-rule="evenodd" stroke="none"/><path d="M2 -33C14 -31 24 -20 27 -2L21 -12C17 -22 10 -29 2 -33Z" fill="#f4f5f9" stroke="none"/><circle r="16.6" fill="#f2f4f8" stroke="none"/><path d="M-16.5 -2.5H16.5M-15 -9H15M-15 4.5H15M-11 11H11M0 -16.5V16.5M-5.5 -15.5C-8 -6 -8 6 -5.5 15.5M5.5 -15.5C8 -6 8 6 5.5 15.5M-10.5 -12.5C-15 -4 -15 4 -10.5 12.5M10.5 -12.5C15 -4 15 4 10.5 12.5" stroke="#fff" stroke-width="1.7" fill="none"/></g>
<g transform="translate(786.4 785.7)"><path d="M33 0L16.5 28.58L-16.5 28.58L-33 0L-16.5 -28.58L16.5 -28.58ZM24.02 11.2L2.31 26.4L-21.71 15.2L-24.02 -11.2L-2.31 -26.4L21.71 -15.2Z" fill="#fafbfc" fill-rule="evenodd" stroke="none"/><path d="M2 -33C14 -31 24 -20 27 -2L21 -12C17 -22 10 -29 2 -33Z" fill="#f4f5f9" stroke="none"/><circle r="16.6" fill="#f2f4f8" stroke="none"/><path d="M-16.5 -2.5H16.5M-15 -9H15M-15 4.5H15M-11 11H11M0 -16.5V16.5M-5.5 -15.5C-8 -6 -8 6 -5.5 15.5M5.5 -15.5C8 -6 8 6 5.5 15.5M-10.5 -12.5C-15 -4 -15 4 -10.5 12.5M10.5 -12.5C15 -4 15 4 10.5 12.5" stroke="#fff" stroke-width="1.7" fill="none"/></g>
<g transform="translate(930.4 785.7)"><path d="M33 0L16.5 28.58L-16.5 28.58L-33 0L-16.5 -28.58L16.5 -28.58ZM24.02 11.2L2.31 26.4L-21.71 15.2L-24.02 -11.2L-2.31 -26.4L21.71 -15.2Z" fill="#fafbfc" fill-rule="evenodd" stroke="none"/><path d="M2 -33C14 -31 24 -20 27 -2L21 -12C17 -22 10 -29 2 -33Z" fill="#f4f5f9" stroke="none"/><circle r="16.6" fill="#f2f4f8" stroke="none"/><path d="M-16.5 -2.5H16.5M-15 -9H15M-15 4.5H15M-11 11H11M0 -16.5V16.5M-5.5 -15.5C-8 -6 -8 6 -5.5 15.5M5.5 -15.5C8 -6 8 6 5.5 15.5M-10.5 -12.5C-15 -4 -15 4 -10.5 12.5M10.5 -12.5C15 -4 15 4 10.5 12.5" stroke="#fff" stroke-width="1.7" fill="none"/></g>
<g transform="translate(1074.4 785.7)"><path d="M33 0L16.5 28.58L-16.5 28.58L-33 0L-16.5 -28.58L16.5 -28.58ZM24.02 11.2L2.31 26.4L-21.71 15.2L-24.02 -11.2L-2.31 -26.4L21.71 -15.2Z" fill="#fafbfc" fill-rule="evenodd" stroke="none"/><path d="M2 -33C14 -31 24 -20 27 -2L21 -12C17 -22 10 -29 2 -33Z" fill="#f4f5f9" stroke="none"/><circle r="16.6" fill="#f2f4f8" stroke="none"/><path d="M-16.5 -2.5H16.5M-15 -9H15M-15 4.5H15M-11 11H11M0 -16.5V16.5M-5.5 -15.5C-8 -6 -8 6 -5.5 15.5M5.5 -15.5C8 -6 8 6 5.5 15.5M-10.5 -12.5C-15 -4 -15 4 -10.5 12.5M10.5 -12.5C15 -4 15 4 10.5 12.5" stroke="#fff" stroke-width="1.7" fill="none"/></g>
<g transform="translate(1218.4 785.7)"><path d="M33 0L16.5 28.58L-16.5 28.58L-33 0L-16.5 -28.58L16.5 -28.58ZM24.02 11.2L2.31 26.4L-21.71 15.2L-24.02 -11.2L-2.31 -26.4L21.71 -15.2Z" fill="#fafbfc" fill-rule="evenodd" stroke="none"/><path d="M2 -33C14 -31 24 -20 27 -2L21 -12C17 -22 10 -29 2 -33Z" fill="#f4f5f9" stroke="none"/><circle r="16.6" fill="#f2f4f8" stroke="none"/><path d="M-16.5 -2.5H16.5M-15 -9H15M-15 4.5H15M-11 11H11M0 -16.5V16.5M-5.5 -15.5C-8 -6 -8 6 -5.5 15.5M5.5 -15.5C8 -6 8 6 5.5 15.5M-10.5 -12.5C-15 -4 -15 4 -10.5 12.5M10.5 -12.5C15 -4 15 4 10.5 12.5" stroke="#fff" stroke-width="1.7" fill="none"/></g>
<g transform="translate(1362.4 785.7)"><path d="M33 0L16.5 28.58L-16.5 28.58L-33 0L-16.5 -28.58L16.5 -28.58ZM24.02 11.2L2.31 26.4L-21.71 15.2L-24.02 -11.2L-2.31 -26.4L21.71 -15.2Z" fill="#fafbfc" fill-rule="evenodd" stroke="none"/><path d="M2 -33C14 -31 24 -20 27 -2L21 -12C17 -22 10 -29 2 -33Z" fill="#f4f5f9" stroke="none"/><circle r="16.6" fill="#f2f4f8" stroke="none"/><path d="M-16.5 -2.5H16.5M-15 -9H15M-15 4.5H15M-11 11H11M0 -16.5V16.5M-5.5 -15.5C-8 -6 -8 6 -5.5 15.5M5.5 -15.5C8 -6 8 6 5.5 15.5M-10.5 -12.5C-15 -4 -15 4 -10.5 12.5M10.5 -12.5C15 -4 15 4 10.5 12.5" stroke="#fff" stroke-width="1.7" fill="none"/></g>
<g transform="translate(1506.4 785.7)"><path d="M33 0L16.5 28.58L-16.5 28.58L-33 0L-16.5 -28.58L16.5 -28.58ZM24.02 11.2L2.31 26.4L-21.71 15.2L-24.02 -11.2L-2.31 -26.4L21.71 -15.2Z" fill="#fafbfc" fill-rule="evenodd" stroke="none"/><path d="M2 -33C14 -31 24 -20 27 -2L21 -12C17 -22 10 -29 2 -33Z" fill="#f4f5f9" stroke="none"/><circle r="16.6" fill="#f2f4f8" stroke="none"/><path d="M-16.5 -2.5H16.5M-15 -9H15M-15 4.5H15M-11 11H11M0 -16.5V16.5M-5.5 -15.5C-8 -6 -8 6 -5.5 15.5M5.5 -15.5C8 -6 8 6 5.5 15.5M-10.5 -12.5C-15 -4 -15 4 -10.5 12.5M10.5 -12.5C15 -4 15 4 10.5 12.5" stroke="#fff" stroke-width="1.7" fill="none"/></g>
<g transform="translate(1650.4 785.7)"><path d="M33 0L16.5 28.58L-16.5 28.58L-33 0L-16.5 -28.58L16.5 -28.58ZM24.02 11.2L2.31 26.4L-21.71 15.2L-24.02 -11.2L-2.31 -26.4L21.71 -15.2Z" fill="#fafbfc" fill-rule="evenodd" stroke="none"/><path d="M2 -33C14 -31 24 -20 27 -2L21 -12C17 -22 10 -29 2 -33Z" fill="#f4f5f9" stroke="none"/><circle r="16.6" fill="#f2f4f8" stroke="none"/><path d="M-16.5 -2.5H16.5M-15 -9H15M-15 4.5H15M-11 11H11M0 -16.5V16.5M-5.5 -15.5C-8 -6 -8 6 -5.5 15.5M5.5 -15.5C8 -6 8 6 5.5 15.5M-10.5 -12.5C-15 -4 -15 4 -10.5 12.5M10.5 -12.5C15 -4 15 4 10.5 12.5" stroke="#fff" stroke-width="1.7" fill="none"/></g>
<g transform="translate(66.4 879.3)"><path d="M33 0L16.5 28.58L-16.5 28.58L-33 0L-16.5 -28.58L16.5 -28.58ZM24.02 11.2L2.31 26.4L-21.71 15.2L-24.02 -11.2L-2.31 -26.4L21.71 -15.2Z" fill="#fafbfc" fill-rule="evenodd" stroke="none"/><path d="M2 -33C14 -31 24 -20 27 -2L21 -12C17 -22 10 -29 2 -33Z" fill="#f4f5f9" stroke="none"/><circle r="16.6" fill="#f2f4f8" stroke="none"/><path d="M-16.5 -2.5H16.5M-15 -9H15M-15 4.5H15M-11 11H11M0 -16.5V16.5M-5.5 -15.5C-8 -6 -8 6 -5.5 15.5M5.5 -15.5C8 -6 8 6 5.5 15.5M-10.5 -12.5C-15 -4 -15 4 -10.5 12.5M10.5 -12.5C15 -4 15 4 10.5 12.5" stroke="#fff" stroke-width="1.7" fill="none"/></g>
<g transform="translate(210.4 879.3)"><path d="M33 0L16.5 28.58L-16.5 28.58L-33 0L-16.5 -28.58L16.5 -28.58ZM24.02 11.2L2.31 26.4L-21.71 15.2L-24.02 -11.2L-2.31 -26.4L21.71 -15.2Z" fill="#fafbfc" fill-rule="evenodd" stroke="none"/><path d="M2 -33C14 -31 24 -20 27 -2L21 -12C17 -22 10 -29 2 -33Z" fill="#f4f5f9" stroke="none"/><circle r="16.6" fill="#f2f4f8" stroke="none"/><path d="M-16.5 -2.5H16.5M-15 -9H15M-15 4.5H15M-11 11H11M0 -16.5V16.5M-5.5 -15.5C-8 -6 -8 6 -5.5 15.5M5.5 -15.5C8 -6 8 6 5.5 15.5M-10.5 -12.5C-15 -4 -15 4 -10.5 12.5M10.5 -12.5C15 -4 15 4 10.5 12.5" stroke="#fff" stroke-width="1.7" fill="none"/></g>
<g transform="translate(354.4 879.3)"><path d="M33 0L16.5 28.58L-16.5 28.58L-33 0L-16.5 -28.58L16.5 -28.58ZM24.02 11.2L2.31 26.4L-21.71 15.2L-24.02 -11.2L-2.31 -26.4L21.71 -15.2Z" fill="#fafbfc" fill-rule="evenodd" stroke="none"/><path d="M2 -33C14 -31 24 -20 27 -2L21 -12C17 -22 10 -29 2 -33Z" fill="#f4f5f9" stroke="none"/><circle r="16.6" fill="#f2f4f8" stroke="none"/><path d="M-16.5 -2.5H16.5M-15 -9H15M-15 4.5H15M-11 11H11M0 -16.5V16.5M-5.5 -15.5C-8 -6 -8 6 -5.5 15.5M5.5 -15.5C8 -6 8 6 5.5 15.5M-10.5 -12.5C-15 -4 -15 4 -10.5 12.5M10.5 -12.5C15 -4 15 4 10.5 12.5" stroke="#fff" stroke-width="1.7" fill="none"/></g>
<g transform="translate(498.4 879.3)"><path d="M33 0L16.5 28.58L-16.5 28.58L-33 0L-16.5 -28.58L16.5 -28.58ZM24.02 11.2L2.31 26.4L-21.71 15.2L-24.02 -11.2L-2.31 -26.4L21.71 -15.2Z" fill="#fafbfc" fill-rule="evenodd" stroke="none"/><path d="M2 -33C14 -31 24 -20 27 -2L21 -12C17 -22 10 -29 2 -33Z" fill="#f4f5f9" stroke="none"/><circle r="16.6" fill="#f2f4f8" stroke="none"/><path d="M-16.5 -2.5H16.5M-15 -9H15M-15 4.5H15M-11 11H11M0 -16.5V16.5M-5.5 -15.5C-8 -6 -8 6 -5.5 15.5M5.5 -15.5C8 -6 8 6 5.5 15.5M-10.5 -12.5C-15 -4 -15 4 -10.5 12.5M10.5 -12.5C15 -4 15 4 10.5 12.5" stroke="#fff" stroke-width="1.7" fill="none"/></g>
<g transform="translate(642.4 879.3)"><path d="M33 0L16.5 28.58L-16.5 28.58L-33 0L-16.5 -28.58L16.5 -28.58ZM24.02 11.2L2.31 26.4L-21.71 15.2L-24.02 -11.2L-2.31 -26.4L21.71 -15.2Z" fill="#fafbfc" fill-rule="evenodd" stroke="none"/><path d="M2 -33C14 -31 24 -20 27 -2L21 -12C17 -22 10 -29 2 -33Z" fill="#f4f5f9" stroke="none"/><circle r="16.6" fill="#f2f4f8" stroke="none"/><path d="M-16.5 -2.5H16.5M-15 -9H15M-15 4.5H15M-11 11H11M0 -16.5V16.5M-5.5 -15.5C-8 -6 -8 6 -5.5 15.5M5.5 -15.5C8 -6 8 6 5.5 15.5M-10.5 -12.5C-15 -4 -15 4 -10.5 12.5M10.5 -12.5C15 -4 15 4 10.5 12.5" stroke="#fff" stroke-width="1.7" fill="none"/></g>
<g transform="translate(786.4 879.3)"><path d="M33 0L16.5 28.58L-16.5 28.58L-33 0L-16.5 -28.58L16.5 -28.58ZM24.02 11.2L2.31 26.4L-21.71 15.2L-24.02 -11.2L-2.31 -26.4L21.71 -15.2Z" fill="#fafbfc" fill-rule="evenodd" stroke="none"/><path d="M2 -33C14 -31 24 -20 27 -2L21 -12C17 -22 10 -29 2 -33Z" fill="#f4f5f9" stroke="none"/><circle r="16.6" fill="#f2f4f8" stroke="none"/><path d="M-16.5 -2.5H16.5M-15 -9H15M-15 4.5H15M-11 11H11M0 -16.5V16.5M-5.5 -15.5C-8 -6 -8 6 -5.5 15.5M5.5 -15.5C8 -6 8 6 5.5 15.5M-10.5 -12.5C-15 -4 -15 4 -10.5 12.5M10.5 -12.5C15 -4 15 4 10.5 12.5" stroke="#fff" stroke-width="1.7" fill="none"/></g>
<g transform="translate(930.4 879.3)"><path d="M33 0L16.5 28.58L-16.5 28.58L-33 0L-16.5 -28.58L16.5 -28.58ZM24.02 11.2L2.31 26.4L-21.71 15.2L-24.02 -11.2L-2.31 -26.4L21.71 -15.2Z" fill="#fafbfc" fill-rule="evenodd" stroke="none"/><path d="M2 -33C14 -31 24 -20 27 -2L21 -12C17 -22 10 -29 2 -33Z" fill="#f4f5f9" stroke="none"/><circle r="16.6" fill="#f2f4f8" stroke="none"/><path d="M-16.5 -2.5H16.5M-15 -9H15M-15 4.5H15M-11 11H11M0 -16.5V16.5M-5.5 -15.5C-8 -6 -8 6 -5.5 15.5M5.5 -15.5C8 -6 8 6 5.5 15.5M-10.5 -12.5C-15 -4 -15 4 -10.5 12.5M10.5 -12.5C15 -4 15 4 10.5 12.5" stroke="#fff" stroke-width="1.7" fill="none"/></g>
<g transform="translate(1074.4 879.3)"><path d="M33 0L16.5 28.58L-16.5 28.58L-33 0L-16.5 -28.58L16.5 -28.58ZM24.02 11.2L2.31 26.4L-21.71 15.2L-24.02 -11.2L-2.31 -26.4L21.71 -15.2Z" fill="#fafbfc" fill-rule="evenodd" stroke="none"/><path d="M2 -33C14 -31 24 -20 27 -2L21 -12C17 -22 10 -29 2 -33Z" fill="#f4f5f9" stroke="none"/><circle r="16.6" fill="#f2f4f8" stroke="none"/><path d="M-16.5 -2.5H16.5M-15 -9H15M-15 4.5H15M-11 11H11M0 -16.5V16.5M-5.5 -15.5C-8 -6 -8 6 -5.5 15.5M5.5 -15.5C8 -6 8 6 5.5 15.5M-10.5 -12.5C-15 -4 -15 4 -10.5 12.5M10.5 -12.5C15 -4 15 4 10.5 12.5" stroke="#fff" stroke-width="1.7" fill="none"/></g>
<g transform="translate(1218.4 879.3)"><path d="M33 0L16.5 28.58L-16.5 28.58L-33 0L-16.5 -28.58L16.5 -28.58ZM24.02 11.2L2.31 26.4L-21.71 15.2L-24.02 -11.2L-2.31 -26.4L21.71 -15.2Z" fill="#fafbfc" fill-rule="evenodd" stroke="none"/><path d="M2 -33C14 -31 24 -20 27 -2L21 -12C17 -22 10 -29 2 -33Z" fill="#f4f5f9" stroke="none"/><circle r="16.6" fill="#f2f4f8" stroke="none"/><path d="M-16.5 -2.5H16.5M-15 -9H15M-15 4.5H15M-11 11H11M0 -16.5V16.5M-5.5 -15.5C-8 -6 -8 6 -5.5 15.5M5.5 -15.5C8 -6 8 6 5.5 15.5M-10.5 -12.5C-15 -4 -15 4 -10.5 12.5M10.5 -12.5C15 -4 15 4 10.5 12.5" stroke="#fff" stroke-width="1.7" fill="none"/></g>
<g transform="translate(1362.4 879.3)"><path d="M33 0L16.5 28.58L-16.5 28.58L-33 0L-16.5 -28.58L16.5 -28.58ZM24.02 11.2L2.31 26.4L-21.71 15.2L-24.02 -11.2L-2.31 -26.4L21.71 -15.2Z" fill="#fafbfc" fill-rule="evenodd" stroke="none"/><path d="M2 -33C14 -31 24 -20 27 -2L21 -12C17 -22 10 -29 2 -33Z" fill="#f4f5f9" stroke="none"/><circle r="16.6" fill="#f2f4f8" stroke="none"/><path d="M-16.5 -2.5H16.5M-15 -9H15M-15 4.5H15M-11 11H11M0 -16.5V16.5M-5.5 -15.5C-8 -6 -8 6 -5.5 15.5M5.5 -15.5C8 -6 8 6 5.5 15.5M-10.5 -12.5C-15 -4 -15 4 -10.5 12.5M10.5 -12.5C15 -4 15 4 10.5 12.5" stroke="#fff" stroke-width="1.7" fill="none"/></g>
<g transform="translate(1506.4 879.3)"><path d="M33 0L16.5 28.58L-16.5 28.58L-33 0L-16.5 -28.58L16.5 -28.58ZM24.02 11.2L2.31 26.4L-21.71 15.2L-24.02 -11.2L-2.31 -26.4L21.71 -15.2Z" fill="#fafbfc" fill-rule="evenodd" stroke="none"/><path d="M2 -33C14 -31 24 -20 27 -2L21 -12C17 -22 10 -29 2 -33Z" fill="#f4f5f9" stroke="none"/><circle r="16.6" fill="#f2f4f8" stroke="none"/><path d="M-16.5 -2.5H16.5M-15 -9H15M-15 4.5H15M-11 11H11M0 -16.5V16.5M-5.5 -15.5C-8 -6 -8 6 -5.5 15.5M5.5 -15.5C8 -6 8 6 5.5 15.5M-10.5 -12.5C-15 -4 -15 4 -10.5 12.5M10.5 -12.5C15 -4 15 4 10.5 12.5" stroke="#fff" stroke-width="1.7" fill="none"/></g>
<g transform="translate(1650.4 879.3)"><path d="M33 0L16.5 28.58L-16.5 28.58L-33 0L-16.5 -28.58L16.5 -28.58ZM24.02 11.2L2.31 26.4L-21.71 15.2L-24.02 -11.2L-2.31 -26.4L21.71 -15.2Z" fill="#fafbfc" fill-rule="evenodd" stroke="none"/><path d="M2 -33C14 -31 24 -20 27 -2L21 -12C17 -22 10 -29 2 -33Z" fill="#f4f5f9" stroke="none"/><circle r="16.6" fill="#f2f4f8" stroke="none"/><path d="M-16.5 -2.5H16.5M-15 -9H15M-15 4.5H15M-11 11H11M0 -16.5V16.5M-5.5 -15.5C-8 -6 -8 6 -5.5 15.5M5.5 -15.5C8 -6 8 6 5.5 15.5M-10.5 -12.5C-15 -4 -15 4 -10.5 12.5M10.5 -12.5C15 -4 15 4 10.5 12.5" stroke="#fff" stroke-width="1.7" fill="none"/></g>
<g transform="translate(66.4 972.9)"><path d="M33 0L16.5 28.58L-16.5 28.58L-33 0L-16.5 -28.58L16.5 -28.58ZM24.02 11.2L2.31 26.4L-21.71 15.2L-24.02 -11.2L-2.31 -26.4L21.71 -15.2Z" fill="#fafbfc" fill-rule="evenodd" stroke="none"/><path d="M2 -33C14 -31 24 -20 27 -2L21 -12C17 -22 10 -29 2 -33Z" fill="#f4f5f9" stroke="none"/><circle r="16.6" fill="#f2f4f8" stroke="none"/><path d="M-16.5 -2.5H16.5M-15 -9H15M-15 4.5H15M-11 11H11M0 -16.5V16.5M-5.5 -15.5C-8 -6 -8 6 -5.5 15.5M5.5 -15.5C8 -6 8 6 5.5 15.5M-10.5 -12.5C-15 -4 -15 4 -10.5 12.5M10.5 -12.5C15 -4 15 4 10.5 12.5" stroke="#fff" stroke-width="1.7" fill="none"/></g>
<g transform="translate(210.4 972.9)"><path d="M33 0L16.5 28.58L-16.5 28.58L-33 0L-16.5 -28.58L16.5 -28.58ZM24.02 11.2L2.31 26.4L-21.71 15.2L-24.02 -11.2L-2.31 -26.4L21.71 -15.2Z" fill="#fafbfc" fill-rule="evenodd" stroke="none"/><path d="M2 -33C14 -31 24 -20 27 -2L21 -12C17 -22 10 -29 2 -33Z" fill="#f4f5f9" stroke="none"/><circle r="16.6" fill="#f2f4f8" stroke="none"/><path d="M-16.5 -2.5H16.5M-15 -9H15M-15 4.5H15M-11 11H11M0 -16.5V16.5M-5.5 -15.5C-8 -6 -8 6 -5.5 15.5M5.5 -15.5C8 -6 8 6 5.5 15.5M-10.5 -12.5C-15 -4 -15 4 -10.5 12.5M10.5 -12.5C15 -4 15 4 10.5 12.5" stroke="#fff" stroke-width="1.7" fill="none"/></g>
<g transform="translate(354.4 972.9)"><path d="M33 0L16.5 28.58L-16.5 28.58L-33 0L-16.5 -28.58L16.5 -28.58ZM24.02 11.2L2.31 26.4L-21.71 15.2L-24.02 -11.2L-2.31 -26.4L21.71 -15.2Z" fill="#fafbfc" fill-rule="evenodd" stroke="none"/><path d="M2 -33C14 -31 24 -20 27 -2L21 -12C17 -22 10 -29 2 -33Z" fill="#f4f5f9" stroke="none"/><circle r="16.6" fill="#f2f4f8" stroke="none"/><path d="M-16.5 -2.5H16.5M-15 -9H15M-15 4.5H15M-11 11H11M0 -16.5V16.5M-5.5 -15.5C-8 -6 -8 6 -5.5 15.5M5.5 -15.5C8 -6 8 6 5.5 15.5M-10.5 -12.5C-15 -4 -15 4 -10.5 12.5M10.5 -12.5C15 -4 15 4 10.5 12.5" stroke="#fff" stroke-width="1.7" fill="none"/></g>
<g transform="translate(498.4 972.9)"><path d="M33 0L16.5 28.58L-16.5 28.58L-33 0L-16.5 -28.58L16.5 -28.58ZM24.02 11.2L2.31 26.4L-21.71 15.2L-24.02 -11.2L-2.31 -26.4L21.71 -15.2Z" fill="#fafbfc" fill-rule="evenodd" stroke="none"/><path d="M2 -33C14 -31 24 -20 27 -2L21 -12C17 -22 10 -29 2 -33Z" fill="#f4f5f9" stroke="none"/><circle r="16.6" fill="#f2f4f8" stroke="none"/><path d="M-16.5 -2.5H16.5M-15 -9H15M-15 4.5H15M-11 11H11M0 -16.5V16.5M-5.5 -15.5C-8 -6 -8 6 -5.5 15.5M5.5 -15.5C8 -6 8 6 5.5 15.5M-10.5 -12.5C-15 -4 -15 4 -10.5 12.5M10.5 -12.5C15 -4 15 4 10.5 12.5" stroke="#fff" stroke-width="1.7" fill="none"/></g>
<g transform="translate(642.4 972.9)"><path d="M33 0L16.5 28.58L-16.5 28.58L-33 0L-16.5 -28.58L16.5 -28.58ZM24.02 11.2L2.31 26.4L-21.71 15.2L-24.02 -11.2L-2.31 -26.4L21.71 -15.2Z" fill="#fafbfc" fill-rule="evenodd" stroke="none"/><path d="M2 -33C14 -31 24 -20 27 -2L21 -12C17 -22 10 -29 2 -33Z" fill="#f4f5f9" stroke="none"/><circle r="16.6" fill="#f2f4f8" stroke="none"/><path d="M-16.5 -2.5H16.5M-15 -9H15M-15 4.5H15M-11 11H11M0 -16.5V16.5M-5.5 -15.5C-8 -6 -8 6 -5.5 15.5M5.5 -15.5C8 -6 8 6 5.5 15.5M-10.5 -12.5C-15 -4 -15 4 -10.5 12.5M10.5 -12.5C15 -4 15 4 10.5 12.5" stroke="#fff" stroke-width="1.7" fill="none"/></g>
<g transform="translate(786.4 972.9)"><path d="M33 0L16.5 28.58L-16.5 28.58L-33 0L-16.5 -28.58L16.5 -28.58ZM24.02 11.2L2.31 26.4L-21.71 15.2L-24.02 -11.2L-2.31 -26.4L21.71 -15.2Z" fill="#fafbfc" fill-rule="evenodd" stroke="none"/><path d="M2 -33C14 -31 24 -20 27 -2L21 -12C17 -22 10 -29 2 -33Z" fill="#f4f5f9" stroke="none"/><circle r="16.6" fill="#f2f4f8" stroke="none"/><path d="M-16.5 -2.5H16.5M-15 -9H15M-15 4.5H15M-11 11H11M0 -16.5V16.5M-5.5 -15.5C-8 -6 -8 6 -5.5 15.5M5.5 -15.5C8 -6 8 6 5.5 15.5M-10.5 -12.5C-15 -4 -15 4 -10.5 12.5M10.5 -12.5C15 -4 15 4 10.5 12.5" stroke="#fff" stroke-width="1.7" fill="none"/></g>
<g transform="translate(930.4 972.9)"><path d="M33 0L16.5 28.58L-16.5 28.58L-33 0L-16.5 -28.58L16.5 -28.58ZM24.02 11.2L2.31 26.4L-21.71 15.2L-24.02 -11.2L-2.31 -26.4L21.71 -15.2Z" fill="#fafbfc" fill-rule="evenodd" stroke="none"/><path d="M2 -33C14 -31 24 -20 27 -2L21 -12C17 -22 10 -29 2 -33Z" fill="#f4f5f9" stroke="none"/><circle r="16.6" fill="#f2f4f8" stroke="none"/><path d="M-16.5 -2.5H16.5M-15 -9H15M-15 4.5H15M-11 11H11M0 -16.5V16.5M-5.5 -15.5C-8 -6 -8 6 -5.5 15.5M5.5 -15.5C8 -6 8 6 5.5 15.5M-10.5 -12.5C-15 -4 -15 4 -10.5 12.5M10.5 -12.5C15 -4 15 4 10.5 12.5" stroke="#fff" stroke-width="1.7" fill="none"/></g>
<g transform="translate(1074.4 972.9)"><path d="M33 0L16.5 28.58L-16.5 28.58L-33 0L-16.5 -28.58L16.5 -28.58ZM24.02 11.2L2.31 26.4L-21.71 15.2L-24.02 -11.2L-2.31 -26.4L21.71 -15.2Z" fill="#fafbfc" fill-rule="evenodd" stroke="none"/><path d="M2 -33C14 -31 24 -20 27 -2L21 -12C17 -22 10 -29 2 -33Z" fill="#f4f5f9" stroke="none"/><circle r="16.6" fill="#f2f4f8" stroke="none"/><path d="M-16.5 -2.5H16.5M-15 -9H15M-15 4.5H15M-11 11H11M0 -16.5V16.5M-5.5 -15.5C-8 -6 -8 6 -5.5 15.5M5.5 -15.5C8 -6 8 6 5.5 15.5M-10.5 -12.5C-15 -4 -15 4 -10.5 12.5M10.5 -12.5C15 -4 15 4 10.5 12.5" stroke="#fff" stroke-width="1.7" fill="none"/></g>
<g transform="translate(1218.4 972.9)"><path d="M33 0L16.5 28.58L-16.5 28.58L-33 0L-16.5 -28.58L16.5 -28.58ZM24.02 11.2L2.31 26.4L-21.71 15.2L-24.02 -11.2L-2.31 -26.4L21.71 -15.2Z" fill="#fafbfc" fill-rule="evenodd" stroke="none"/><path d="M2 -33C14 -31 24 -20 27 -2L21 -12C17 -22 10 -29 2 -33Z" fill="#f4f5f9" stroke="none"/><circle r="16.6" fill="#f2f4f8" stroke="none"/><path d="M-16.5 -2.5H16.5M-15 -9H15M-15 4.5H15M-11 11H11M0 -16.5V16.5M-5.5 -15.5C-8 -6 -8 6 -5.5 15.5M5.5 -15.5C8 -6 8 6 5.5 15.5M-10.5 -12.5C-15 -4 -15 4 -10.5 12.5M10.5 -12.5C15 -4 15 4 10.5 12.5" stroke="#fff" stroke-width="1.7" fill="none"/></g>
<g transform="translate(1362.4 972.9)"><path d="M33 0L16.5 28.58L-16.5 28.58L-33 0L-16.5 -28.58L16.5 -28.58ZM24.02 11.2L2.31 26.4L-21.71 15.2L-24.02 -11.2L-2.31 -26.4L21.71 -15.2Z" fill="#fafbfc" fill-rule="evenodd" stroke="none"/><path d="M2 -33C14 -31 24 -20 27 -2L21 -12C17 -22 10 -29 2 -33Z" fill="#f4f5f9" stroke="none"/><circle r="16.6" fill="#f2f4f8" stroke="none"/><path d="M-16.5 -2.5H16.5M-15 -9H15M-15 4.5H15M-11 11H11M0 -16.5V16.5M-5.5 -15.5C-8 -6 -8 6 -5.5 15.5M5.5 -15.5C8 -6 8 6 5.5 15.5M-10.5 -12.5C-15 -4 -15 4 -10.5 12.5M10.5 -12.5C15 -4 15 4 10.5 12.5" stroke="#fff" stroke-width="1.7" fill="none"/></g>
<g transform="translate(1506.4 972.9)"><path d="M33 0L16.5 28.58L-16.5 28.58L-33 0L-16.5 -28.58L16.5 -28.58ZM24.02 11.2L2.31 26.4L-21.71 15.2L-24.02 -11.2L-2.31 -26.4L21.71 -15.2Z" fill="#fafbfc" fill-rule="evenodd" stroke="none"/><path d="M2 -33C14 -31 24 -20 27 -2L21 -12C17 -22 10 -29 2 -33Z" fill="#f4f5f9" stroke="none"/><circle r="16.6" fill="#f2f4f8" stroke="none"/><path d="M-16.5 -2.5H16.5M-15 -9H15M-15 4.5H15M-11 11H11M0 -16.5V16.5M-5.5 -15.5C-8 -6 -8 6 -5.5 15.5M5.5 -15.5C8 -6 8 6 5.5 15.5M-10.5 -12.5C-15 -4 -15 4 -10.5 12.5M10.5 -12.5C15 -4 15 4 10.5 12.5" stroke="#fff" stroke-width="1.7" fill="none"/></g>
<g transform="translate(1650.4 972.9)"><path d="M33 0L16.5 28.58L-16.5 28.58L-33 0L-16.5 -28.58L16.5 -28.58ZM24.02 11.2L2.31 26.4L-21.71 15.2L-24.02 -11.2L-2.31 -26.4L21.71 -15.2Z" fill="#fafbfc" fill-rule="evenodd" stroke="none"/><path d="M2 -33C14 -31 24 -20 27 -2L21 -12C17 -22 10 -29 2 -33Z" fill="#f4f5f9" stroke="none"/><circle r="16.6" fill="#f2f4f8" stroke="none"/><path d="M-16.5 -2.5H16.5M-15 -9H15M-15 4.5H15M-11 11H11M0 -16.5V16.5M-5.5 -15.5C-8 -6 -8 6 -5.5 15.5M5.5 -15.5C8 -6 8 6 5.5 15.5M-10.5 -12.5C-15 -4 -15 4 -10.5 12.5M10.5 -12.5C15 -4 15 4 10.5 12.5" stroke="#fff" stroke-width="1.7" fill="none"/></g>
<g transform="translate(66.4 1066.5)"><path d="M33 0L16.5 28.58L-16.5 28.58L-33 0L-16.5 -28.58L16.5 -28.58ZM24.02 11.2L2.31 26.4L-21.71 15.2L-24.02 -11.2L-2.31 -26.4L21.71 -15.2Z" fill="#fafbfc" fill-rule="evenodd" stroke="none"/><path d="M2 -33C14 -31 24 -20 27 -2L21 -12C17 -22 10 -29 2 -33Z" fill="#f4f5f9" stroke="none"/><circle r="16.6" fill="#f2f4f8" stroke="none"/><path d="M-16.5 -2.5H16.5M-15 -9H15M-15 4.5H15M-11 11H11M0 -16.5V16.5M-5.5 -15.5C-8 -6 -8 6 -5.5 15.5M5.5 -15.5C8 -6 8 6 5.5 15.5M-10.5 -12.5C-15 -4 -15 4 -10.5 12.5M10.5 -12.5C15 -4 15 4 10.5 12.5" stroke="#fff" stroke-width="1.7" fill="none"/></g>
<g transform="translate(210.4 1066.5)"><path d="M33 0L16.5 28.58L-16.5 28.58L-33 0L-16.5 -28.58L16.5 -28.58ZM24.02 11.2L2.31 26.4L-21.71 15.2L-24.02 -11.2L-2.31 -26.4L21.71 -15.2Z" fill="#fafbfc" fill-rule="evenodd" stroke="none"/><path d="M2 -33C14 -31 24 -20 27 -2L21 -12C17 -22 10 -29 2 -33Z" fill="#f4f5f9" stroke="none"/><circle r="16.6" fill="#f2f4f8" stroke="none"/><path d="M-16.5 -2.5H16.5M-15 -9H15M-15 4.5H15M-11 11H11M0 -16.5V16.5M-5.5 -15.5C-8 -6 -8 6 -5.5 15.5M5.5 -15.5C8 -6 8 6 5.5 15.5M-10.5 -12.5C-15 -4 -15 4 -10.5 12.5M10.5 -12.5C15 -4 15 4 10.5 12.5" stroke="#fff" stroke-width="1.7" fill="none"/></g>
<g transform="translate(354.4 1066.5)"><path d="M33 0L16.5 28.58L-16.5 28.58L-33 0L-16.5 -28.58L16.5 -28.58ZM24.02 11.2L2.31 26.4L-21.71 15.2L-24.02 -11.2L-2.31 -26.4L21.71 -15.2Z" fill="#fafbfc" fill-rule="evenodd" stroke="none"/><path d="M2 -33C14 -31 24 -20 27 -2L21 -12C17 -22 10 -29 2 -33Z" fill="#f4f5f9" stroke="none"/><circle r="16.6" fill="#f2f4f8" stroke="none"/><path d="M-16.5 -2.5H16.5M-15 -9H15M-15 4.5H15M-11 11H11M0 -16.5V16.5M-5.5 -15.5C-8 -6 -8 6 -5.5 15.5M5.5 -15.5C8 -6 8 6 5.5 15.5M-10.5 -12.5C-15 -4 -15 4 -10.5 12.5M10.5 -12.5C15 -4 15 4 10.5 12.5" stroke="#fff" stroke-width="1.7" fill="none"/></g>
<g transform="translate(498.4 1066.5)"><path d="M33 0L16.5 28.58L-16.5 28.58L-33 0L-16.5 -28.58L16.5 -28.58ZM24.02 11.2L2.31 26.4L-21.71 15.2L-24.02 -11.2L-2.31 -26.4L21.71 -15.2Z" fill="#fafbfc" fill-rule="evenodd" stroke="none"/><path d="M2 -33C14 -31 24 -20 27 -2L21 -12C17 -22 10 -29 2 -33Z" fill="#f4f5f9" stroke="none"/><circle r="16.6" fill="#f2f4f8" stroke="none"/><path d="M-16.5 -2.5H16.5M-15 -9H15M-15 4.5H15M-11 11H11M0 -16.5V16.5M-5.5 -15.5C-8 -6 -8 6 -5.5 15.5M5.5 -15.5C8 -6 8 6 5.5 15.5M-10.5 -12.5C-15 -4 -15 4 -10.5 12.5M10.5 -12.5C15 -4 15 4 10.5 12.5" stroke="#fff" stroke-width="1.7" fill="none"/></g>
<g transform="translate(642.4 1066.5)"><path d="M33 0L16.5 28.58L-16.5 28.58L-33 0L-16.5 -28.58L16.5 -28.58ZM24.02 11.2L2.31 26.4L-21.71 15.2L-24.02 -11.2L-2.31 -26.4L21.71 -15.2Z" fill="#fafbfc" fill-rule="evenodd" stroke="none"/><path d="M2 -33C14 -31 24 -20 27 -2L21 -12C17 -22 10 -29 2 -33Z" fill="#f4f5f9" stroke="none"/><circle r="16.6" fill="#f2f4f8" stroke="none"/><path d="M-16.5 -2.5H16.5M-15 -9H15M-15 4.5H15M-11 11H11M0 -16.5V16.5M-5.5 -15.5C-8 -6 -8 6 -5.5 15.5M5.5 -15.5C8 -6 8 6 5.5 15.5M-10.5 -12.5C-15 -4 -15 4 -10.5 12.5M10.5 -12.5C15 -4 15 4 10.5 12.5" stroke="#fff" stroke-width="1.7" fill="none"/></g>
<g transform="translate(786.4 1066.5)"><path d="M33 0L16.5 28.58L-16.5 28.58L-33 0L-16.5 -28.58L16.5 -28.58ZM24.02 11.2L2.31 26.4L-21.71 15.2L-24.02 -11.2L-2.31 -26.4L21.71 -15.2Z" fill="#fafbfc" fill-rule="evenodd" stroke="none"/><path d="M2 -33C14 -31 24 -20 27 -2L21 -12C17 -22 10 -29 2 -33Z" fill="#f4f5f9" stroke="none"/><circle r="16.6" fill="#f2f4f8" stroke="none"/><path d="M-16.5 -2.5H16.5M-15 -9H15M-15 4.5H15M-11 11H11M0 -16.5V16.5M-5.5 -15.5C-8 -6 -8 6 -5.5 15.5M5.5 -15.5C8 -6 8 6 5.5 15.5M-10.5 -12.5C-15 -4 -15 4 -10.5 12.5M10.5 -12.5C15 -4 15 4 10.5 12.5" stroke="#fff" stroke-width="1.7" fill="none"/></g>
<g transform="translate(930.4 1066.5)"><path d="M33 0L16.5 28.58L-16.5 28.58L-33 0L-16.5 -28.58L16.5 -28.58ZM24.02 11.2L2.31 26.4L-21.71 15.2L-24.02 -11.2L-2.31 -26.4L21.71 -15.2Z" fill="#fafbfc" fill-rule="evenodd" stroke="none"/><path d="M2 -33C14 -31 24 -20 27 -2L21 -12C17 -22 10 -29 2 -33Z" fill="#f4f5f9" stroke="none"/><circle r="16.6" fill="#f2f4f8" stroke="none"/><path d="M-16.5 -2.5H16.5M-15 -9H15M-15 4.5H15M-11 11H11M0 -16.5V16.5M-5.5 -15.5C-8 -6 -8 6 -5.5 15.5M5.5 -15.5C8 -6 8 6 5.5 15.5M-10.5 -12.5C-15 -4 -15 4 -10.5 12.5M10.5 -12.5C15 -4 15 4 10.5 12.5" stroke="#fff" stroke-width="1.7" fill="none"/></g>
<g transform="translate(1074.4 1066.5)"><path d="M33 0L16.5 28.58L-16.5 28.58L-33 0L-16.5 -28.58L16.5 -28.58ZM24.02 11.2L2.31 26.4L-21.71 15.2L-24.02 -11.2L-2.31 -26.4L21.71 -15.2Z" fill="#fafbfc" fill-rule="evenodd" stroke="none"/><path d="M2 -33C14 -31 24 -20 27 -2L21 -12C17 -22 10 -29 2 -33Z" fill="#f4f5f9" stroke="none"/><circle r="16.6" fill="#f2f4f8" stroke="none"/><path d="M-16.5 -2.5H16.5M-15 -9H15M-15 4.5H15M-11 11H11M0 -16.5V16.5M-5.5 -15.5C-8 -6 -8 6 -5.5 15.5M5.5 -15.5C8 -6 8 6 5.5 15.5M-10.5 -12.5C-15 -4 -15 4 -10.5 12.5M10.5 -12.5C15 -4 15 4 10.5 12.5" stroke="#fff" stroke-width="1.7" fill="none"/></g>
<g transform="translate(1218.4 1066.5)"><path d="M33 0L16.5 28.58L-16.5 28.58L-33 0L-16.5 -28.58L16.5 -28.58ZM24.02 11.2L2.31 26.4L-21.71 15.2L-24.02 -11.2L-2.31 -26.4L21.71 -15.2Z" fill="#fafbfc" fill-rule="evenodd" stroke="none"/><path d="M2 -33C14 -31 24 -20 27 -2L21 -12C17 -22 10 -29 2 -33Z" fill="#f4f5f9" stroke="none"/><circle r="16.6" fill="#f2f4f8" stroke="none"/><path d="M-16.5 -2.5H16.5M-15 -9H15M-15 4.5H15M-11 11H11M0 -16.5V16.5M-5.5 -15.5C-8 -6 -8 6 -5.5 15.5M5.5 -15.5C8 -6 8 6 5.5 15.5M-10.5 -12.5C-15 -4 -15 4 -10.5 12.5M10.5 -12.5C15 -4 15 4 10.5 12.5" stroke="#fff" stroke-width="1.7" fill="none"/></g>
<g transform="translate(1362.4 1066.5)"><path d="M33 0L16.5 28.58L-16.5 28.58L-33 0L-16.5 -28.58L16.5 -28.58ZM24.02 11.2L2.31 26.4L-21.71 15.2L-24.02 -11.2L-2.31 -26.4L21.71 -15.2Z" fill="#fafbfc" fill-rule="evenodd" stroke="none"/><path d="M2 -33C14 -31 24 -20 27 -2L21 -12C17 -22 10 -29 2 -33Z" fill="#f4f5f9" stroke="none"/><circle r="16.6" fill="#f2f4f8" stroke="none"/><path d="M-16.5 -2.5H16.5M-15 -9H15M-15 4.5H15M-11 11H11M0 -16.5V16.5M-5.5 -15.5C-8 -6 -8 6 -5.5 15.5M5.5 -15.5C8 -6 8 6 5.5 15.5M-10.5 -12.5C-15 -4 -15 4 -10.5 12.5M10.5 -12.5C15 -4 15 4 10.5 12.5" stroke="#fff" stroke-width="1.7" fill="none"/></g>
<g transform="translate(1506.4 1066.5)"><path d="M33 0L16.5 28.58L-16.5 28.58L-33 0L-16.5 -28.58L16.5 -28.58ZM24.02 11.2L2.31 26.4L-21.71 15.2L-24.02 -11.2L-2.31 -26.4L21.71 -15.2Z" fill="#fafbfc" fill-rule="evenodd" stroke="none"/><path d="M2 -33C14 -31 24 -20 27 -2L21 -12C17 -22 10 -29 2 -33Z" fill="#f4f5f9" stroke="none"/><circle r="16.6" fill="#f2f4f8" stroke="none"/><path d="M-16.5 -2.5H16.5M-15 -9H15M-15 4.5H15M-11 11H11M0 -16.5V16.5M-5.5 -15.5C-8 -6 -8 6 -5.5 15.5M5.5 -15.5C8 -6 8 6 5.5 15.5M-10.5 -12.5C-15 -4 -15 4 -10.5 12.5M10.5 -12.5C15 -4 15 4 10.5 12.5" stroke="#fff" stroke-width="1.7" fill="none"/></g>
<g transform="translate(1650.4 1066.5)"><path d="M33 0L16.5 28.58L-16.5 28.58L-33 0L-16.5 -28.58L16.5 -28.58ZM24.02 11.2L2.31 26.4L-21.71 15.2L-24.02 -11.2L-2.31 -26.4L21.71 -15.2Z" fill="#fafbfc" fill-rule="evenodd" stroke="none"/><path d="M2 -33C14 -31 24 -20 27 -2L21 -12C17 -22 10 -29 2 -33Z" fill="#f4f5f9" stroke="none"/><circle r="16.6" fill="#f2f4f8" stroke="none"/><path d="M-16.5 -2.5H16.5M-15 -9H15M-15 4.5H15M-11 11H11M0 -16.5V16.5M-5.5 -15.5C-8 -6 -8 6 -5.5 15.5M5.5 -15.5C8 -6 8 6 5.5 15.5M-10.5 -12.5C-15 -4 -15 4 -10.5 12.5M10.5 -12.5C15 -4 15 4 10.5 12.5" stroke="#fff" stroke-width="1.7" fill="none"/></g>
<g transform="translate(66.4 1160.1)"><path d="M33 0L16.5 28.58L-16.5 28.58L-33 0L-16.5 -28.58L16.5 -28.58ZM24.02 11.2L2.31 26.4L-21.71 15.2L-24.02 -11.2L-2.31 -26.4L21.71 -15.2Z" fill="#fafbfc" fill-rule="evenodd" stroke="none"/><path d="M2 -33C14 -31 24 -20 27 -2L21 -12C17 -22 10 -29 2 -33Z" fill="#f4f5f9" stroke="none"/><circle r="16.6" fill="#f2f4f8" stroke="none"/><path d="M-16.5 -2.5H16.5M-15 -9H15M-15 4.5H15M-11 11H11M0 -16.5V16.5M-5.5 -15.5C-8 -6 -8 6 -5.5 15.5M5.5 -15.5C8 -6 8 6 5.5 15.5M-10.5 -12.5C-15 -4 -15 4 -10.5 12.5M10.5 -12.5C15 -4 15 4 10.5 12.5" stroke="#fff" stroke-width="1.7" fill="none"/></g>
<g transform="translate(210.4 1160.1)"><path d="M33 0L16.5 28.58L-16.5 28.58L-33 0L-16.5 -28.58L16.5 -28.58ZM24.02 11.2L2.31 26.4L-21.71 15.2L-24.02 -11.2L-2.31 -26.4L21.71 -15.2Z" fill="#fafbfc" fill-rule="evenodd" stroke="none"/><path d="M2 -33C14 -31 24 -20 27 -2L21 -12C17 -22 10 -29 2 -33Z" fill="#f4f5f9" stroke="none"/><circle r="16.6" fill="#f2f4f8" stroke="none"/><path d="M-16.5 -2.5H16.5M-15 -9H15M-15 4.5H15M-11 11H11M0 -16.5V16.5M-5.5 -15.5C-8 -6 -8 6 -5.5 15.5M5.5 -15.5C8 -6 8 6 5.5 15.5M-10.5 -12.5C-15 -4 -15 4 -10.5 12.5M10.5 -12.5C15 -4 15 4 10.5 12.5" stroke="#fff" stroke-width="1.7" fill="none"/></g>
<g transform="translate(354.4 1160.1)"><path d="M33 0L16.5 28.58L-16.5 28.58L-33 0L-16.5 -28.58L16.5 -28.58ZM24.02 11.2L2.31 26.4L-21.71 15.2L-24.02 -11.2L-2.31 -26.4L21.71 -15.2Z" fill="#fafbfc" fill-rule="evenodd" stroke="none"/><path d="M2 -33C14 -31 24 -20 27 -2L21 -12C17 -22 10 -29 2 -33Z" fill="#f4f5f9" stroke="none"/><circle r="16.6" fill="#f2f4f8" stroke="none"/><path d="M-16.5 -2.5H16.5M-15 -9H15M-15 4.5H15M-11 11H11M0 -16.5V16.5M-5.5 -15.5C-8 -6 -8 6 -5.5 15.5M5.5 -15.5C8 -6 8 6 5.5 15.5M-10.5 -12.5C-15 -4 -15 4 -10.5 12.5M10.5 -12.5C15 -4 15 4 10.5 12.5" stroke="#fff" stroke-width="1.7" fill="none"/></g>
<g transform="translate(498.4 1160.1)"><path d="M33 0L16.5 28.58L-16.5 28.58L-33 0L-16.5 -28.58L16.5 -28.58ZM24.02 11.2L2.31 26.4L-21.71 15.2L-24.02 -11.2L-2.31 -26.4L21.71 -15.2Z" fill="#fafbfc" fill-rule="evenodd" stroke="none"/><path d="M2 -33C14 -31 24 -20 27 -2L21 -12C17 -22 10 -29 2 -33Z" fill="#f4f5f9" stroke="none"/><circle r="16.6" fill="#f2f4f8" stroke="none"/><path d="M-16.5 -2.5H16.5M-15 -9H15M-15 4.5H15M-11 11H11M0 -16.5V16.5M-5.5 -15.5C-8 -6 -8 6 -5.5 15.5M5.5 -15.5C8 -6 8 6 5.5 15.5M-10.5 -12.5C-15 -4 -15 4 -10.5 12.5M10.5 -12.5C15 -4 15 4 10.5 12.5" stroke="#fff" stroke-width="1.7" fill="none"/></g>
<g transform="translate(642.4 1160.1)"><path d="M33 0L16.5 28.58L-16.5 28.58L-33 0L-16.5 -28.58L16.5 -28.58ZM24.02 11.2L2.31 26.4L-21.71 15.2L-24.02 -11.2L-2.31 -26.4L21.71 -15.2Z" fill="#fafbfc" fill-rule="evenodd" stroke="none"/><path d="M2 -33C14 -31 24 -20 27 -2L21 -12C17 -22 10 -29 2 -33Z" fill="#f4f5f9" stroke="none"/><circle r="16.6" fill="#f2f4f8" stroke="none"/><path d="M-16.5 -2.5H16.5M-15 -9H15M-15 4.5H15M-11 11H11M0 -16.5V16.5M-5.5 -15.5C-8 -6 -8 6 -5.5 15.5M5.5 -15.5C8 -6 8 6 5.5 15.5M-10.5 -12.5C-15 -4 -15 4 -10.5 12.5M10.5 -12.5C15 -4 15 4 10.5 12.5" stroke="#fff" stroke-width="1.7" fill="none"/></g>
<g transform="translate(786.4 1160.1)"><path d="M33 0L16.5 28.58L-16.5 28.58L-33 0L-16.5 -28.58L16.5 -28.58ZM24.02 11.2L2.31 26.4L-21.71 15.2L-24.02 -11.2L-2.31 -26.4L21.71 -15.2Z" fill="#fafbfc" fill-rule="evenodd" stroke="none"/><path d="M2 -33C14 -31 24 -20 27 -2L21 -12C17 -22 10 -29 2 -33Z" fill="#f4f5f9" stroke="none"/><circle r="16.6" fill="#f2f4f8" stroke="none"/><path d="M-16.5 -2.5H16.5M-15 -9H15M-15 4.5H15M-11 11H11M0 -16.5V16.5M-5.5 -15.5C-8 -6 -8 6 -5.5 15.5M5.5 -15.5C8 -6 8 6 5.5 15.5M-10.5 -12.5C-15 -4 -15 4 -10.5 12.5M10.5 -12.5C15 -4 15 4 10.5 12.5" stroke="#fff" stroke-width="1.7" fill="none"/></g>
<g transform="translate(930.4 1160.1)"><path d="M33 0L16.5 28.58L-16.5 28.58L-33 0L-16.5 -28.58L16.5 -28.58ZM24.02 11.2L2.31 26.4L-21.71 15.2L-24.02 -11.2L-2.31 -26.4L21.71 -15.2Z" fill="#fafbfc" fill-rule="evenodd" stroke="none"/><path d="M2 -33C14 -31 24 -20 27 -2L21 -12C17 -22 10 -29 2 -33Z" fill="#f4f5f9" stroke="none"/><circle r="16.6" fill="#f2f4f8" stroke="none"/><path d="M-16.5 -2.5H16.5M-15 -9H15M-15 4.5H15M-11 11H11M0 -16.5V16.5M-5.5 -15.5C-8 -6 -8 6 -5.5 15.5M5.5 -15.5C8 -6 8 6 5.5 15.5M-10.5 -12.5C-15 -4 -15 4 -10.5 12.5M10.5 -12.5C15 -4 15 4 10.5 12.5" stroke="#fff" stroke-width="1.7" fill="none"/></g>
<g transform="translate(1074.4 1160.1)"><path d="M33 0L16.5 28.58L-16.5 28.58L-33 0L-16.5 -28.58L16.5 -28.58ZM24.02 11.2L2.31 26.4L-21.71 15.2L-24.02 -11.2L-2.31 -26.4L21.71 -15.2Z" fill="#fafbfc" fill-rule="evenodd" stroke="none"/><path d="M2 -33C14 -31 24 -20 27 -2L21 -12C17 -22 10 -29 2 -33Z" fill="#f4f5f9" stroke="none"/><circle r="16.6" fill="#f2f4f8" stroke="none"/><path d="M-16.5 -2.5H16.5M-15 -9H15M-15 4.5H15M-11 11H11M0 -16.5V16.5M-5.5 -15.5C-8 -6 -8 6 -5.5 15.5M5.5 -15.5C8 -6 8 6 5.5 15.5M-10.5 -12.5C-15 -4 -15 4 -10.5 12.5M10.5 -12.5C15 -4 15 4 10.5 12.5" stroke="#fff" stroke-width="1.7" fill="none"/></g>
<g transform="translate(1218.4 1160.1)"><path d="M33 0L16.5 28.58L-16.5 28.58L-33 0L-16.5 -28.58L16.5 -28.58ZM24.02 11.2L2.31 26.4L-21.71 15.2L-24.02 -11.2L-2.31 -26.4L21.71 -15.2Z" fill="#fafbfc" fill-rule="evenodd" stroke="none"/><path d="M2 -33C14 -31 24 -20 27 -2L21 -12C17 -22 10 -29 2 -33Z" fill="#f4f5f9" stroke="none"/><circle r="16.6" fill="#f2f4f8" stroke="none"/><path d="M-16.5 -2.5H16.5M-15 -9H15M-15 4.5H15M-11 11H11M0 -16.5V16.5M-5.5 -15.5C-8 -6 -8 6 -5.5 15.5M5.5 -15.5C8 -6 8 6 5.5 15.5M-10.5 -12.5C-15 -4 -15 4 -10.5 12.5M10.5 -12.5C15 -4 15 4 10.5 12.5" stroke="#fff" stroke-width="1.7" fill="none"/></g>
<g transform="translate(1362.4 1160.1)"><path d="M33 0L16.5 28.58L-16.5 28.58L-33 0L-16.5 -28.58L16.5 -28.58ZM24.02 11.2L2.31 26.4L-21.71 15.2L-24.02 -11.2L-2.31 -26.4L21.71 -15.2Z" fill="#fafbfc" fill-rule="evenodd" stroke="none"/><path d="M2 -33C14 -31 24 -20 27 -2L21 -12C17 -22 10 -29 2 -33Z" fill="#f4f5f9" stroke="none"/><circle r="16.6" fill="#f2f4f8" stroke="none"/><path d="M-16.5 -2.5H16.5M-15 -9H15M-15 4.5H15M-11 11H11M0 -16.5V16.5M-5.5 -15.5C-8 -6 -8 6 -5.5 15.5M5.5 -15.5C8 -6 8 6 5.5 15.5M-10.5 -12.5C-15 -4 -15 4 -10.5 12.5M10.5 -12.5C15 -4 15 4 10.5 12.5" stroke="#fff" stroke-width="1.7" fill="none"/></g>
<g transform="translate(1506.4 1160.1)"><path d="M33 0L16.5 28.58L-16.5 28.58L-33 0L-16.5 -28.58L16.5 -28.58ZM24.02 11.2L2.31 26.4L-21.71 15.2L-24.02 -11.2L-2.31 -26.4L21.71 -15.2Z" fill="#fafbfc" fill-rule="evenodd" stroke="none"/><path d="M2 -33C14 -31 24 -20 27 -2L21 -12C17 -22 10 -29 2 -33Z" fill="#f4f5f9" stroke="none"/><circle r="16.6" fill="#f2f4f8" stroke="none"/><path d="M-16.5 -2.5H16.5M-15 -9H15M-15 4.5H15M-11 11H11M0 -16.5V16.5M-5.5 -15.5C-8 -6 -8 6 -5.5 15.5M5.5 -15.5C8 -6 8 6 5.5 15.5M-10.5 -12.5C-15 -4 -15 4 -10.5 12.5M10.5 -12.5C15 -4 15 4 10.5 12.5" stroke="#fff" stroke-width="1.7" fill="none"/></g>
<g transform="translate(1650.4 1160.1)"><path d="M33 0L16.5 28.58L-16.5 28.58L-33 0L-16.5 -28.58L16.5 -28.58ZM24.02 11.2L2.31 26.4L-21.71 15.2L-24.02 -11.2L-2.31 -26.4L21.71 -15.2Z" fill="#fafbfc" fill-rule="evenodd" stroke="none"/><path d="M2 -33C14 -31 24 -20 27 -2L21 -12C17 -22 10 -29 2 -33Z" fill="#f4f5f9" stroke="none"/><circle r="16.6" fill="#f2f4f8" stroke="none"/><path d="M-16.5 -2.5H16.5M-15 -9H15M-15 4.5H15M-11 11H11M0 -16.5V16.5M-5.5 -15.5C-8 -6 -8 6 -5.5 15.5M5.5 -15.5C8 -6 8 6 5.5 15.5M-10.5 -12.5C-15 -4 -15 4 -10.5 12.5M10.5 -12.5C15 -4 15 4 10.5 12.5" stroke="#fff" stroke-width="1.7" fill="none"/></g>
</g>
<g class="dr">
<path d="M142.3 148.1V142C142.3 138 146 136.6 150.3 136.6C154.6 136.6 158.1 138 158.1 142V148.1" stroke-width="1.9"/>
<rect x="134.7" y="148.1" width="30.3" height="5.6" stroke-width="1.9"/>
<rect x="141" y="160.2" width="17.6" height="4.3" stroke-width="1.9"/>
<path d="M133.5 172.5V164.5H165V172.5" stroke-width="1.9"/>
<path d="M98.2 162C101 161.25 108.92 158.85 115 157.5C121.08 156.15 128.87 154.62 134.7 153.9C140.53 153.18 145.17 152.98 150 153.2C154.83 153.42 158.7 154.07 163.7 155.2C168.7 156.33 173.7 158.23 180 160C186.3 161.77 194 163.88 201.5 165.8C209 167.72 216.62 170.03 225 171.5C233.38 172.97 242.63 174.05 251.8 174.6C260.97 175.15 271.6 175.02 280 174.8C288.4 174.58 293.03 174.52 302.2 173.3C311.37 172.08 324.93 169.38 335 167.5C345.07 165.62 358 162.92 362.6 162" stroke-width="1.9"/>
<path d="M362.6 162C365.5 161.6 366.6 164.5 365 166" stroke-width="1.9"/>
<path d="M364.8 166.5C359.55 167.55 344.35 170.6 333.3 172.8C322.25 175 310.08 177.63 298.5 179.7C286.92 181.77 272.48 183.45 263.8 185.2C255.12 186.95 251.62 188.33 246.4 190.2C241.18 192.07 234.82 195.37 232.5 196.4" stroke-width="1.9"/>
<path d="M98.2 162C98.42 162.42 96.7 164.5 99.5 164.5C102.3 164.5 109.33 162.83 115 162C120.67 161.17 127.67 160.03 133.5 159.5C139.33 158.97 144.97 158.68 150 158.8C155.03 158.92 159.03 159.17 163.7 160.2C168.37 161.23 173.38 163.23 178 165C182.62 166.77 186.9 168.47 191.4 170.8C195.9 173.13 200.4 175.63 205 179C209.6 182.37 216.67 189 219 191" stroke-width="1.9"/>
<path d="M214.5 193.5L223.5 180.2L233.8 182.6L234.2 190.5L226.5 203.5" stroke-width="1.9"/>
<circle cx="227.9" cy="186.7" r="2.6" stroke-width="1.3"/>
<circle cx="150.3" cy="277" r="104.8" stroke-width="2.1"/>
<circle cx="150.3" cy="277" r="100.6" stroke-width="2.1"/>
<circle cx="150.3" cy="277" r="96.7" stroke-width="2.1"/>
<circle cx="150.3" cy="277" r="61.3" stroke-width="1.9"/>
<path d="M150.3 181L150.3 196.5M156.33 181.19L155.83 189.17M162.33 181.76L161.33 189.69M168.29 182.7L166.79 190.56M174.17 184.02L172.18 191.76M179.97 185.7L175.18 200.44M185.64 187.74L182.69 195.18M191.17 190.14L187.77 197.38M196.55 192.87L192.69 199.89M201.74 195.94L197.45 202.7M206.73 199.33L197.62 211.87M211.49 203.03L206.39 209.19M216.02 207.02L210.54 212.85M220.28 211.28L214.45 216.76M224.27 215.81L218.11 220.91M227.97 220.57L215.43 229.68M231.36 225.56L224.6 229.85M234.43 230.75L227.41 234.61M237.16 236.13L229.92 239.53M239.56 241.66L232.12 244.61M241.6 247.33L226.86 252.12M243.28 253.13L235.54 255.12M244.6 259.01L236.74 260.51M245.54 264.97L237.61 265.97M246.11 270.97L238.13 271.47M246.3 277L230.8 277M246.11 283.03L238.13 282.53M245.54 289.03L237.61 288.03M244.6 294.99L236.74 293.49M243.28 300.87L235.54 298.88M241.6 306.67L226.86 301.88M239.56 312.34L232.12 309.39M237.16 317.87L229.92 314.47M234.43 323.25L227.41 319.39M231.36 328.44L224.6 324.15M227.97 333.43L215.43 324.32M224.27 338.19L218.11 333.09M220.28 342.72L214.45 337.24M216.02 346.98L210.54 341.15M211.49 350.97L206.39 344.81M206.73 354.67L197.62 342.13M201.74 358.06L197.45 351.3M196.55 361.13L192.69 354.11M191.17 363.86L187.77 356.62M185.64 366.26L182.69 358.82M179.97 368.3L175.18 353.56M174.17 369.98L172.18 362.24M168.29 371.3L166.79 363.44M162.33 372.24L161.33 364.31M156.33 372.81L155.83 364.83M150.3 373L150.3 357.5M144.27 372.81L144.77 364.83M138.27 372.24L139.27 364.31M132.31 371.3L133.81 363.44M126.43 369.98L128.42 362.24M120.63 368.3L125.42 353.56M114.96 366.26L117.91 358.82M109.43 363.86L112.83 356.62M104.05 361.13L107.91 354.11M98.86 358.06L103.15 351.3M93.87 354.67L102.98 342.13M89.11 350.97L94.21 344.81M84.58 346.98L90.06 341.15M80.32 342.72L86.15 337.24M76.33 338.19L82.49 333.09M72.63 333.43L85.17 324.32M69.24 328.44L76 324.15M66.17 323.25L73.19 319.39M63.44 317.87L70.68 314.47M61.04 312.34L68.48 309.39M59 306.67L73.74 301.88M57.32 300.87L65.06 298.88M56 294.99L63.86 293.49M55.06 289.03L62.99 288.03M54.49 283.03L62.47 282.53M54.3 277L69.8 277M54.49 270.97L62.47 271.47M55.06 264.97L62.99 265.97M56 259.01L63.86 260.51M57.32 253.13L65.06 255.12M59 247.33L73.74 252.12M61.04 241.66L68.48 244.61M63.44 236.13L70.68 239.53M66.17 230.75L73.19 234.61M69.24 225.56L76 229.85M72.63 220.57L85.17 229.68M76.33 215.81L82.49 220.91M80.32 211.28L86.15 216.76M84.58 207.02L90.06 212.85M89.11 203.03L94.21 209.19M93.87 199.33L102.98 211.87M98.86 195.94L103.15 202.7M104.05 192.87L107.91 199.89M109.43 190.14L112.83 197.38M114.96 187.74L117.91 195.18M120.63 185.7L125.42 200.44M126.43 184.02L128.42 191.76M132.31 182.7L133.81 190.56M138.27 181.76L139.27 189.69M144.27 181.19L144.77 189.17" stroke-width="2.3"/>
<path d="M54.3 270H68.3L65.3 280" stroke-width="2.2"/>
<path d="M246.3 270H232.3L235.3 280" stroke-width="2.2"/>
<line x1="150.3" y1="277" x2="150.3" y2="183" stroke-width="2.2"/>
<line x1="150.3" y1="277" x2="150.3" y2="227" stroke-width="3.6"/>
<circle cx="150.3" cy="277" r="6.8" stroke-width="1.9" fill="#fff"/>
<circle cx="184.6" cy="300" r="19.2" stroke-width="1.9"/>
<circle cx="184.6" cy="300" r="16.7" stroke-width="1.9"/>
<circle cx="184.6" cy="300" r="4" stroke-width="1.5"/>
<line x1="184.6" y1="296" x2="184.6" y2="284" stroke-width="2.6"/>
<line x1="160.1" y1="300" x2="204.6" y2="300" stroke-width="1.0" shape-rendering="crispEdges"/>
<line x1="184.6" y1="277.5" x2="184.6" y2="327" stroke-width="1.0" shape-rendering="crispEdges"/>
<path d="M133.5 381V388.4M165 379V388.4" stroke-width="1.9"/>
<path d="M174 388.4H115.8V450.1H362C370 450.1 376.5 456 376.5 464V544C376.5 553 370 558.8 362 558.8H177.5" stroke-width="2.0"/>
<circle cx="176.3" cy="419.4" r="18.9" stroke-width="1.9"/>
<line x1="134" y1="419.4" x2="219" y2="419.4" stroke-width="1.0" shape-rendering="crispEdges"/>
<line x1="176.3" y1="384" x2="176.3" y2="461" stroke-width="1.0" shape-rendering="crispEdges"/>
<rect x="133.5" y="450.1" width="31.5" height="6.9" stroke-width="1.9"/>
<path d="M141 457V499.2M158.1 457V499.2" stroke-width="1.9"/>
<path d="M139.8 517.6V499.2H159.2V517.6" stroke-width="1.9"/>
<rect x="131" y="517.6" width="37.2" height="38.4" stroke-width="1.9"/>
<line x1="131" y1="537" x2="168.2" y2="537" stroke-width="1.9"/>
<path d="M183.8 555.5H115.8V618H183.8" stroke-width="2.0"/>
<path d="M177.5 563V609" stroke-width="1.5" stroke-dasharray="30 6"/>
<line x1="131" y1="556" x2="131" y2="665" stroke-width="1.0" shape-rendering="crispEdges"/>
<line x1="168.2" y1="556" x2="168.2" y2="665" stroke-width="1.0" shape-rendering="crispEdges"/>
<path d="M209.8 618V586C209.8 579 214 575 221 575H362C380 575 392 566 392 549V514C392 506 397 503.5 402 504.5C406 505 409 506.5 411.5 508.5" stroke-width="2.0"/>
<path d="M177.5 614.2L383 648.6C395 650.5 408 650 418 644.5L520.3 588.4" stroke-width="2.0"/>
<path d="M254.2 297.8C255.3 293.6 258.5 291.5 263 289.2L348 242.8" stroke-width="2.0"/>
<path d="M366.2 422.5C369 429.5 364 434.5 355 434.5H217.5C213 434.5 210.3 432 210.3 427.5V395C210.3 391 212 388 216 385.8L311 336C314 334.4 317.5 335 319.8 337.6" stroke-width="2.0"/>
<path d="M453.71 269.85L567.71 477.05A75 75 0 0 1 436.29 549.35L322.29 342.15A75 75 0 0 1 453.71 269.85Z" stroke-width="2.0"/>
<path d="M434.44 280.45L548.44 487.65A53 53 0 0 1 455.56 538.75L341.56 331.55A53 53 0 0 1 434.44 280.45Z" stroke-width="2.0"/>
<line x1="21" y1="277" x2="279" y2="277" stroke-width="1.0" stroke-dasharray="22 3 3 3" shape-rendering="crispEdges"/>
<line x1="150.3" y1="137" x2="150.3" y2="668" stroke-width="1.0" stroke-dasharray="22 3 3 3" shape-rendering="crispEdges"/>
<line x1="44.6" y1="82" x2="44.6" y2="277" stroke-width="1.0" shape-rendering="crispEdges"/>
<line x1="577.7" y1="82" x2="577.7" y2="512" stroke-width="1.0" shape-rendering="crispEdges"/>
<line x1="44.6" y1="90.2" x2="577.7" y2="90.2" stroke-width="1.0" shape-rendering="crispEdges"/>
<polygon points="44.6,90.2 61.6,87.9 61.6,92.5" fill="#000" stroke="none"/>
<polygon points="577.7,90.2 560.7,92.5 560.7,87.9" fill="#000" stroke="none"/>
<text transform="translate(308 78.6) skewX(-15) scale(0.650 1)" font-size="26" text-anchor="middle" stroke="#000" stroke-width="0.08">L</text>
<line x1="150.3" y1="136" x2="628" y2="136" stroke-width="1.0" shape-rendering="crispEdges"/>
<line x1="393" y1="648.2" x2="628" y2="648.2" stroke-width="1.0" shape-rendering="crispEdges"/>
<line x1="620.5" y1="136" x2="620.5" y2="648.2" stroke-width="1.0" shape-rendering="crispEdges"/>
<polygon points="620.5,136 622.8,153 618.2,153" fill="#000" stroke="none"/>
<polygon points="620.5,648.2 618.2,631.2 622.8,631.2" fill="#000" stroke="none"/>
<text transform="translate(610 392) rotate(-90) skewX(-15) scale(0.650 1)" font-size="26" text-anchor="middle" stroke="#000" stroke-width="0.08">H</text>
<line x1="151" y1="489.2" x2="376.5" y2="489.2" stroke-width="1.0" shape-rendering="crispEdges"/>
<polygon points="151,489.2 168,486.9 168,491.5" fill="#000" stroke="none"/>
<polygon points="376.5,489.2 359.5,491.5 359.5,486.9" fill="#000" stroke="none"/>
<text transform="translate(259.5 479.8) skewX(-15) scale(0.650 1)" font-size="26" text-anchor="middle" stroke="#000" stroke-width="0.08">A</text>
<line x1="105" y1="658" x2="131" y2="658" stroke-width="1.0" shape-rendering="crispEdges"/>
<line x1="168.2" y1="658" x2="194" y2="658" stroke-width="1.0" shape-rendering="crispEdges"/>
<polygon points="131,658 114,660.3 114,655.7" fill="#000" stroke="none"/>
<polygon points="168.2,658 185.2,655.7 185.2,660.3" fill="#000" stroke="none"/>
<text transform="translate(148.5 646.2) skewX(-15) scale(0.650 1)" font-size="26" text-anchor="middle" stroke="#000" stroke-width="0.08">D</text>
<path d="M711 292.5H660.5V353.3H802" stroke-width="2.0"/>
<path d="M679.7 292.5V284.8C690 288 701 288 711 284.8V292.5" stroke-width="1.5"/>
<path d="M711 290.8C735 287 757 280 777.5 255.2" stroke-width="2.0"/>
<path d="M777.5 255.2C786 258 793 263 798 271C803 295 800 330 802 353.3" stroke-width="1.2"/>
<line x1="757" y1="295.8" x2="796" y2="272.3" stroke-width="2.0"/>
<path d="M757 296.5C756 298 756.2 300 756.2 303V328C756.2 335 760 338.2 766 338.2H800.5" stroke-width="2.0"/>
<circle cx="722.2" cy="323.2" r="18.6" stroke-width="1.9"/>
<line x1="688" y1="323.2" x2="756" y2="323.2" stroke-width="1.0" shape-rendering="crispEdges"/>
<line x1="722.2" y1="289" x2="722.2" y2="358" stroke-width="1.0" shape-rendering="crispEdges"/>
<line x1="695.5" y1="271" x2="695.5" y2="534" stroke-width="1.0" stroke-dasharray="22 3 3 3" shape-rendering="crispEdges"/>
<rect x="679.7" y="353.3" width="31.3" height="6.7" stroke-width="1.9"/>
<path d="M685.8 360V420.4M705 360V420.4" stroke-width="1.9"/>
<path d="M688 402V420.4M703 402V420.4" stroke-width="1.2"/>
<line x1="677.5" y1="394.4" x2="677.5" y2="421.8" stroke-width="1.0" shape-rendering="crispEdges"/>
<line x1="714.5" y1="394.4" x2="714.5" y2="421.8" stroke-width="1.0" shape-rendering="crispEdges"/>
<line x1="651" y1="402" x2="677.5" y2="402" stroke-width="1.0" shape-rendering="crispEdges"/>
<line x1="714.5" y1="402" x2="779" y2="402" stroke-width="1.0" shape-rendering="crispEdges"/>
<polygon points="677.5,402 664.5,404.3 664.5,399.7" fill="#000" stroke="none"/>
<polygon points="714.5,402 727.5,399.7 727.5,404.3" fill="#000" stroke="none"/>
<text transform="translate(751.5 391.6) skewX(-15) scale(0.694 1)" font-size="26" text-anchor="middle" stroke="#000" stroke-width="0.08">ø10</text>
<rect x="676.2" y="421" width="38.3" height="15" stroke-width="1.9"/>
<path d="M678 437.5C690 441 702 441 713 437.5M678 440.5C690 444 702 444 713 440.5M680 443.5L711 437" stroke-width="1.4"/>
<path d="M676.2 458.8V445H714.5V458.8" stroke-width="1.9"/>
<path d="M729.6 458.8H660.5V521H729.6V517.7H735L803 530" stroke-width="2.0"/>
<path d="M722.7 462H807.7" stroke-width="2.0"/>
<path d="M807.7 462C805 475 801 490 802.5 505C803.5 515 804 522 803 530" stroke-width="1.1"/>
<path d="M756.2 522V486C756.2 481 759 478 765 478H806" stroke-width="2.0"/>
<rect x="990.8" y="138.8" width="32" height="11.4" stroke-width="1.9"/>
<path d="M994.6 150.2V239.6M1018.5 150.2V239.6" stroke-width="1.9"/>
<path d="M990.8 262.5V239.6H1022.8V262.5" stroke-width="1.9"/>
<circle cx="1007.3" cy="365.9" r="104.8" stroke-width="2.1"/>
<circle cx="1007.3" cy="365.9" r="100.6" stroke-width="2.1"/>
<circle cx="1007.3" cy="365.9" r="96.7" stroke-width="2.1"/>
<circle cx="1007.3" cy="365.9" r="61.3" stroke-width="1.9"/>
<path d="M1007.3 269.9L1007.3 285.4M1013.33 270.09L1012.83 278.07M1019.33 270.66L1018.33 278.59M1025.29 271.6L1023.79 279.46M1031.17 272.92L1029.18 280.66M1036.97 274.6L1032.18 289.34M1042.64 276.64L1039.69 284.08M1048.17 279.04L1044.77 286.28M1053.55 281.77L1049.69 288.79M1058.74 284.84L1054.45 291.6M1063.73 288.23L1054.62 300.77M1068.49 291.93L1063.39 298.09M1073.02 295.92L1067.54 301.75M1077.28 300.18L1071.45 305.66M1081.27 304.71L1075.11 309.81M1084.97 309.47L1072.43 318.58M1088.36 314.46L1081.6 318.75M1091.43 319.65L1084.41 323.51M1094.16 325.03L1086.92 328.43M1096.56 330.56L1089.12 333.51M1098.6 336.23L1083.86 341.02M1100.28 342.03L1092.54 344.02M1101.6 347.91L1093.74 349.41M1102.54 353.87L1094.61 354.87M1103.11 359.87L1095.13 360.37M1103.3 365.9L1087.8 365.9M1103.11 371.93L1095.13 371.43M1102.54 377.93L1094.61 376.93M1101.6 383.89L1093.74 382.39M1100.28 389.77L1092.54 387.78M1098.6 395.57L1083.86 390.78M1096.56 401.24L1089.12 398.29M1094.16 406.77L1086.92 403.37M1091.43 412.15L1084.41 408.29M1088.36 417.34L1081.6 413.05M1084.97 422.33L1072.43 413.22M1081.27 427.09L1075.11 421.99M1077.28 431.62L1071.45 426.14M1073.02 435.88L1067.54 430.05M1068.49 439.87L1063.39 433.71M1063.73 443.57L1054.62 431.03M1058.74 446.96L1054.45 440.2M1053.55 450.03L1049.69 443.01M1048.17 452.76L1044.77 445.52M1042.64 455.16L1039.69 447.72M1036.97 457.2L1032.18 442.46M1031.17 458.88L1029.18 451.14M1025.29 460.2L1023.79 452.34M1019.33 461.14L1018.33 453.21M1013.33 461.71L1012.83 453.73M1007.3 461.9L1007.3 446.4M1001.27 461.71L1001.77 453.73M995.27 461.14L996.27 453.21M989.31 460.2L990.81 452.34M983.43 458.88L985.42 451.14M977.63 457.2L982.42 442.46M971.96 455.16L974.91 447.72M966.43 452.76L969.83 445.52M961.05 450.03L964.91 443.01M955.86 446.96L960.15 440.2M950.87 443.57L959.98 431.03M946.11 439.87L951.21 433.71M941.58 435.88L947.06 430.05M937.32 431.62L943.15 426.14M933.33 427.09L939.49 421.99M929.63 422.33L942.17 413.22M926.24 417.34L933 413.05M923.17 412.15L930.19 408.29M920.44 406.77L927.68 403.37M918.04 401.24L925.48 398.29M916 395.57L930.74 390.78M914.32 389.77L922.06 387.78M913 383.89L920.86 382.39M912.06 377.93L919.99 376.93M911.49 371.93L919.47 371.43M911.3 365.9L926.8 365.9M911.49 359.87L919.47 360.37M912.06 353.87L919.99 354.87M913 347.91L920.86 349.41M914.32 342.03L922.06 344.02M916 336.23L930.74 341.02M918.04 330.56L925.48 333.51M920.44 325.03L927.68 328.43M923.17 319.65L930.19 323.51M926.24 314.46L933 318.75M929.63 309.47L942.17 318.58M933.33 304.71L939.49 309.81M937.32 300.18L943.15 305.66M941.58 295.92L947.06 301.75M946.11 291.93L951.21 298.09M950.87 288.23L959.98 300.77M955.86 284.84L960.15 291.6M961.05 281.77L964.91 288.79M966.43 279.04L969.83 286.28M971.96 276.64L974.91 284.08M977.63 274.6L982.42 289.34M983.43 272.92L985.42 280.66M989.31 271.6L990.81 279.46M995.27 270.66L996.27 278.59M1001.27 270.09L1001.77 278.07" stroke-width="2.3"/>
<path d="M911.3 358.9H925.3L922.3 368.9" stroke-width="2.2"/>
<path d="M1103.3 358.9H1089.3L1092.3 368.9" stroke-width="2.2"/>
<line x1="1007.3" y1="365.9" x2="930.11" y2="312.25" stroke-width="2.2"/>
<line x1="1007.3" y1="365.9" x2="966.24" y2="337.36" stroke-width="3.6"/>
<circle cx="1007.3" cy="365.9" r="6.8" stroke-width="1.9" fill="#fff"/>
<circle cx="1041.4" cy="389.8" r="19.2" stroke-width="1.9"/>
<circle cx="1041.4" cy="389.8" r="16.7" stroke-width="1.9"/>
<circle cx="1041.4" cy="389.8" r="4" stroke-width="1.5"/>
<line x1="1041.4" y1="385.8" x2="1041.4" y2="373.8" stroke-width="2.6"/>
<line x1="1016.9" y1="389.8" x2="1061.4" y2="389.8" stroke-width="1.0" shape-rendering="crispEdges"/>
<line x1="1041.4" y1="367.3" x2="1041.4" y2="416.8" stroke-width="1.0" shape-rendering="crispEdges"/>
<path d="M1094.5 304.5C1097 308 1102 307.5 1110 306.8L1150 306.8A220 220 0 0 1 1349.39 619.98" stroke-width="2.0"/>
<path d="M1349.39 619.98C1345.66 627.38 1336.11 651.06 1327 664.4C1317.89 677.74 1306.55 691.2 1294.7 700C1282.85 708.8 1267.02 713.8 1255.9 717.2C1244.78 720.6 1235.02 719.93 1228 720.4C1220.98 720.87 1216.17 720.07 1213.8 720L1040.7 703.2" stroke-width="2.0"/>
<path d="M1101 421C1103 414 1108 411 1113 415.5L1161 461.5C1163.5 464 1164.3 466 1164.3 469V472C1164.3 476 1161.5 478.5 1157 478.5H1057C1052 478.5 1048.5 475.5 1047 470" stroke-width="2.0"/>
<path d="M1196.83 354.37L1297.13 453.37A32 32 0 0 1 1251.87 498.63L1151.57 399.63A32 32 0 0 1 1196.83 354.37Z" stroke-width="2.0"/>
<path d="M972.7 464.5V506.9H1218.7C1227 506.9 1233.3 513 1233.3 521.5V635.3C1233.3 643.5 1227 648.9 1218.7 648.9H1040.7" stroke-width="2.0"/>
<path d="M996 507V521.4M1016.5 507V521.4" stroke-width="1.9"/>
<rect x="988" y="521.4" width="37.2" height="19.4" stroke-width="1.9"/>
<line x1="988" y1="540.8" x2="988" y2="626.2" stroke-width="1.0" shape-rendering="crispEdges"/>
<line x1="1025.2" y1="540.8" x2="1025.2" y2="626.2" stroke-width="1.0" shape-rendering="crispEdges"/>
<path d="M988 645V626.2H1025.2V645" stroke-width="1.9"/>
<path d="M1040.7 645H972.8V708.7H1040.7" stroke-width="2.0"/>
<path d="M1033.5 651V703" stroke-width="1.5" stroke-dasharray="30 6"/>
<path d="M1104.5 680.6C1104.5 677.18 1105.42 672.67 1108 670C1110.58 667.33 1109.67 665.53 1120 664.6C1130.33 663.67 1152.73 664.43 1170 664.4C1187.27 664.37 1211.43 666.55 1223.6 664.4C1235.77 662.25 1238.8 656.35 1243 651.5C1247.2 646.65 1247.83 640.55 1248.8 635.3C1249.77 630.05 1248.8 625.05 1248.8 620C1248.8 614.95 1248.8 610 1248.8 605C1248.8 600 1248.8 594.67 1248.8 590C1248.8 585.33 1248.52 581.5 1248.8 577C1249.08 572.5 1249.3 567.3 1250.5 563C1251.7 558.7 1251.87 556.13 1256 551.2C1260.13 546.27 1268.3 537.18 1275.3 533.4C1282.3 529.62 1289.9 527.97 1298 528.5C1306.1 529.03 1316.35 531.73 1323.9 536.6C1331.45 541.47 1339.37 550.97 1343.3 557.7C1347.23 564.43 1347.5 568.38 1347.5 577C1347.5 585.62 1346.7 598.6 1343.3 609.4C1339.9 620.2 1333.57 631.02 1327.1 641.8C1320.63 652.58 1313.67 664.93 1304.5 674.1C1295.33 683.27 1282.35 691.67 1272.1 696.8C1261.85 701.93 1258.35 704.37 1243 704.9C1227.65 705.43 1200.5 701.62 1180 700C1159.5 698.38 1132 696.78 1120 695.2C1108 693.62 1110.58 692.93 1108 690.5C1105.42 688.07 1104.5 684.02 1104.5 680.6Z" stroke-width="2.0"/>
<line x1="880" y1="365.9" x2="1137" y2="365.9" stroke-width="1.0" stroke-dasharray="22 3 3 3" shape-rendering="crispEdges"/>
<line x1="1007.5" y1="124" x2="1007.5" y2="723" stroke-width="1.0" stroke-dasharray="22 3 3 3" shape-rendering="crispEdges"/>
<line x1="901.9" y1="82" x2="901.9" y2="366" stroke-width="1.0" shape-rendering="crispEdges"/>
<line x1="1369.5" y1="82" x2="1369.5" y2="528" stroke-width="1.0" shape-rendering="crispEdges"/>
<line x1="901.9" y1="89.5" x2="1369.5" y2="89.5" stroke-width="1.0" shape-rendering="crispEdges"/>
<polygon points="901.9,89.5 918.9,87.2 918.9,91.8" fill="#000" stroke="none"/>
<polygon points="1369.5,89.5 1352.5,91.8 1352.5,87.2" fill="#000" stroke="none"/>
<text transform="translate(1132 78.9) skewX(-15) scale(0.650 1)" font-size="26" text-anchor="middle" stroke="#000" stroke-width="0.08">L</text>
<line x1="1022.8" y1="139.5" x2="1431.6" y2="139.5" stroke-width="1.0" shape-rendering="crispEdges"/>
<line x1="1225" y1="720.4" x2="1431" y2="720.4" stroke-width="1.0" shape-rendering="crispEdges"/>
<line x1="1424.7" y1="139.5" x2="1424.7" y2="720.4" stroke-width="1.0" shape-rendering="crispEdges"/>
<polygon points="1424.7,139.5 1427,156.5 1422.4,156.5" fill="#000" stroke="none"/>
<polygon points="1424.7,720.4 1422.4,703.4 1427,703.4" fill="#000" stroke="none"/>
<text transform="translate(1414 428) rotate(-90) skewX(-15) scale(0.650 1)" font-size="26" text-anchor="middle" stroke="#000" stroke-width="0.08">H</text>
<line x1="1007.5" y1="559.9" x2="1233.3" y2="559.9" stroke-width="1.0" shape-rendering="crispEdges"/>
<polygon points="1007.5,559.9 1024.5,557.6 1024.5,562.2" fill="#000" stroke="none"/>
<polygon points="1233.3,559.9 1216.3,562.2 1216.3,557.6" fill="#000" stroke="none"/>
<text transform="translate(1116.5 549.6) skewX(-15) scale(0.650 1)" font-size="26" text-anchor="middle" stroke="#000" stroke-width="0.08">A</text>
<line x1="943.7" y1="600.4" x2="1052" y2="600.4" stroke-width="1.0" shape-rendering="crispEdges"/>
<polygon points="988,600.4 975,602.7 975,598.1" fill="#000" stroke="none"/>
<polygon points="1025.2,600.4 1038.2,598.1 1038.2,602.7" fill="#000" stroke="none"/>
<text transform="translate(959 590) skewX(-15) scale(0.650 1)" font-size="26" text-anchor="middle" stroke="#000" stroke-width="0.08">D</text>
<path d="M1628 309H1443.7V272.8H1542.8" stroke-width="2.0"/>
<path d="M1542.8 272.8C1580 276 1605 290 1628 309" stroke-width="1.0"/>
<path d="M1476.7 309V320.4M1504 309V320.4" stroke-width="1.9"/>
<path d="M1470.8 329V320.4H1509.9V329C1498 335 1483 335 1470.8 329Z" stroke-width="1.9"/>
<line x1="1470.8" y1="329" x2="1509.9" y2="329" stroke-width="1.4"/>
<line x1="1471.4" y1="329" x2="1471.4" y2="441.3" stroke-width="1.0" shape-rendering="crispEdges"/>
<line x1="1509.9" y1="329" x2="1509.9" y2="441.3" stroke-width="1.0" shape-rendering="crispEdges"/>
<line x1="1490.4" y1="273.7" x2="1490.4" y2="522" stroke-width="1.0" stroke-dasharray="22 3 3 3" shape-rendering="crispEdges"/>
<line x1="1443.7" y1="365.5" x2="1471.4" y2="365.5" stroke-width="1.0" shape-rendering="crispEdges"/>
<line x1="1509.9" y1="365.5" x2="1573.4" y2="365.5" stroke-width="1.0" shape-rendering="crispEdges"/>
<polygon points="1471.4,365.5 1458.4,367.8 1458.4,363.2" fill="#000" stroke="none"/>
<polygon points="1509.9,365.5 1522.9,363.2 1522.9,367.8" fill="#000" stroke="none"/>
<text transform="translate(1546.5 357) skewX(-15) scale(0.714 1)" font-size="26" text-anchor="middle" stroke="#000" stroke-width="0.08">ø10</text>
<path d="M1470.8 451V441.3C1483 436 1498 436 1509.9 441.3V451" stroke-width="1.9"/>
<line x1="1470.8" y1="441.3" x2="1509.9" y2="441.3" stroke-width="1.4"/>
<path d="M1628 451.5H1459.7V514.8H1505L1509 510.5H1518L1628 534.6" stroke-width="2.0"/>
<path d="M1628 451.5C1624 465 1619 475 1622 490C1626 505 1631 515 1628 534.6" stroke-width="1.2"/>
<line x1="1510.5" y1="456" x2="1510.5" y2="510" stroke-width="1.0" shape-rendering="crispEdges"/>
<text transform="translate(676 38.3) skewX(-15) scale(0.670 1)" font-size="35.5" text-anchor="start" stroke="#fff" stroke-width="0.1">Толщиномеры индикаторные ручные</text>
<path d="M595.2 5.4L616.9 20.2L608.7 45.7H582.2L573.3 20.5Z" stroke-width="3.5" stroke-linejoin="miter"/>
<path d="M586 17.2H602C607 18.5 610.6 22.5 610.8 27.2C610.6 32.5 607 36.5 602 37.5H588C583 36.5 579.3 32 579.2 27.2C579.3 22.5 582 18.5 586 17.2Z" fill="#000" stroke="none"/>
<circle cx="601.2" cy="28" r="4.5" fill="#fff" stroke="none"/>
<path d="M601.5 23.2L610 24V27L604.5 27.2C604 25.5 603 24.3 601.5 23.2Z" fill="#000" stroke="none"/>
<rect x="259.5" y="758" width="924.2" height="361.5" stroke-width="2.4"/>
<line x1="259.5" y1="832.1" x2="1183.7" y2="832.1" stroke-width="2.2"/>
<line x1="259.5" y1="1097.5" x2="1183.7" y2="1097.5" stroke-width="2.2"/>
<line x1="371.4" y1="758" x2="371.4" y2="1097.5" stroke-width="1.3"/>
<line x1="451.3" y1="758" x2="451.3" y2="1097.5" stroke-width="1.3"/>
<line x1="519.5" y1="758" x2="519.5" y2="1097.5" stroke-width="1.3"/>
<line x1="587.4" y1="758" x2="587.4" y2="1097.5" stroke-width="1.3"/>
<line x1="844.3" y1="758" x2="844.3" y2="1097.5" stroke-width="1.3"/>
<line x1="957.3" y1="758" x2="957.3" y2="1097.5" stroke-width="1.3"/>
<line x1="1014.3" y1="758" x2="1014.3" y2="1097.5" stroke-width="1.3"/>
<line x1="1070.4" y1="758" x2="1070.4" y2="1097.5" stroke-width="1.3"/>
<line x1="1127" y1="758" x2="1127" y2="1097.5" stroke-width="1.3"/>
<line x1="693.2" y1="795.3" x2="693.2" y2="1097.5" stroke-width="1.3"/>
<line x1="587.4" y1="795.3" x2="844.3" y2="795.3" stroke-width="1.3"/>
<line x1="259.5" y1="871" x2="371.4" y2="871" stroke-width="1.3"/>
<line x1="259.5" y1="909.5" x2="371.4" y2="909.5" stroke-width="1.3"/>
<line x1="259.5" y1="947" x2="371.4" y2="947" stroke-width="1.3"/>
<line x1="259.5" y1="984.5" x2="371.4" y2="984.5" stroke-width="1.3"/>
<line x1="259.5" y1="1022" x2="371.4" y2="1022" stroke-width="1.3"/>
<line x1="259.5" y1="1060" x2="371.4" y2="1060" stroke-width="1.3"/>
<line x1="371.4" y1="871" x2="451.3" y2="871" stroke-width="1.3"/>
<line x1="371.4" y1="1060" x2="451.3" y2="1060" stroke-width="1.3"/>
<line x1="451.3" y1="871" x2="519.5" y2="871" stroke-width="1.3"/>
<line x1="519.5" y1="909.5" x2="587.4" y2="909.5" stroke-width="1.3"/>
<line x1="519.5" y1="947" x2="587.4" y2="947" stroke-width="1.3"/>
<line x1="519.5" y1="984.5" x2="587.4" y2="984.5" stroke-width="1.3"/>
<line x1="519.5" y1="1022" x2="587.4" y2="1022" stroke-width="1.3"/>
<line x1="519.5" y1="1060" x2="587.4" y2="1060" stroke-width="1.3"/>
<line x1="587.4" y1="871" x2="844.3" y2="871" stroke-width="1.3"/>
<line x1="693.2" y1="1060" x2="844.3" y2="1060" stroke-width="1.3"/>
<line x1="1014.3" y1="871" x2="1183.7" y2="871" stroke-width="1.3"/>
<line x1="1014.3" y1="909.5" x2="1183.7" y2="909.5" stroke-width="1.3"/>
<line x1="1014.3" y1="947" x2="1183.7" y2="947" stroke-width="1.3"/>
<line x1="1014.3" y1="984.5" x2="1183.7" y2="984.5" stroke-width="1.3"/>
<line x1="1014.3" y1="1022" x2="1183.7" y2="1022" stroke-width="1.3"/>
<line x1="1014.3" y1="1060" x2="1183.7" y2="1060" stroke-width="1.3"/>
<text transform="translate(311.75 804) skewX(-15) scale(0.648 1)" font-size="21" text-anchor="middle" stroke="#000" stroke-width="0.08">Модификация</text>
<text transform="translate(407.9 776) skewX(-15) scale(0.664 1)" font-size="21" text-anchor="middle" stroke="#000" stroke-width="0.08">Диапазон</text>
<text transform="translate(409.3 802.5) skewX(-15) scale(0.585 1)" font-size="21" text-anchor="middle" stroke="#000" stroke-width="0.08">измерения,</text>
<text transform="translate(408.3 828.4) skewX(-15) scale(0.675 1)" font-size="21" text-anchor="middle" stroke="#000" stroke-width="0.08">мм</text>
<text transform="translate(482 776) skewX(-15) scale(0.681 1)" font-size="21" text-anchor="middle" stroke="#000" stroke-width="0.08">Цена</text>
<text transform="translate(482.4 802.5) skewX(-15) scale(0.591 1)" font-size="21" text-anchor="middle" stroke="#000" stroke-width="0.08">деления,</text>
<text transform="translate(485.25 828.4) skewX(-15) scale(0.634 1)" font-size="21" text-anchor="middle" stroke="#000" stroke-width="0.08">мм</text>
<text transform="translate(549.7 790.4) skewX(-15) scale(0.667 1)" font-size="21" text-anchor="middle" stroke="#000" stroke-width="0.08">А, мм</text>
<text transform="translate(548.55 816.3) skewX(-15) scale(0.660 1)" font-size="18" text-anchor="middle" stroke="#000" stroke-width="0.08">не менее</text>
<text transform="translate(710.95 783.8) skewX(-15) scale(0.625 1)" font-size="18.5" text-anchor="middle" stroke="#000" stroke-width="0.08">Пределы допускаемой погрешности ,мм</text>
<text transform="translate(636.2 814) skewX(-15) scale(0.760 1)" font-size="20" text-anchor="middle" stroke="#000" stroke-width="0.08">на участке</text>
<text transform="translate(637 829.8) skewX(-15) scale(0.688 1)" font-size="20" text-anchor="middle" stroke="#000" stroke-width="0.08">до 1 мм</text>
<text transform="translate(764.55 814) skewX(-15) scale(0.715 1)" font-size="20" text-anchor="middle" stroke="#000" stroke-width="0.08">на всем диапа-</text>
<text transform="translate(766 829.8) skewX(-15) scale(0.691 1)" font-size="20" text-anchor="middle" stroke="#000" stroke-width="0.08">зоне измерения</text>
<text transform="translate(897.1 789.6) skewX(-15) scale(0.653 1)" font-size="21" text-anchor="middle" stroke="#000" stroke-width="0.08">Нормативный</text>
<text transform="translate(897.1 815.5) skewX(-15) scale(0.664 1)" font-size="21" text-anchor="middle" stroke="#000" stroke-width="0.08">документ</text>
<text transform="translate(982.25 802.5) skewX(-15) scale(0.645 1)" font-size="21" text-anchor="middle" stroke="#000" stroke-width="0.08">D, мм</text>
<text transform="translate(1039.65 802.5) skewX(-15) scale(0.657 1)" font-size="21" text-anchor="middle" stroke="#000" stroke-width="0.08">L, мм</text>
<text transform="translate(1096.3 802.5) skewX(-15) scale(0.615 1)" font-size="21" text-anchor="middle" stroke="#000" stroke-width="0.08">H, мм</text>
<text transform="translate(1153.8 789.6) skewX(-15) scale(0.625 1)" font-size="21" text-anchor="middle" stroke="#000" stroke-width="0.08">Масса,</text>
<text transform="translate(1153.05 815.5) skewX(-15) scale(0.821 1)" font-size="21" text-anchor="middle" stroke="#000" stroke-width="0.08">кг</text>
<text transform="translate(314.2 860) skewX(-15) scale(0.727 1)" font-size="21" text-anchor="middle" stroke="#000" stroke-width="0.08">ТР10-60</text>
<text transform="translate(314.2 896.9) skewX(-15) scale(0.748 1)" font-size="21" text-anchor="middle" stroke="#000" stroke-width="0.08">ТР25-60</text>
<text transform="translate(314.2 934.8) skewX(-15) scale(0.713 1)" font-size="21" text-anchor="middle" stroke="#000" stroke-width="0.08">ТР25-100</text>
<text transform="translate(314.2 972.3) skewX(-15) scale(0.738 1)" font-size="21" text-anchor="middle" stroke="#000" stroke-width="0.08">ТР25-250</text>
<text transform="translate(314.2 1010.2) skewX(-15) scale(0.737 1)" font-size="21" text-anchor="middle" stroke="#000" stroke-width="0.08">ТР25-60Б</text>
<text transform="translate(314.2 1048.5) skewX(-15) scale(0.698 1)" font-size="21" text-anchor="middle" stroke="#000" stroke-width="0.08">ТР25-100Б</text>
<text transform="translate(314.2 1085.9) skewX(-15) scale(0.698 1)" font-size="21" text-anchor="middle" stroke="#000" stroke-width="0.08">ТР50-160Б</text>
<text transform="translate(409.35 860) skewX(-15) scale(0.680 1)" font-size="21" text-anchor="middle" stroke="#000" stroke-width="0.08">0–10</text>
<text transform="translate(409.35 972.3) skewX(-15) scale(0.680 1)" font-size="21" text-anchor="middle" stroke="#000" stroke-width="0.08">0–25</text>
<text transform="translate(409.35 1085.9) skewX(-15) scale(0.680 1)" font-size="21" text-anchor="middle" stroke="#000" stroke-width="0.08">0–50</text>
<text transform="translate(483.4 860) skewX(-15) scale(0.680 1)" font-size="21" text-anchor="middle" stroke="#000" stroke-width="0.08">0,01</text>
<text transform="translate(483.4 991.8) skewX(-15) scale(0.680 1)" font-size="21" text-anchor="middle" stroke="#000" stroke-width="0.08">0,10</text>
<text transform="translate(551.45 877.9) skewX(-15) scale(0.680 1)" font-size="21" text-anchor="middle" stroke="#000" stroke-width="0.08">60</text>
<text transform="translate(551.45 934.8) skewX(-15) scale(0.680 1)" font-size="21" text-anchor="middle" stroke="#000" stroke-width="0.08">100</text>
<text transform="translate(551.45 972.3) skewX(-15) scale(0.680 1)" font-size="21" text-anchor="middle" stroke="#000" stroke-width="0.08">250</text>
<text transform="translate(551.45 1010.2) skewX(-15) scale(0.680 1)" font-size="21" text-anchor="middle" stroke="#000" stroke-width="0.08">60</text>
<text transform="translate(551.45 1048.5) skewX(-15) scale(0.680 1)" font-size="21" text-anchor="middle" stroke="#000" stroke-width="0.08">100</text>
<text transform="translate(551.45 1085.9) skewX(-15) scale(0.680 1)" font-size="21" text-anchor="middle" stroke="#000" stroke-width="0.08">160</text>
<text transform="translate(638.3 860) skewX(-15) scale(0.620 1)" font-size="21" text-anchor="middle" stroke="#000" stroke-width="0.08">±0,01</text>
<text transform="translate(638.3 991.8) skewX(-15) scale(0.620 1)" font-size="21" text-anchor="middle" stroke="#000" stroke-width="0.08">±0,05</text>
<text transform="translate(766.75 860) skewX(-15) scale(0.600 1)" font-size="21" text-anchor="middle" stroke="#000" stroke-width="0.08">±0,018</text>
<text transform="translate(766.75 972.3) skewX(-15) scale(0.620 1)" font-size="21" text-anchor="middle" stroke="#000" stroke-width="0.08">±0,080</text>
<text transform="translate(766.75 1085.9) skewX(-15) scale(0.600 1)" font-size="21" text-anchor="middle" stroke="#000" stroke-width="0.08">±0,150</text>
<text transform="translate(896.8 972.3) skewX(-15) scale(0.639 1)" font-size="21" text-anchor="middle" stroke="#000" stroke-width="0.08">ГОСТ 11358-89</text>
<text transform="translate(983.8 945.8) skewX(-15) scale(0.680 1)" font-size="21" text-anchor="middle" stroke="#000" stroke-width="0.08">10</text>
<text transform="translate(983.8 972.3) skewX(-15) scale(0.680 1)" font-size="21" text-anchor="middle" stroke="#000" stroke-width="0.08">16*</text>
<text transform="translate(983.8 998.2) skewX(-15) scale(0.680 1)" font-size="21" text-anchor="middle" stroke="#000" stroke-width="0.08">30*</text>
<text transform="translate(1040.35 860) skewX(-15) scale(0.660 1)" font-size="21" text-anchor="middle" stroke="#000" stroke-width="0.08">141</text>
<text transform="translate(1040.35 896.9) skewX(-15) scale(0.660 1)" font-size="21" text-anchor="middle" stroke="#000" stroke-width="0.08">125</text>
<text transform="translate(1040.35 934.8) skewX(-15) scale(0.660 1)" font-size="21" text-anchor="middle" stroke="#000" stroke-width="0.08">166</text>
<text transform="translate(1040.35 972.3) skewX(-15) scale(0.660 1)" font-size="21" text-anchor="middle" stroke="#000" stroke-width="0.08">343</text>
<text transform="translate(1040.35 1010.2) skewX(-15) scale(0.660 1)" font-size="21" text-anchor="middle" stroke="#000" stroke-width="0.08">125</text>
<text transform="translate(1040.35 1048.5) skewX(-15) scale(0.660 1)" font-size="21" text-anchor="middle" stroke="#000" stroke-width="0.08">166</text>
<text transform="translate(1040.35 1085.9) skewX(-15) scale(0.660 1)" font-size="21" text-anchor="middle" stroke="#000" stroke-width="0.08">268</text>
<text transform="translate(1096.7 860) skewX(-15) scale(0.660 1)" font-size="21" text-anchor="middle" stroke="#000" stroke-width="0.08">136</text>
<text transform="translate(1096.7 896.9) skewX(-15) scale(0.660 1)" font-size="21" text-anchor="middle" stroke="#000" stroke-width="0.08">165</text>
<text transform="translate(1096.7 934.8) skewX(-15) scale(0.660 1)" font-size="21" text-anchor="middle" stroke="#000" stroke-width="0.08">170</text>
<text transform="translate(1096.7 972.3) skewX(-15) scale(0.660 1)" font-size="21" text-anchor="middle" stroke="#000" stroke-width="0.08">188</text>
<text transform="translate(1096.7 1010.2) skewX(-15) scale(0.660 1)" font-size="21" text-anchor="middle" stroke="#000" stroke-width="0.08">176</text>
<text transform="translate(1096.7 1048.5) skewX(-15) scale(0.660 1)" font-size="21" text-anchor="middle" stroke="#000" stroke-width="0.08">181</text>
<text transform="translate(1096.7 1085.9) skewX(-15) scale(0.660 1)" font-size="21" text-anchor="middle" stroke="#000" stroke-width="0.08">304</text>
<text transform="translate(1153.35 860) skewX(-15) scale(0.700 1)" font-size="21" text-anchor="middle" stroke="#000" stroke-width="0.08">0,43</text>
<text transform="translate(1153.35 896.9) skewX(-15) scale(0.700 1)" font-size="21" text-anchor="middle" stroke="#000" stroke-width="0.08">0,39</text>
<text transform="translate(1153.35 934.8) skewX(-15) scale(0.700 1)" font-size="21" text-anchor="middle" stroke="#000" stroke-width="0.08">0,50</text>
<text transform="translate(1153.35 972.3) skewX(-15) scale(0.700 1)" font-size="21" text-anchor="middle" stroke="#000" stroke-width="0.08">0,89</text>
<text transform="translate(1153.35 1010.2) skewX(-15) scale(0.700 1)" font-size="21" text-anchor="middle" stroke="#000" stroke-width="0.08">0,38</text>
<text transform="translate(1153.35 1048.5) skewX(-15) scale(0.700 1)" font-size="21" text-anchor="middle" stroke="#000" stroke-width="0.08">0,51</text>
<text transform="translate(1153.35 1085.9) skewX(-15) scale(0.700 1)" font-size="21" text-anchor="middle" stroke="#000" stroke-width="0.08">1,03</text>
<text transform="translate(370.5 1115.5) skewX(-15) scale(0.793 1)" font-size="16" text-anchor="start" stroke="#000" stroke-width="0.08">* Диаметры пятки и наконечника по заказу потребителя</text>
</g>
</svg>
</body></html>
